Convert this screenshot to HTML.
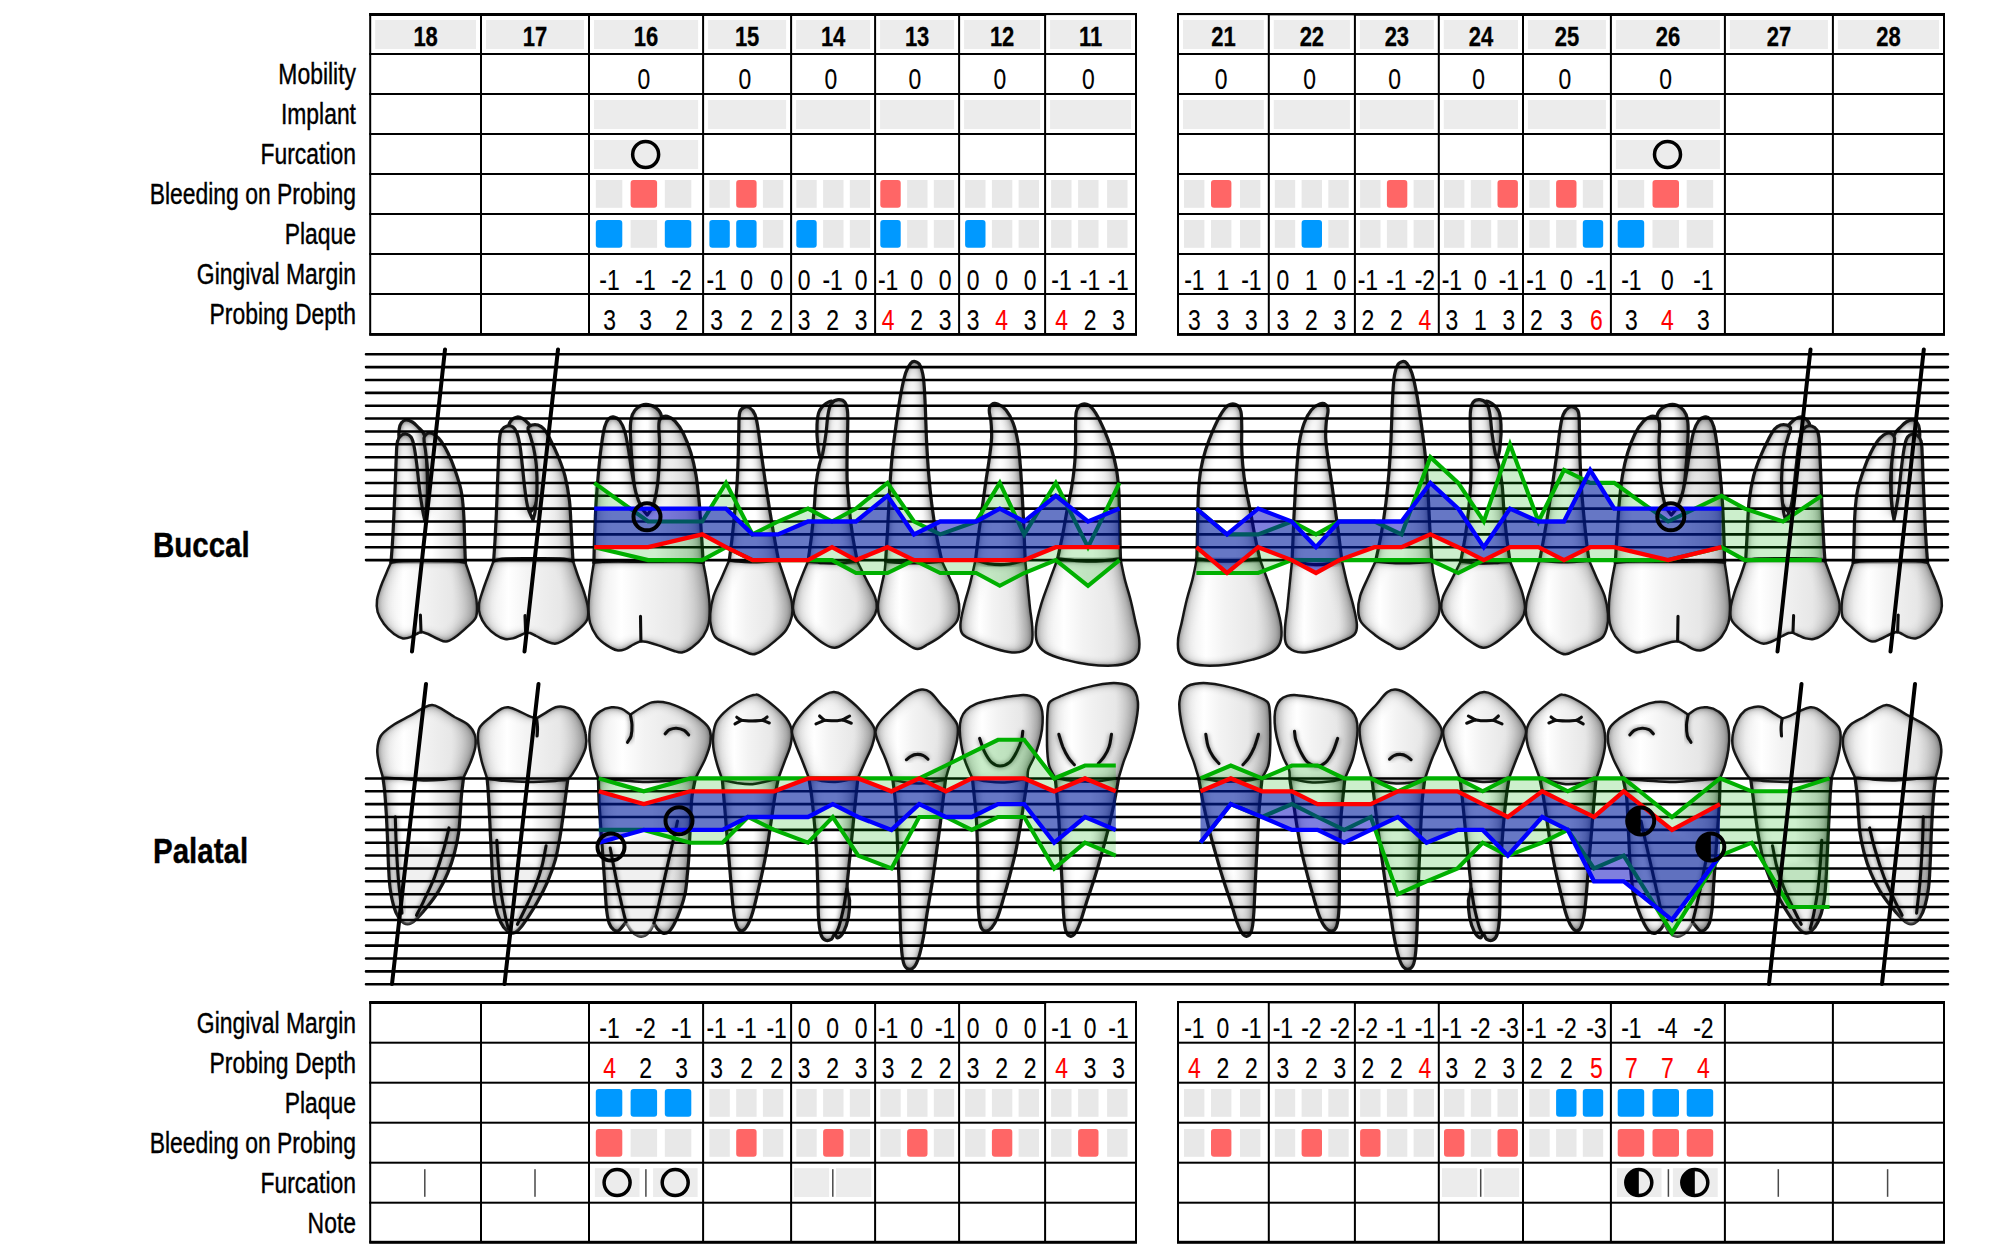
<!DOCTYPE html>
<html lang="en"><head><meta charset="utf-8"><title>Periodontal Chart</title>
<style>html,body{margin:0;padding:0;background:#fff}body{width:2000px;height:1250px;overflow:hidden}svg{display:block}</style>
</head><body>
<svg width="2000" height="1250" viewBox="0 0 2000 1250" font-family="'Liberation Sans', Arial, sans-serif" stroke-width="0.4">
<rect width="2000" height="1250" fill="#fff"/>
<text transform="translate(356.00,84.20) scale(0.801,1)" font-size="28.6" text-anchor="end" stroke="#000" stroke-width="0.4">Mobility</text>
<text transform="translate(356.00,124.20) scale(0.801,1)" font-size="28.6" text-anchor="end" stroke="#000" stroke-width="0.4">Implant</text>
<text transform="translate(356.00,164.20) scale(0.801,1)" font-size="28.6" text-anchor="end" stroke="#000" stroke-width="0.4">Furcation</text>
<text transform="translate(356.00,204.20) scale(0.801,1)" font-size="28.6" text-anchor="end" stroke="#000" stroke-width="0.4">Bleeding on Probing</text>
<text transform="translate(356.00,244.20) scale(0.801,1)" font-size="28.6" text-anchor="end" stroke="#000" stroke-width="0.4">Plaque</text>
<text transform="translate(356.00,284.20) scale(0.801,1)" font-size="28.6" text-anchor="end" stroke="#000" stroke-width="0.4">Gingival Margin</text>
<text transform="translate(356.00,324.20) scale(0.801,1)" font-size="28.6" text-anchor="end" stroke="#000" stroke-width="0.4">Probing Depth</text>
<text transform="translate(356.00,1032.50) scale(0.801,1)" font-size="28.6" text-anchor="end" stroke="#000" stroke-width="0.4">Gingival Margin</text>
<text transform="translate(356.00,1072.50) scale(0.801,1)" font-size="28.6" text-anchor="end" stroke="#000" stroke-width="0.4">Probing Depth</text>
<text transform="translate(356.00,1112.50) scale(0.801,1)" font-size="28.6" text-anchor="end" stroke="#000" stroke-width="0.4">Plaque</text>
<text transform="translate(356.00,1152.50) scale(0.801,1)" font-size="28.6" text-anchor="end" stroke="#000" stroke-width="0.4">Bleeding on Probing</text>
<text transform="translate(356.00,1192.50) scale(0.801,1)" font-size="28.6" text-anchor="end" stroke="#000" stroke-width="0.4">Furcation</text>
<text transform="translate(356.00,1232.50) scale(0.801,1)" font-size="28.6" text-anchor="end" stroke="#000" stroke-width="0.4">Note</text>
<text transform="translate(153.00,557.20) scale(0.825,1)" font-size="35.75" text-anchor="start" font-weight="bold" stroke="#000" stroke-width="0.4">Buccal</text>
<text transform="translate(153.00,863.20) scale(0.825,1)" font-size="35.75" text-anchor="start" font-weight="bold" stroke="#000" stroke-width="0.4">Palatal</text>
<rect x="375.20" y="20.00" width="100.80" height="29.00" fill="#ececec"/>
<text transform="translate(425.60,45.80) scale(0.78,1)" font-size="28.2" text-anchor="middle" font-weight="bold" stroke="#000" stroke-width="0.3">18</text>
<rect x="486.00" y="20.00" width="98.00" height="29.00" fill="#ececec"/>
<text transform="translate(535.00,45.80) scale(0.78,1)" font-size="28.2" text-anchor="middle" font-weight="bold" stroke="#000" stroke-width="0.3">17</text>
<rect x="594.00" y="20.00" width="104.10" height="29.00" fill="#ececec"/>
<text transform="translate(646.05,45.80) scale(0.78,1)" font-size="28.2" text-anchor="middle" font-weight="bold" stroke="#000" stroke-width="0.3">16</text>
<rect x="708.10" y="20.00" width="78.00" height="29.00" fill="#ececec"/>
<text transform="translate(747.10,45.80) scale(0.78,1)" font-size="28.2" text-anchor="middle" font-weight="bold" stroke="#000" stroke-width="0.3">15</text>
<rect x="796.10" y="20.00" width="74.00" height="29.00" fill="#ececec"/>
<text transform="translate(833.10,45.80) scale(0.78,1)" font-size="28.2" text-anchor="middle" font-weight="bold" stroke="#000" stroke-width="0.3">14</text>
<rect x="880.10" y="20.00" width="74.00" height="29.00" fill="#ececec"/>
<text transform="translate(917.10,45.80) scale(0.78,1)" font-size="28.2" text-anchor="middle" font-weight="bold" stroke="#000" stroke-width="0.3">13</text>
<rect x="964.10" y="20.00" width="76.00" height="29.00" fill="#ececec"/>
<text transform="translate(1002.10,45.80) scale(0.78,1)" font-size="28.2" text-anchor="middle" font-weight="bold" stroke="#000" stroke-width="0.3">12</text>
<rect x="1050.10" y="20.00" width="80.90" height="29.00" fill="#ececec"/>
<text transform="translate(1090.55,45.80) scale(0.78,1)" font-size="28.2" text-anchor="middle" font-weight="bold" stroke="#000" stroke-width="0.3">11</text>
<text transform="translate(643.85,89.00) scale(0.801,1)" font-size="28.6" text-anchor="middle" stroke="#000" stroke-width="0.12">0</text>
<rect x="594.00" y="100.00" width="104.10" height="29.00" fill="#ececec"/>
<rect x="594.00" y="140.00" width="104.10" height="29.00" fill="#ececec"/>
<circle cx="645.65" cy="154.50" r="13" fill="none" stroke="#000" stroke-width="3.5"/>
<text transform="translate(744.90,89.00) scale(0.801,1)" font-size="28.6" text-anchor="middle" stroke="#000" stroke-width="0.12">0</text>
<rect x="708.10" y="100.00" width="78.00" height="29.00" fill="#ececec"/>
<text transform="translate(830.90,89.00) scale(0.801,1)" font-size="28.6" text-anchor="middle" stroke="#000" stroke-width="0.12">0</text>
<rect x="796.10" y="100.00" width="74.00" height="29.00" fill="#ececec"/>
<text transform="translate(914.90,89.00) scale(0.801,1)" font-size="28.6" text-anchor="middle" stroke="#000" stroke-width="0.12">0</text>
<rect x="880.10" y="100.00" width="74.00" height="29.00" fill="#ececec"/>
<text transform="translate(999.90,89.00) scale(0.801,1)" font-size="28.6" text-anchor="middle" stroke="#000" stroke-width="0.12">0</text>
<rect x="964.10" y="100.00" width="76.00" height="29.00" fill="#ececec"/>
<text transform="translate(1088.35,89.00) scale(0.801,1)" font-size="28.6" text-anchor="middle" stroke="#000" stroke-width="0.12">0</text>
<rect x="1050.10" y="100.00" width="80.90" height="29.00" fill="#ececec"/>
<rect x="1183.00" y="20.00" width="80.80" height="29.00" fill="#ececec"/>
<text transform="translate(1223.40,45.80) scale(0.78,1)" font-size="28.2" text-anchor="middle" font-weight="bold" stroke="#000" stroke-width="0.3">21</text>
<rect x="1273.80" y="20.00" width="76.10" height="29.00" fill="#ececec"/>
<text transform="translate(1311.85,45.80) scale(0.78,1)" font-size="28.2" text-anchor="middle" font-weight="bold" stroke="#000" stroke-width="0.3">22</text>
<rect x="1359.90" y="20.00" width="73.90" height="29.00" fill="#ececec"/>
<text transform="translate(1396.85,45.80) scale(0.78,1)" font-size="28.2" text-anchor="middle" font-weight="bold" stroke="#000" stroke-width="0.3">23</text>
<rect x="1443.80" y="20.00" width="74.20" height="29.00" fill="#ececec"/>
<text transform="translate(1480.90,45.80) scale(0.78,1)" font-size="28.2" text-anchor="middle" font-weight="bold" stroke="#000" stroke-width="0.3">24</text>
<rect x="1528.00" y="20.00" width="77.90" height="29.00" fill="#ececec"/>
<text transform="translate(1566.95,45.80) scale(0.78,1)" font-size="28.2" text-anchor="middle" font-weight="bold" stroke="#000" stroke-width="0.3">25</text>
<rect x="1615.90" y="20.00" width="104.00" height="29.00" fill="#ececec"/>
<text transform="translate(1667.90,45.80) scale(0.78,1)" font-size="28.2" text-anchor="middle" font-weight="bold" stroke="#000" stroke-width="0.3">26</text>
<rect x="1729.90" y="20.00" width="98.00" height="29.00" fill="#ececec"/>
<text transform="translate(1778.90,45.80) scale(0.78,1)" font-size="28.2" text-anchor="middle" font-weight="bold" stroke="#000" stroke-width="0.3">27</text>
<rect x="1837.90" y="20.00" width="101.10" height="29.00" fill="#ececec"/>
<text transform="translate(1888.45,45.80) scale(0.78,1)" font-size="28.2" text-anchor="middle" font-weight="bold" stroke="#000" stroke-width="0.3">28</text>
<text transform="translate(1221.20,89.00) scale(0.801,1)" font-size="28.6" text-anchor="middle" stroke="#000" stroke-width="0.12">0</text>
<rect x="1183.00" y="100.00" width="80.80" height="29.00" fill="#ececec"/>
<text transform="translate(1309.65,89.00) scale(0.801,1)" font-size="28.6" text-anchor="middle" stroke="#000" stroke-width="0.12">0</text>
<rect x="1273.80" y="100.00" width="76.10" height="29.00" fill="#ececec"/>
<text transform="translate(1394.65,89.00) scale(0.801,1)" font-size="28.6" text-anchor="middle" stroke="#000" stroke-width="0.12">0</text>
<rect x="1359.90" y="100.00" width="73.90" height="29.00" fill="#ececec"/>
<text transform="translate(1478.70,89.00) scale(0.801,1)" font-size="28.6" text-anchor="middle" stroke="#000" stroke-width="0.12">0</text>
<rect x="1443.80" y="100.00" width="74.20" height="29.00" fill="#ececec"/>
<text transform="translate(1564.75,89.00) scale(0.801,1)" font-size="28.6" text-anchor="middle" stroke="#000" stroke-width="0.12">0</text>
<rect x="1528.00" y="100.00" width="77.90" height="29.00" fill="#ececec"/>
<text transform="translate(1665.70,89.00) scale(0.801,1)" font-size="28.6" text-anchor="middle" stroke="#000" stroke-width="0.12">0</text>
<rect x="1615.90" y="100.00" width="104.00" height="29.00" fill="#ececec"/>
<rect x="1615.90" y="140.00" width="104.00" height="29.00" fill="#ececec"/>
<circle cx="1667.50" cy="154.50" r="13" fill="none" stroke="#000" stroke-width="3.5"/>
<rect x="595.80" y="180.00" width="26.50" height="27.80" fill="#e8e8e8"/>
<rect x="630.60" y="180.00" width="26.50" height="27.80" fill="#ff6666" rx="3"/>
<rect x="664.80" y="180.00" width="26.50" height="27.80" fill="#e8e8e8"/>
<rect x="709.40" y="180.00" width="20.40" height="27.80" fill="#e8e8e8"/>
<rect x="736.20" y="180.00" width="20.40" height="27.80" fill="#ff6666" rx="3"/>
<rect x="762.90" y="180.00" width="20.40" height="27.80" fill="#e8e8e8"/>
<rect x="796.30" y="180.00" width="20.40" height="27.80" fill="#e8e8e8"/>
<rect x="823.10" y="180.00" width="20.40" height="27.80" fill="#e8e8e8"/>
<rect x="849.80" y="180.00" width="20.40" height="27.80" fill="#e8e8e8"/>
<rect x="880.30" y="180.00" width="20.40" height="27.80" fill="#ff6666" rx="3"/>
<rect x="907.10" y="180.00" width="20.40" height="27.80" fill="#e8e8e8"/>
<rect x="933.80" y="180.00" width="20.40" height="27.80" fill="#e8e8e8"/>
<rect x="965.10" y="180.00" width="20.40" height="27.80" fill="#e8e8e8"/>
<rect x="991.90" y="180.00" width="20.40" height="27.80" fill="#e8e8e8"/>
<rect x="1018.60" y="180.00" width="20.40" height="27.80" fill="#e8e8e8"/>
<rect x="1051.10" y="180.00" width="20.40" height="27.80" fill="#e8e8e8"/>
<rect x="1078.10" y="180.00" width="20.40" height="27.80" fill="#e8e8e8"/>
<rect x="1107.10" y="180.00" width="20.40" height="27.80" fill="#e8e8e8"/>
<rect x="1184.00" y="180.00" width="20.40" height="27.80" fill="#e8e8e8"/>
<rect x="1211.00" y="180.00" width="20.40" height="27.80" fill="#ff6666" rx="3"/>
<rect x="1240.00" y="180.00" width="20.40" height="27.80" fill="#e8e8e8"/>
<rect x="1274.80" y="180.00" width="20.40" height="27.80" fill="#e8e8e8"/>
<rect x="1301.60" y="180.00" width="20.40" height="27.80" fill="#e8e8e8"/>
<rect x="1328.30" y="180.00" width="20.40" height="27.80" fill="#e8e8e8"/>
<rect x="1360.10" y="180.00" width="20.40" height="27.80" fill="#e8e8e8"/>
<rect x="1386.90" y="180.00" width="20.40" height="27.80" fill="#ff6666" rx="3"/>
<rect x="1413.60" y="180.00" width="20.40" height="27.80" fill="#e8e8e8"/>
<rect x="1444.00" y="180.00" width="20.40" height="27.80" fill="#e8e8e8"/>
<rect x="1470.80" y="180.00" width="20.40" height="27.80" fill="#e8e8e8"/>
<rect x="1497.50" y="180.00" width="20.40" height="27.80" fill="#ff6666" rx="3"/>
<rect x="1529.30" y="180.00" width="20.40" height="27.80" fill="#e8e8e8"/>
<rect x="1556.10" y="180.00" width="20.40" height="27.80" fill="#ff6666" rx="3"/>
<rect x="1582.80" y="180.00" width="20.40" height="27.80" fill="#e8e8e8"/>
<rect x="1617.70" y="180.00" width="26.50" height="27.80" fill="#e8e8e8"/>
<rect x="1652.50" y="180.00" width="26.50" height="27.80" fill="#ff6666" rx="3"/>
<rect x="1686.70" y="180.00" width="26.50" height="27.80" fill="#e8e8e8"/>
<rect x="595.80" y="220.00" width="26.50" height="27.80" fill="#0099ff" rx="3"/>
<rect x="630.60" y="220.00" width="26.50" height="27.80" fill="#e8e8e8"/>
<rect x="664.80" y="220.00" width="26.50" height="27.80" fill="#0099ff" rx="3"/>
<rect x="709.40" y="220.00" width="20.40" height="27.80" fill="#0099ff" rx="3"/>
<rect x="736.20" y="220.00" width="20.40" height="27.80" fill="#0099ff" rx="3"/>
<rect x="762.90" y="220.00" width="20.40" height="27.80" fill="#e8e8e8"/>
<rect x="796.30" y="220.00" width="20.40" height="27.80" fill="#0099ff" rx="3"/>
<rect x="823.10" y="220.00" width="20.40" height="27.80" fill="#e8e8e8"/>
<rect x="849.80" y="220.00" width="20.40" height="27.80" fill="#e8e8e8"/>
<rect x="880.30" y="220.00" width="20.40" height="27.80" fill="#0099ff" rx="3"/>
<rect x="907.10" y="220.00" width="20.40" height="27.80" fill="#e8e8e8"/>
<rect x="933.80" y="220.00" width="20.40" height="27.80" fill="#e8e8e8"/>
<rect x="965.10" y="220.00" width="20.40" height="27.80" fill="#0099ff" rx="3"/>
<rect x="991.90" y="220.00" width="20.40" height="27.80" fill="#e8e8e8"/>
<rect x="1018.60" y="220.00" width="20.40" height="27.80" fill="#e8e8e8"/>
<rect x="1051.10" y="220.00" width="20.40" height="27.80" fill="#e8e8e8"/>
<rect x="1078.10" y="220.00" width="20.40" height="27.80" fill="#e8e8e8"/>
<rect x="1107.10" y="220.00" width="20.40" height="27.80" fill="#e8e8e8"/>
<rect x="1184.00" y="220.00" width="20.40" height="27.80" fill="#e8e8e8"/>
<rect x="1211.00" y="220.00" width="20.40" height="27.80" fill="#e8e8e8"/>
<rect x="1240.00" y="220.00" width="20.40" height="27.80" fill="#e8e8e8"/>
<rect x="1274.80" y="220.00" width="20.40" height="27.80" fill="#e8e8e8"/>
<rect x="1301.60" y="220.00" width="20.40" height="27.80" fill="#0099ff" rx="3"/>
<rect x="1328.30" y="220.00" width="20.40" height="27.80" fill="#e8e8e8"/>
<rect x="1360.10" y="220.00" width="20.40" height="27.80" fill="#e8e8e8"/>
<rect x="1386.90" y="220.00" width="20.40" height="27.80" fill="#e8e8e8"/>
<rect x="1413.60" y="220.00" width="20.40" height="27.80" fill="#e8e8e8"/>
<rect x="1444.00" y="220.00" width="20.40" height="27.80" fill="#e8e8e8"/>
<rect x="1470.80" y="220.00" width="20.40" height="27.80" fill="#e8e8e8"/>
<rect x="1497.50" y="220.00" width="20.40" height="27.80" fill="#e8e8e8"/>
<rect x="1529.30" y="220.00" width="20.40" height="27.80" fill="#e8e8e8"/>
<rect x="1556.10" y="220.00" width="20.40" height="27.80" fill="#e8e8e8"/>
<rect x="1582.80" y="220.00" width="20.40" height="27.80" fill="#0099ff" rx="3"/>
<rect x="1617.70" y="220.00" width="26.50" height="27.80" fill="#0099ff" rx="3"/>
<rect x="1652.50" y="220.00" width="26.50" height="27.80" fill="#e8e8e8"/>
<rect x="1686.70" y="220.00" width="26.50" height="27.80" fill="#e8e8e8"/>
<text transform="translate(609.55,289.70) scale(0.801,1)" font-size="28.6" text-anchor="middle" stroke="#000" stroke-width="0.12">-1</text>
<text transform="translate(645.55,289.70) scale(0.801,1)" font-size="28.6" text-anchor="middle" stroke="#000" stroke-width="0.12">-1</text>
<text transform="translate(681.55,289.70) scale(0.801,1)" font-size="28.6" text-anchor="middle" stroke="#000" stroke-width="0.12">-2</text>
<text transform="translate(716.60,289.70) scale(0.801,1)" font-size="28.6" text-anchor="middle" stroke="#000" stroke-width="0.12">-1</text>
<text transform="translate(746.60,289.70) scale(0.801,1)" font-size="28.6" text-anchor="middle" stroke="#000" stroke-width="0.12">0</text>
<text transform="translate(776.60,289.70) scale(0.801,1)" font-size="28.6" text-anchor="middle" stroke="#000" stroke-width="0.12">0</text>
<text transform="translate(804.10,289.70) scale(0.801,1)" font-size="28.6" text-anchor="middle" stroke="#000" stroke-width="0.12">0</text>
<text transform="translate(832.60,289.70) scale(0.801,1)" font-size="28.6" text-anchor="middle" stroke="#000" stroke-width="0.12">-1</text>
<text transform="translate(861.10,289.70) scale(0.801,1)" font-size="28.6" text-anchor="middle" stroke="#000" stroke-width="0.12">0</text>
<text transform="translate(888.10,289.70) scale(0.801,1)" font-size="28.6" text-anchor="middle" stroke="#000" stroke-width="0.12">-1</text>
<text transform="translate(916.60,289.70) scale(0.801,1)" font-size="28.6" text-anchor="middle" stroke="#000" stroke-width="0.12">0</text>
<text transform="translate(945.10,289.70) scale(0.801,1)" font-size="28.6" text-anchor="middle" stroke="#000" stroke-width="0.12">0</text>
<text transform="translate(973.10,289.70) scale(0.801,1)" font-size="28.6" text-anchor="middle" stroke="#000" stroke-width="0.12">0</text>
<text transform="translate(1001.60,289.70) scale(0.801,1)" font-size="28.6" text-anchor="middle" stroke="#000" stroke-width="0.12">0</text>
<text transform="translate(1030.10,289.70) scale(0.801,1)" font-size="28.6" text-anchor="middle" stroke="#000" stroke-width="0.12">0</text>
<text transform="translate(1061.55,289.70) scale(0.801,1)" font-size="28.6" text-anchor="middle" stroke="#000" stroke-width="0.12">-1</text>
<text transform="translate(1090.05,289.70) scale(0.801,1)" font-size="28.6" text-anchor="middle" stroke="#000" stroke-width="0.12">-1</text>
<text transform="translate(1118.55,289.70) scale(0.801,1)" font-size="28.6" text-anchor="middle" stroke="#000" stroke-width="0.12">-1</text>
<text transform="translate(1194.40,289.70) scale(0.801,1)" font-size="28.6" text-anchor="middle" stroke="#000" stroke-width="0.12">-1</text>
<text transform="translate(1222.90,289.70) scale(0.801,1)" font-size="28.6" text-anchor="middle" stroke="#000" stroke-width="0.12">1</text>
<text transform="translate(1251.40,289.70) scale(0.801,1)" font-size="28.6" text-anchor="middle" stroke="#000" stroke-width="0.12">-1</text>
<text transform="translate(1282.85,289.70) scale(0.801,1)" font-size="28.6" text-anchor="middle" stroke="#000" stroke-width="0.12">0</text>
<text transform="translate(1311.35,289.70) scale(0.801,1)" font-size="28.6" text-anchor="middle" stroke="#000" stroke-width="0.12">1</text>
<text transform="translate(1339.85,289.70) scale(0.801,1)" font-size="28.6" text-anchor="middle" stroke="#000" stroke-width="0.12">0</text>
<text transform="translate(1367.85,289.70) scale(0.801,1)" font-size="28.6" text-anchor="middle" stroke="#000" stroke-width="0.12">-1</text>
<text transform="translate(1396.35,289.70) scale(0.801,1)" font-size="28.6" text-anchor="middle" stroke="#000" stroke-width="0.12">-1</text>
<text transform="translate(1424.85,289.70) scale(0.801,1)" font-size="28.6" text-anchor="middle" stroke="#000" stroke-width="0.12">-2</text>
<text transform="translate(1451.90,289.70) scale(0.801,1)" font-size="28.6" text-anchor="middle" stroke="#000" stroke-width="0.12">-1</text>
<text transform="translate(1480.40,289.70) scale(0.801,1)" font-size="28.6" text-anchor="middle" stroke="#000" stroke-width="0.12">0</text>
<text transform="translate(1508.90,289.70) scale(0.801,1)" font-size="28.6" text-anchor="middle" stroke="#000" stroke-width="0.12">-1</text>
<text transform="translate(1536.45,289.70) scale(0.801,1)" font-size="28.6" text-anchor="middle" stroke="#000" stroke-width="0.12">-1</text>
<text transform="translate(1566.45,289.70) scale(0.801,1)" font-size="28.6" text-anchor="middle" stroke="#000" stroke-width="0.12">0</text>
<text transform="translate(1596.45,289.70) scale(0.801,1)" font-size="28.6" text-anchor="middle" stroke="#000" stroke-width="0.12">-1</text>
<text transform="translate(1631.40,289.70) scale(0.801,1)" font-size="28.6" text-anchor="middle" stroke="#000" stroke-width="0.12">-1</text>
<text transform="translate(1667.40,289.70) scale(0.801,1)" font-size="28.6" text-anchor="middle" stroke="#000" stroke-width="0.12">0</text>
<text transform="translate(1703.40,289.70) scale(0.801,1)" font-size="28.6" text-anchor="middle" stroke="#000" stroke-width="0.12">-1</text>
<text transform="translate(609.55,329.60) scale(0.801,1)" font-size="28.6" text-anchor="middle" stroke="#000" stroke-width="0.12">3</text>
<text transform="translate(645.55,329.60) scale(0.801,1)" font-size="28.6" text-anchor="middle" stroke="#000" stroke-width="0.12">3</text>
<text transform="translate(681.55,329.60) scale(0.801,1)" font-size="28.6" text-anchor="middle" stroke="#000" stroke-width="0.12">2</text>
<text transform="translate(716.60,329.60) scale(0.801,1)" font-size="28.6" text-anchor="middle" stroke="#000" stroke-width="0.12">3</text>
<text transform="translate(746.60,329.60) scale(0.801,1)" font-size="28.6" text-anchor="middle" stroke="#000" stroke-width="0.12">2</text>
<text transform="translate(776.60,329.60) scale(0.801,1)" font-size="28.6" text-anchor="middle" stroke="#000" stroke-width="0.12">2</text>
<text transform="translate(804.10,329.60) scale(0.801,1)" font-size="28.6" text-anchor="middle" stroke="#000" stroke-width="0.12">3</text>
<text transform="translate(832.60,329.60) scale(0.801,1)" font-size="28.6" text-anchor="middle" stroke="#000" stroke-width="0.12">2</text>
<text transform="translate(861.10,329.60) scale(0.801,1)" font-size="28.6" text-anchor="middle" stroke="#000" stroke-width="0.12">3</text>
<text transform="translate(888.10,329.60) scale(0.801,1)" font-size="28.6" text-anchor="middle" fill="#f00" stroke="#f00" stroke-width="0.12">4</text>
<text transform="translate(916.60,329.60) scale(0.801,1)" font-size="28.6" text-anchor="middle" stroke="#000" stroke-width="0.12">2</text>
<text transform="translate(945.10,329.60) scale(0.801,1)" font-size="28.6" text-anchor="middle" stroke="#000" stroke-width="0.12">3</text>
<text transform="translate(973.10,329.60) scale(0.801,1)" font-size="28.6" text-anchor="middle" stroke="#000" stroke-width="0.12">3</text>
<text transform="translate(1001.60,329.60) scale(0.801,1)" font-size="28.6" text-anchor="middle" fill="#f00" stroke="#f00" stroke-width="0.12">4</text>
<text transform="translate(1030.10,329.60) scale(0.801,1)" font-size="28.6" text-anchor="middle" stroke="#000" stroke-width="0.12">3</text>
<text transform="translate(1061.55,329.60) scale(0.801,1)" font-size="28.6" text-anchor="middle" fill="#f00" stroke="#f00" stroke-width="0.12">4</text>
<text transform="translate(1090.05,329.60) scale(0.801,1)" font-size="28.6" text-anchor="middle" stroke="#000" stroke-width="0.12">2</text>
<text transform="translate(1118.55,329.60) scale(0.801,1)" font-size="28.6" text-anchor="middle" stroke="#000" stroke-width="0.12">3</text>
<text transform="translate(1194.40,329.60) scale(0.801,1)" font-size="28.6" text-anchor="middle" stroke="#000" stroke-width="0.12">3</text>
<text transform="translate(1222.90,329.60) scale(0.801,1)" font-size="28.6" text-anchor="middle" stroke="#000" stroke-width="0.12">3</text>
<text transform="translate(1251.40,329.60) scale(0.801,1)" font-size="28.6" text-anchor="middle" stroke="#000" stroke-width="0.12">3</text>
<text transform="translate(1282.85,329.60) scale(0.801,1)" font-size="28.6" text-anchor="middle" stroke="#000" stroke-width="0.12">3</text>
<text transform="translate(1311.35,329.60) scale(0.801,1)" font-size="28.6" text-anchor="middle" stroke="#000" stroke-width="0.12">2</text>
<text transform="translate(1339.85,329.60) scale(0.801,1)" font-size="28.6" text-anchor="middle" stroke="#000" stroke-width="0.12">3</text>
<text transform="translate(1367.85,329.60) scale(0.801,1)" font-size="28.6" text-anchor="middle" stroke="#000" stroke-width="0.12">2</text>
<text transform="translate(1396.35,329.60) scale(0.801,1)" font-size="28.6" text-anchor="middle" stroke="#000" stroke-width="0.12">2</text>
<text transform="translate(1424.85,329.60) scale(0.801,1)" font-size="28.6" text-anchor="middle" fill="#f00" stroke="#f00" stroke-width="0.12">4</text>
<text transform="translate(1451.90,329.60) scale(0.801,1)" font-size="28.6" text-anchor="middle" stroke="#000" stroke-width="0.12">3</text>
<text transform="translate(1480.40,329.60) scale(0.801,1)" font-size="28.6" text-anchor="middle" stroke="#000" stroke-width="0.12">1</text>
<text transform="translate(1508.90,329.60) scale(0.801,1)" font-size="28.6" text-anchor="middle" stroke="#000" stroke-width="0.12">3</text>
<text transform="translate(1536.45,329.60) scale(0.801,1)" font-size="28.6" text-anchor="middle" stroke="#000" stroke-width="0.12">2</text>
<text transform="translate(1566.45,329.60) scale(0.801,1)" font-size="28.6" text-anchor="middle" stroke="#000" stroke-width="0.12">3</text>
<text transform="translate(1596.45,329.60) scale(0.801,1)" font-size="28.6" text-anchor="middle" fill="#f00" stroke="#f00" stroke-width="0.12">6</text>
<text transform="translate(1631.40,329.60) scale(0.801,1)" font-size="28.6" text-anchor="middle" stroke="#000" stroke-width="0.12">3</text>
<text transform="translate(1667.40,329.60) scale(0.801,1)" font-size="28.6" text-anchor="middle" fill="#f00" stroke="#f00" stroke-width="0.12">4</text>
<text transform="translate(1703.40,329.60) scale(0.801,1)" font-size="28.6" text-anchor="middle" stroke="#000" stroke-width="0.12">3</text>
<rect x="369.20" y="13.00" width="112.80" height="3.00" fill="#000"/>
<rect x="480.00" y="13.00" width="110.00" height="3.00" fill="#000"/>
<rect x="588.00" y="13.00" width="116.10" height="3.00" fill="#000"/>
<rect x="702.10" y="13.00" width="90.00" height="3.00" fill="#000"/>
<rect x="790.10" y="13.00" width="86.00" height="3.00" fill="#000"/>
<rect x="874.10" y="13.00" width="86.00" height="3.00" fill="#000"/>
<rect x="958.10" y="13.00" width="88.00" height="3.00" fill="#000"/>
<rect x="1044.10" y="13.00" width="92.90" height="2.10" fill="#000"/>
<rect x="369.20" y="53.00" width="767.80" height="2.00" fill="#000"/>
<rect x="369.20" y="93.00" width="767.80" height="2.00" fill="#000"/>
<rect x="369.20" y="133.00" width="767.80" height="2.00" fill="#000"/>
<rect x="369.20" y="173.00" width="767.80" height="2.00" fill="#000"/>
<rect x="369.20" y="213.00" width="767.80" height="2.00" fill="#000"/>
<rect x="369.20" y="253.00" width="767.80" height="2.00" fill="#000"/>
<rect x="369.20" y="293.00" width="767.80" height="2.00" fill="#000"/>
<rect x="369.20" y="333.00" width="767.80" height="2.90" fill="#000"/>
<rect x="369.20" y="13.00" width="2.00" height="322.00" fill="#000"/>
<rect x="480.00" y="13.00" width="2.00" height="322.00" fill="#000"/>
<rect x="588.00" y="13.00" width="2.00" height="322.00" fill="#000"/>
<rect x="702.10" y="13.00" width="2.00" height="322.00" fill="#000"/>
<rect x="790.10" y="13.00" width="2.00" height="322.00" fill="#000"/>
<rect x="874.10" y="13.00" width="2.00" height="322.00" fill="#000"/>
<rect x="958.10" y="13.00" width="2.00" height="322.00" fill="#000"/>
<rect x="1044.10" y="13.00" width="2.00" height="322.00" fill="#000"/>
<rect x="1135.00" y="13.00" width="2.00" height="322.00" fill="#000"/>
<rect x="1177.00" y="13.00" width="92.80" height="2.10" fill="#000"/>
<rect x="1267.80" y="13.00" width="88.10" height="2.40" fill="#000"/>
<rect x="1353.90" y="13.00" width="85.90" height="2.80" fill="#000"/>
<rect x="1437.80" y="13.00" width="86.20" height="3.00" fill="#000"/>
<rect x="1522.00" y="13.00" width="89.90" height="3.00" fill="#000"/>
<rect x="1609.90" y="13.00" width="116.00" height="3.00" fill="#000"/>
<rect x="1723.90" y="13.00" width="110.00" height="3.00" fill="#000"/>
<rect x="1831.90" y="13.00" width="113.10" height="3.00" fill="#000"/>
<rect x="1177.00" y="53.00" width="768.00" height="2.00" fill="#000"/>
<rect x="1177.00" y="93.00" width="768.00" height="2.00" fill="#000"/>
<rect x="1177.00" y="133.00" width="768.00" height="2.00" fill="#000"/>
<rect x="1177.00" y="173.00" width="768.00" height="2.00" fill="#000"/>
<rect x="1177.00" y="213.00" width="768.00" height="2.00" fill="#000"/>
<rect x="1177.00" y="253.00" width="768.00" height="2.00" fill="#000"/>
<rect x="1177.00" y="293.00" width="768.00" height="2.00" fill="#000"/>
<rect x="1177.00" y="333.00" width="768.00" height="2.90" fill="#000"/>
<rect x="1177.00" y="13.00" width="2.00" height="322.00" fill="#000"/>
<rect x="1267.80" y="13.00" width="2.00" height="322.00" fill="#000"/>
<rect x="1353.90" y="13.00" width="2.00" height="322.00" fill="#000"/>
<rect x="1437.80" y="13.00" width="2.00" height="322.00" fill="#000"/>
<rect x="1522.00" y="13.00" width="2.00" height="322.00" fill="#000"/>
<rect x="1609.90" y="13.00" width="2.00" height="322.00" fill="#000"/>
<rect x="1723.90" y="13.00" width="2.00" height="322.00" fill="#000"/>
<rect x="1831.90" y="13.00" width="2.00" height="322.00" fill="#000"/>
<rect x="1943.00" y="13.00" width="2.00" height="322.00" fill="#000"/>
<text transform="translate(609.55,1037.80) scale(0.801,1)" font-size="28.6" text-anchor="middle" stroke="#000" stroke-width="0.12">-1</text>
<text transform="translate(645.55,1037.80) scale(0.801,1)" font-size="28.6" text-anchor="middle" stroke="#000" stroke-width="0.12">-2</text>
<text transform="translate(681.55,1037.80) scale(0.801,1)" font-size="28.6" text-anchor="middle" stroke="#000" stroke-width="0.12">-1</text>
<text transform="translate(716.60,1037.80) scale(0.801,1)" font-size="28.6" text-anchor="middle" stroke="#000" stroke-width="0.12">-1</text>
<text transform="translate(746.60,1037.80) scale(0.801,1)" font-size="28.6" text-anchor="middle" stroke="#000" stroke-width="0.12">-1</text>
<text transform="translate(776.60,1037.80) scale(0.801,1)" font-size="28.6" text-anchor="middle" stroke="#000" stroke-width="0.12">-1</text>
<text transform="translate(804.10,1037.80) scale(0.801,1)" font-size="28.6" text-anchor="middle" stroke="#000" stroke-width="0.12">0</text>
<text transform="translate(832.60,1037.80) scale(0.801,1)" font-size="28.6" text-anchor="middle" stroke="#000" stroke-width="0.12">0</text>
<text transform="translate(861.10,1037.80) scale(0.801,1)" font-size="28.6" text-anchor="middle" stroke="#000" stroke-width="0.12">0</text>
<text transform="translate(888.10,1037.80) scale(0.801,1)" font-size="28.6" text-anchor="middle" stroke="#000" stroke-width="0.12">-1</text>
<text transform="translate(916.60,1037.80) scale(0.801,1)" font-size="28.6" text-anchor="middle" stroke="#000" stroke-width="0.12">0</text>
<text transform="translate(945.10,1037.80) scale(0.801,1)" font-size="28.6" text-anchor="middle" stroke="#000" stroke-width="0.12">-1</text>
<text transform="translate(973.10,1037.80) scale(0.801,1)" font-size="28.6" text-anchor="middle" stroke="#000" stroke-width="0.12">0</text>
<text transform="translate(1001.60,1037.80) scale(0.801,1)" font-size="28.6" text-anchor="middle" stroke="#000" stroke-width="0.12">0</text>
<text transform="translate(1030.10,1037.80) scale(0.801,1)" font-size="28.6" text-anchor="middle" stroke="#000" stroke-width="0.12">0</text>
<text transform="translate(1061.55,1037.80) scale(0.801,1)" font-size="28.6" text-anchor="middle" stroke="#000" stroke-width="0.12">-1</text>
<text transform="translate(1090.05,1037.80) scale(0.801,1)" font-size="28.6" text-anchor="middle" stroke="#000" stroke-width="0.12">0</text>
<text transform="translate(1118.55,1037.80) scale(0.801,1)" font-size="28.6" text-anchor="middle" stroke="#000" stroke-width="0.12">-1</text>
<text transform="translate(1194.40,1037.80) scale(0.801,1)" font-size="28.6" text-anchor="middle" stroke="#000" stroke-width="0.12">-1</text>
<text transform="translate(1222.90,1037.80) scale(0.801,1)" font-size="28.6" text-anchor="middle" stroke="#000" stroke-width="0.12">0</text>
<text transform="translate(1251.40,1037.80) scale(0.801,1)" font-size="28.6" text-anchor="middle" stroke="#000" stroke-width="0.12">-1</text>
<text transform="translate(1282.85,1037.80) scale(0.801,1)" font-size="28.6" text-anchor="middle" stroke="#000" stroke-width="0.12">-1</text>
<text transform="translate(1311.35,1037.80) scale(0.801,1)" font-size="28.6" text-anchor="middle" stroke="#000" stroke-width="0.12">-2</text>
<text transform="translate(1339.85,1037.80) scale(0.801,1)" font-size="28.6" text-anchor="middle" stroke="#000" stroke-width="0.12">-2</text>
<text transform="translate(1367.85,1037.80) scale(0.801,1)" font-size="28.6" text-anchor="middle" stroke="#000" stroke-width="0.12">-2</text>
<text transform="translate(1396.35,1037.80) scale(0.801,1)" font-size="28.6" text-anchor="middle" stroke="#000" stroke-width="0.12">-1</text>
<text transform="translate(1424.85,1037.80) scale(0.801,1)" font-size="28.6" text-anchor="middle" stroke="#000" stroke-width="0.12">-1</text>
<text transform="translate(1451.90,1037.80) scale(0.801,1)" font-size="28.6" text-anchor="middle" stroke="#000" stroke-width="0.12">-1</text>
<text transform="translate(1480.40,1037.80) scale(0.801,1)" font-size="28.6" text-anchor="middle" stroke="#000" stroke-width="0.12">-2</text>
<text transform="translate(1508.90,1037.80) scale(0.801,1)" font-size="28.6" text-anchor="middle" stroke="#000" stroke-width="0.12">-3</text>
<text transform="translate(1536.45,1037.80) scale(0.801,1)" font-size="28.6" text-anchor="middle" stroke="#000" stroke-width="0.12">-1</text>
<text transform="translate(1566.45,1037.80) scale(0.801,1)" font-size="28.6" text-anchor="middle" stroke="#000" stroke-width="0.12">-2</text>
<text transform="translate(1596.45,1037.80) scale(0.801,1)" font-size="28.6" text-anchor="middle" stroke="#000" stroke-width="0.12">-3</text>
<text transform="translate(1631.40,1037.80) scale(0.801,1)" font-size="28.6" text-anchor="middle" stroke="#000" stroke-width="0.12">-1</text>
<text transform="translate(1667.40,1037.80) scale(0.801,1)" font-size="28.6" text-anchor="middle" stroke="#000" stroke-width="0.12">-4</text>
<text transform="translate(1703.40,1037.80) scale(0.801,1)" font-size="28.6" text-anchor="middle" stroke="#000" stroke-width="0.12">-2</text>
<text transform="translate(609.55,1077.80) scale(0.801,1)" font-size="28.6" text-anchor="middle" fill="#f00" stroke="#f00" stroke-width="0.12">4</text>
<text transform="translate(645.55,1077.80) scale(0.801,1)" font-size="28.6" text-anchor="middle" stroke="#000" stroke-width="0.12">2</text>
<text transform="translate(681.55,1077.80) scale(0.801,1)" font-size="28.6" text-anchor="middle" stroke="#000" stroke-width="0.12">3</text>
<text transform="translate(716.60,1077.80) scale(0.801,1)" font-size="28.6" text-anchor="middle" stroke="#000" stroke-width="0.12">3</text>
<text transform="translate(746.60,1077.80) scale(0.801,1)" font-size="28.6" text-anchor="middle" stroke="#000" stroke-width="0.12">2</text>
<text transform="translate(776.60,1077.80) scale(0.801,1)" font-size="28.6" text-anchor="middle" stroke="#000" stroke-width="0.12">2</text>
<text transform="translate(804.10,1077.80) scale(0.801,1)" font-size="28.6" text-anchor="middle" stroke="#000" stroke-width="0.12">3</text>
<text transform="translate(832.60,1077.80) scale(0.801,1)" font-size="28.6" text-anchor="middle" stroke="#000" stroke-width="0.12">2</text>
<text transform="translate(861.10,1077.80) scale(0.801,1)" font-size="28.6" text-anchor="middle" stroke="#000" stroke-width="0.12">3</text>
<text transform="translate(888.10,1077.80) scale(0.801,1)" font-size="28.6" text-anchor="middle" stroke="#000" stroke-width="0.12">3</text>
<text transform="translate(916.60,1077.80) scale(0.801,1)" font-size="28.6" text-anchor="middle" stroke="#000" stroke-width="0.12">2</text>
<text transform="translate(945.10,1077.80) scale(0.801,1)" font-size="28.6" text-anchor="middle" stroke="#000" stroke-width="0.12">2</text>
<text transform="translate(973.10,1077.80) scale(0.801,1)" font-size="28.6" text-anchor="middle" stroke="#000" stroke-width="0.12">3</text>
<text transform="translate(1001.60,1077.80) scale(0.801,1)" font-size="28.6" text-anchor="middle" stroke="#000" stroke-width="0.12">2</text>
<text transform="translate(1030.10,1077.80) scale(0.801,1)" font-size="28.6" text-anchor="middle" stroke="#000" stroke-width="0.12">2</text>
<text transform="translate(1061.55,1077.80) scale(0.801,1)" font-size="28.6" text-anchor="middle" fill="#f00" stroke="#f00" stroke-width="0.12">4</text>
<text transform="translate(1090.05,1077.80) scale(0.801,1)" font-size="28.6" text-anchor="middle" stroke="#000" stroke-width="0.12">3</text>
<text transform="translate(1118.55,1077.80) scale(0.801,1)" font-size="28.6" text-anchor="middle" stroke="#000" stroke-width="0.12">3</text>
<text transform="translate(1194.40,1077.80) scale(0.801,1)" font-size="28.6" text-anchor="middle" fill="#f00" stroke="#f00" stroke-width="0.12">4</text>
<text transform="translate(1222.90,1077.80) scale(0.801,1)" font-size="28.6" text-anchor="middle" stroke="#000" stroke-width="0.12">2</text>
<text transform="translate(1251.40,1077.80) scale(0.801,1)" font-size="28.6" text-anchor="middle" stroke="#000" stroke-width="0.12">2</text>
<text transform="translate(1282.85,1077.80) scale(0.801,1)" font-size="28.6" text-anchor="middle" stroke="#000" stroke-width="0.12">3</text>
<text transform="translate(1311.35,1077.80) scale(0.801,1)" font-size="28.6" text-anchor="middle" stroke="#000" stroke-width="0.12">2</text>
<text transform="translate(1339.85,1077.80) scale(0.801,1)" font-size="28.6" text-anchor="middle" stroke="#000" stroke-width="0.12">3</text>
<text transform="translate(1367.85,1077.80) scale(0.801,1)" font-size="28.6" text-anchor="middle" stroke="#000" stroke-width="0.12">2</text>
<text transform="translate(1396.35,1077.80) scale(0.801,1)" font-size="28.6" text-anchor="middle" stroke="#000" stroke-width="0.12">2</text>
<text transform="translate(1424.85,1077.80) scale(0.801,1)" font-size="28.6" text-anchor="middle" fill="#f00" stroke="#f00" stroke-width="0.12">4</text>
<text transform="translate(1451.90,1077.80) scale(0.801,1)" font-size="28.6" text-anchor="middle" stroke="#000" stroke-width="0.12">3</text>
<text transform="translate(1480.40,1077.80) scale(0.801,1)" font-size="28.6" text-anchor="middle" stroke="#000" stroke-width="0.12">2</text>
<text transform="translate(1508.90,1077.80) scale(0.801,1)" font-size="28.6" text-anchor="middle" stroke="#000" stroke-width="0.12">3</text>
<text transform="translate(1536.45,1077.80) scale(0.801,1)" font-size="28.6" text-anchor="middle" stroke="#000" stroke-width="0.12">2</text>
<text transform="translate(1566.45,1077.80) scale(0.801,1)" font-size="28.6" text-anchor="middle" stroke="#000" stroke-width="0.12">2</text>
<text transform="translate(1596.45,1077.80) scale(0.801,1)" font-size="28.6" text-anchor="middle" fill="#f00" stroke="#f00" stroke-width="0.12">5</text>
<text transform="translate(1631.40,1077.80) scale(0.801,1)" font-size="28.6" text-anchor="middle" fill="#f00" stroke="#f00" stroke-width="0.12">7</text>
<text transform="translate(1667.40,1077.80) scale(0.801,1)" font-size="28.6" text-anchor="middle" fill="#f00" stroke="#f00" stroke-width="0.12">7</text>
<text transform="translate(1703.40,1077.80) scale(0.801,1)" font-size="28.6" text-anchor="middle" fill="#f00" stroke="#f00" stroke-width="0.12">4</text>
<rect x="595.80" y="1089.00" width="26.50" height="27.80" fill="#0099ff" rx="3"/>
<rect x="630.60" y="1089.00" width="26.50" height="27.80" fill="#0099ff" rx="3"/>
<rect x="664.80" y="1089.00" width="26.50" height="27.80" fill="#0099ff" rx="3"/>
<rect x="709.40" y="1089.00" width="20.40" height="27.80" fill="#e8e8e8"/>
<rect x="736.20" y="1089.00" width="20.40" height="27.80" fill="#e8e8e8"/>
<rect x="762.90" y="1089.00" width="20.40" height="27.80" fill="#e8e8e8"/>
<rect x="796.30" y="1089.00" width="20.40" height="27.80" fill="#e8e8e8"/>
<rect x="823.10" y="1089.00" width="20.40" height="27.80" fill="#e8e8e8"/>
<rect x="849.80" y="1089.00" width="20.40" height="27.80" fill="#e8e8e8"/>
<rect x="880.30" y="1089.00" width="20.40" height="27.80" fill="#e8e8e8"/>
<rect x="907.10" y="1089.00" width="20.40" height="27.80" fill="#e8e8e8"/>
<rect x="933.80" y="1089.00" width="20.40" height="27.80" fill="#e8e8e8"/>
<rect x="965.10" y="1089.00" width="20.40" height="27.80" fill="#e8e8e8"/>
<rect x="991.90" y="1089.00" width="20.40" height="27.80" fill="#e8e8e8"/>
<rect x="1018.60" y="1089.00" width="20.40" height="27.80" fill="#e8e8e8"/>
<rect x="1051.10" y="1089.00" width="20.40" height="27.80" fill="#e8e8e8"/>
<rect x="1078.10" y="1089.00" width="20.40" height="27.80" fill="#e8e8e8"/>
<rect x="1107.10" y="1089.00" width="20.40" height="27.80" fill="#e8e8e8"/>
<rect x="1184.00" y="1089.00" width="20.40" height="27.80" fill="#e8e8e8"/>
<rect x="1211.00" y="1089.00" width="20.40" height="27.80" fill="#e8e8e8"/>
<rect x="1240.00" y="1089.00" width="20.40" height="27.80" fill="#e8e8e8"/>
<rect x="1274.80" y="1089.00" width="20.40" height="27.80" fill="#e8e8e8"/>
<rect x="1301.60" y="1089.00" width="20.40" height="27.80" fill="#e8e8e8"/>
<rect x="1328.30" y="1089.00" width="20.40" height="27.80" fill="#e8e8e8"/>
<rect x="1360.10" y="1089.00" width="20.40" height="27.80" fill="#e8e8e8"/>
<rect x="1386.90" y="1089.00" width="20.40" height="27.80" fill="#e8e8e8"/>
<rect x="1413.60" y="1089.00" width="20.40" height="27.80" fill="#e8e8e8"/>
<rect x="1444.00" y="1089.00" width="20.40" height="27.80" fill="#e8e8e8"/>
<rect x="1470.80" y="1089.00" width="20.40" height="27.80" fill="#e8e8e8"/>
<rect x="1497.50" y="1089.00" width="20.40" height="27.80" fill="#e8e8e8"/>
<rect x="1529.30" y="1089.00" width="20.40" height="27.80" fill="#e8e8e8"/>
<rect x="1556.10" y="1089.00" width="20.40" height="27.80" fill="#0099ff" rx="3"/>
<rect x="1582.80" y="1089.00" width="20.40" height="27.80" fill="#0099ff" rx="3"/>
<rect x="1617.70" y="1089.00" width="26.50" height="27.80" fill="#0099ff" rx="3"/>
<rect x="1652.50" y="1089.00" width="26.50" height="27.80" fill="#0099ff" rx="3"/>
<rect x="1686.70" y="1089.00" width="26.50" height="27.80" fill="#0099ff" rx="3"/>
<rect x="595.80" y="1129.00" width="26.50" height="27.80" fill="#ff6666" rx="3"/>
<rect x="630.60" y="1129.00" width="26.50" height="27.80" fill="#e8e8e8"/>
<rect x="664.80" y="1129.00" width="26.50" height="27.80" fill="#e8e8e8"/>
<rect x="709.40" y="1129.00" width="20.40" height="27.80" fill="#e8e8e8"/>
<rect x="736.20" y="1129.00" width="20.40" height="27.80" fill="#ff6666" rx="3"/>
<rect x="762.90" y="1129.00" width="20.40" height="27.80" fill="#e8e8e8"/>
<rect x="796.30" y="1129.00" width="20.40" height="27.80" fill="#e8e8e8"/>
<rect x="823.10" y="1129.00" width="20.40" height="27.80" fill="#ff6666" rx="3"/>
<rect x="849.80" y="1129.00" width="20.40" height="27.80" fill="#e8e8e8"/>
<rect x="880.30" y="1129.00" width="20.40" height="27.80" fill="#e8e8e8"/>
<rect x="907.10" y="1129.00" width="20.40" height="27.80" fill="#ff6666" rx="3"/>
<rect x="933.80" y="1129.00" width="20.40" height="27.80" fill="#e8e8e8"/>
<rect x="965.10" y="1129.00" width="20.40" height="27.80" fill="#e8e8e8"/>
<rect x="991.90" y="1129.00" width="20.40" height="27.80" fill="#ff6666" rx="3"/>
<rect x="1018.60" y="1129.00" width="20.40" height="27.80" fill="#e8e8e8"/>
<rect x="1051.10" y="1129.00" width="20.40" height="27.80" fill="#e8e8e8"/>
<rect x="1078.10" y="1129.00" width="20.40" height="27.80" fill="#ff6666" rx="3"/>
<rect x="1107.10" y="1129.00" width="20.40" height="27.80" fill="#e8e8e8"/>
<rect x="1184.00" y="1129.00" width="20.40" height="27.80" fill="#e8e8e8"/>
<rect x="1211.00" y="1129.00" width="20.40" height="27.80" fill="#ff6666" rx="3"/>
<rect x="1240.00" y="1129.00" width="20.40" height="27.80" fill="#e8e8e8"/>
<rect x="1274.80" y="1129.00" width="20.40" height="27.80" fill="#e8e8e8"/>
<rect x="1301.60" y="1129.00" width="20.40" height="27.80" fill="#ff6666" rx="3"/>
<rect x="1328.30" y="1129.00" width="20.40" height="27.80" fill="#e8e8e8"/>
<rect x="1360.10" y="1129.00" width="20.40" height="27.80" fill="#ff6666" rx="3"/>
<rect x="1386.90" y="1129.00" width="20.40" height="27.80" fill="#e8e8e8"/>
<rect x="1413.60" y="1129.00" width="20.40" height="27.80" fill="#e8e8e8"/>
<rect x="1444.00" y="1129.00" width="20.40" height="27.80" fill="#ff6666" rx="3"/>
<rect x="1470.80" y="1129.00" width="20.40" height="27.80" fill="#e8e8e8"/>
<rect x="1497.50" y="1129.00" width="20.40" height="27.80" fill="#ff6666" rx="3"/>
<rect x="1529.30" y="1129.00" width="20.40" height="27.80" fill="#e8e8e8"/>
<rect x="1556.10" y="1129.00" width="20.40" height="27.80" fill="#e8e8e8"/>
<rect x="1582.80" y="1129.00" width="20.40" height="27.80" fill="#e8e8e8"/>
<rect x="1617.70" y="1129.00" width="26.50" height="27.80" fill="#ff6666" rx="3"/>
<rect x="1652.50" y="1129.00" width="26.50" height="27.80" fill="#ff6666" rx="3"/>
<rect x="1686.70" y="1129.00" width="26.50" height="27.80" fill="#ff6666" rx="3"/>
<rect x="424.05" y="1169.20" width="1.50" height="27.60" fill="#4a4a4a"/>
<rect x="534.25" y="1169.20" width="1.50" height="27.60" fill="#4a4a4a"/>
<rect x="1777.55" y="1169.20" width="1.50" height="27.60" fill="#4a4a4a"/>
<rect x="1886.85" y="1169.20" width="1.50" height="27.60" fill="#4a4a4a"/>
<rect x="594.90" y="1168.20" width="44.60" height="28.80" fill="#ececec"/>
<rect x="653.10" y="1168.20" width="44.50" height="28.80" fill="#ececec"/>
<rect x="645.15" y="1169.20" width="1.50" height="27.60" fill="#4a4a4a"/>
<circle cx="617.10" cy="1182.60" r="13" fill="none" stroke="#000" stroke-width="3.5"/>
<circle cx="675.20" cy="1182.60" r="13" fill="none" stroke="#000" stroke-width="3.5"/>
<rect x="794.10" y="1168.20" width="35.00" height="28.80" fill="#ececec"/>
<rect x="836.00" y="1168.20" width="35.20" height="28.80" fill="#ececec"/>
<rect x="832.05" y="1169.20" width="1.50" height="27.60" fill="#4a4a4a"/>
<rect x="1442.00" y="1168.20" width="35.20" height="28.80" fill="#ececec"/>
<rect x="1484.10" y="1168.20" width="35.00" height="28.80" fill="#ececec"/>
<rect x="1479.95" y="1169.20" width="1.50" height="27.60" fill="#4a4a4a"/>
<rect x="1616.90" y="1168.20" width="44.60" height="28.80" fill="#ececec"/>
<rect x="1672.90" y="1168.20" width="44.80" height="28.80" fill="#ececec"/>
<rect x="1667.65" y="1169.20" width="1.50" height="27.60" fill="#4a4a4a"/>
<path d="M1638.80,1169.60 A13,13 0 0 0 1638.80,1195.60 Z" fill="#000"/>
<circle cx="1638.80" cy="1182.60" r="13" fill="none" stroke="#000" stroke-width="3.5"/>
<path d="M1694.80,1169.60 A13,13 0 0 0 1694.80,1195.60 Z" fill="#000"/>
<circle cx="1694.80" cy="1182.60" r="13" fill="none" stroke="#000" stroke-width="3.5"/>
<rect x="369.20" y="1001.00" width="112.80" height="3.00" fill="#000"/>
<rect x="480.00" y="1001.00" width="110.00" height="3.00" fill="#000"/>
<rect x="588.00" y="1001.00" width="116.10" height="3.00" fill="#000"/>
<rect x="702.10" y="1001.00" width="90.00" height="3.00" fill="#000"/>
<rect x="790.10" y="1001.00" width="86.00" height="3.00" fill="#000"/>
<rect x="874.10" y="1001.00" width="86.00" height="3.00" fill="#000"/>
<rect x="958.10" y="1001.00" width="88.00" height="3.00" fill="#000"/>
<rect x="1044.10" y="1001.00" width="92.90" height="2.10" fill="#000"/>
<rect x="369.20" y="1041.70" width="767.80" height="2.00" fill="#000"/>
<rect x="369.20" y="1081.70" width="767.80" height="2.00" fill="#000"/>
<rect x="369.20" y="1121.70" width="767.80" height="2.00" fill="#000"/>
<rect x="369.20" y="1161.70" width="767.80" height="2.00" fill="#000"/>
<rect x="369.20" y="1201.70" width="767.80" height="2.00" fill="#000"/>
<rect x="369.20" y="1240.80" width="767.80" height="3.00" fill="#000"/>
<rect x="369.20" y="1001.70" width="2.00" height="241.10" fill="#000"/>
<rect x="480.00" y="1001.70" width="2.00" height="241.10" fill="#000"/>
<rect x="588.00" y="1001.70" width="2.00" height="241.10" fill="#000"/>
<rect x="702.10" y="1001.70" width="2.00" height="241.10" fill="#000"/>
<rect x="790.10" y="1001.70" width="2.00" height="241.10" fill="#000"/>
<rect x="874.10" y="1001.70" width="2.00" height="241.10" fill="#000"/>
<rect x="958.10" y="1001.70" width="2.00" height="241.10" fill="#000"/>
<rect x="1044.10" y="1001.70" width="2.00" height="241.10" fill="#000"/>
<rect x="1135.00" y="1001.70" width="2.00" height="241.10" fill="#000"/>
<rect x="1177.00" y="1001.00" width="92.80" height="2.10" fill="#000"/>
<rect x="1267.80" y="1001.00" width="88.10" height="2.40" fill="#000"/>
<rect x="1353.90" y="1001.00" width="85.90" height="2.80" fill="#000"/>
<rect x="1437.80" y="1001.00" width="86.20" height="3.00" fill="#000"/>
<rect x="1522.00" y="1001.00" width="89.90" height="3.00" fill="#000"/>
<rect x="1609.90" y="1001.00" width="116.00" height="3.00" fill="#000"/>
<rect x="1723.90" y="1001.00" width="110.00" height="3.00" fill="#000"/>
<rect x="1831.90" y="1001.00" width="113.10" height="3.00" fill="#000"/>
<rect x="1177.00" y="1041.70" width="768.00" height="2.00" fill="#000"/>
<rect x="1177.00" y="1081.70" width="768.00" height="2.00" fill="#000"/>
<rect x="1177.00" y="1121.70" width="768.00" height="2.00" fill="#000"/>
<rect x="1177.00" y="1161.70" width="768.00" height="2.00" fill="#000"/>
<rect x="1177.00" y="1201.70" width="768.00" height="2.00" fill="#000"/>
<rect x="1177.00" y="1240.80" width="768.00" height="3.00" fill="#000"/>
<rect x="1177.00" y="1001.70" width="2.00" height="241.10" fill="#000"/>
<rect x="1267.80" y="1001.70" width="2.00" height="241.10" fill="#000"/>
<rect x="1353.90" y="1001.70" width="2.00" height="241.10" fill="#000"/>
<rect x="1437.80" y="1001.70" width="2.00" height="241.10" fill="#000"/>
<rect x="1522.00" y="1001.70" width="2.00" height="241.10" fill="#000"/>
<rect x="1609.90" y="1001.70" width="2.00" height="241.10" fill="#000"/>
<rect x="1723.90" y="1001.70" width="2.00" height="241.10" fill="#000"/>
<rect x="1831.90" y="1001.70" width="2.00" height="241.10" fill="#000"/>
<rect x="1943.00" y="1001.70" width="2.00" height="241.10" fill="#000"/>
<style>.gl{fill:none;stroke:#00b000;stroke-width:4.1;stroke-linejoin:miter}.bl{fill:none;stroke:#00f;stroke-width:4.3;stroke-linejoin:miter}.rl{fill:none;stroke:#f00;stroke-width:4.3;stroke-linejoin:miter}.bf{fill:#0000be;fill-opacity:.5}</style>
<defs>
<filter id="ts" x="-20%" y="-10%" width="140%" height="120%" color-interpolation-filters="sRGB">
<feGaussianBlur in="SourceAlpha" stdDeviation="2.6 2.4" result="b1"/>
<feComponentTransfer in="b1" result="i1"><feFuncA type="linear" slope="-0.4" intercept="0.4"/></feComponentTransfer>
<feGaussianBlur in="SourceAlpha" stdDeviation="6.5 4" result="b2"/>
<feOffset in="b2" dx="-1.5" dy="0" result="b2o"/>
<feComponentTransfer in="b2o" result="i2"><feFuncA type="linear" slope="-0.52" intercept="0.52"/></feComponentTransfer>
<feComposite in="i1" in2="i2" operator="arithmetic" k1="0" k2="1" k3="1" k4="0" result="sum"/>
<feComposite in="sum" in2="SourceAlpha" operator="in" result="s"/>
<feMerge><feMergeNode in="SourceGraphic"/><feMergeNode in="s"/></feMerge>
</filter>
<filter id="tc" x="-20%" y="-20%" width="140%" height="140%" color-interpolation-filters="sRGB">
<feGaussianBlur in="SourceAlpha" stdDeviation="2.6 2.2" result="b1"/>
<feComponentTransfer in="b1" result="i1"><feFuncA type="linear" slope="-0.4" intercept="0.4"/></feComponentTransfer>
<feGaussianBlur in="SourceAlpha" stdDeviation="9 4.5" result="b2"/>
<feOffset in="b2" dx="-2" dy="0" result="b2o"/>
<feComponentTransfer in="b2o" result="i2"><feFuncA type="linear" slope="-0.45" intercept="0.45"/></feComponentTransfer>
<feComposite in="i1" in2="i2" operator="arithmetic" k1="0" k2="1" k3="1" k4="0" result="sum"/>
<feComposite in="sum" in2="SourceAlpha" operator="in" result="s"/>
<feMerge><feMergeNode in="SourceGraphic"/><feMergeNode in="s"/></feMerge>
</filter>
<linearGradient id="tg" x1="0" y1="0" x2="1" y2="0"><stop offset="0" stop-color="#e2e2e2"/><stop offset="0.2" stop-color="#fff"/><stop offset="0.55" stop-color="#fff"/><stop offset="1" stop-color="#c2c2c2"/></linearGradient>
<linearGradient id="tgc" x1="0" y1="0" x2="1" y2="0"><stop offset="0" stop-color="#d6d6d6"/><stop offset="0.12" stop-color="#f0f0f0"/><stop offset="0.27" stop-color="#fff"/><stop offset="0.45" stop-color="#f3f3f3"/><stop offset="0.75" stop-color="#e7e7e7"/><stop offset="1" stop-color="#bebebe"/></linearGradient>
<filter id="gb" x="-20%" y="-20%" width="140%" height="140%"><feGaussianBlur stdDeviation="2"/></filter>
<filter id="lb" x="-50%" y="-50%" width="200%" height="200%"><feGaussianBlur stdDeviation="2.2"/></filter>
</defs>
<style>.olr{fill:none;stroke:#181818;stroke-width:3.2;stroke-linejoin:round;stroke-linecap:round}.olc{fill:none;stroke:#181818;stroke-width:2.5;stroke-linejoin:round;stroke-linecap:round}.il{fill:none;stroke:#111;stroke-width:3.1;stroke-linecap:round}.sh{fill:none;stroke:#000;stroke-opacity:.35;stroke-width:5;filter:url(#lb)}</style>
<filter id="soft" x="0" y="0" width="100%" height="100%" filterUnits="userSpaceOnUse"><feGaussianBlur stdDeviation="0.55"/></filter>
<g id="teethB" filter="url(#soft)"><g id="b18"><path d="M399.0,440.0C398.7,436.3 398.7,432.6 399.2,429.0C399.5,426.7 400.2,424.4 401.6,422.6C402.6,421.2 404.3,420.1 406.0,420.0C408.2,419.9 410.5,420.9 412.4,422.0C414.7,423.4 416.5,425.5 418.4,427.4C420.0,429.0 421.8,430.5 423.0,432.4C424.4,434.7 425.6,437.3 426.0,440.0C427.0,446.6 427.0,453.3 427.0,460.0C427.0,477.3 428.9,494.9 426.0,512.0C425.1,517.1 420.5,526.7 416.0,524.0C408.6,519.5 407.7,508.5 406.0,500.0C402.0,480.3 400.9,460.0 399.0,440.0Z" fill="url(#tg)" filter="url(#ts)"/>
<path d="M399.0,440.0C398.7,436.3 398.7,432.6 399.2,429.0C399.5,426.7 400.2,424.4 401.6,422.6C402.6,421.2 404.3,420.1 406.0,420.0C408.2,419.9 410.5,420.9 412.4,422.0C414.7,423.4 416.5,425.5 418.4,427.4C420.0,429.0 421.8,430.5 423.0,432.4C424.4,434.7 425.6,437.3 426.0,440.0C427.0,446.6 427.0,453.3 427.0,460.0C427.0,477.3 428.9,494.9 426.0,512.0C425.1,517.1 420.5,526.7 416.0,524.0C408.6,519.5 407.7,508.5 406.0,500.0C402.0,480.3 400.9,460.0 399.0,440.0Z" class="olr"/>
<path d="M391.0,562.4C391.5,554.9 392.2,547.5 392.6,540.0C393.2,530.7 393.6,521.3 394.0,512.0C394.5,501.3 395.0,490.7 395.4,480.0C395.8,471.3 395.9,462.7 396.4,454.0C396.6,449.7 396.5,445.2 397.6,441.0C398.1,438.9 399.4,437.0 401.0,435.6C402.3,434.5 404.3,433.8 406.0,434.0C407.9,434.3 409.9,435.4 411.0,437.0C412.8,439.6 413.4,442.9 414.0,446.0C415.4,452.6 416.1,459.3 417.0,466.0C418.0,474.0 418.6,482.0 419.6,490.0C420.5,496.7 421.5,503.4 422.6,510.0C423.2,513.4 423.9,516.7 424.6,520.0C425.3,516.0 426.2,512.0 426.6,508.0C427.4,500.0 427.9,492.0 428.0,484.0C428.1,478.0 427.7,472.0 427.2,466.0C426.8,460.6 426.0,455.3 425.4,450.0C424.9,446.0 423.8,442.0 424.0,438.0C424.1,436.6 424.9,435.3 426.0,434.4C427.1,433.5 428.6,432.9 430.0,433.0C431.8,433.1 433.5,433.9 435.0,435.0C437.3,436.7 439.3,438.7 441.0,441.0C443.7,444.8 446.0,448.8 448.0,453.0C450.7,458.5 453.0,464.2 455.0,470.0C457.3,476.6 459.6,483.2 461.0,490.0C462.5,497.2 463.1,504.6 463.6,512.0C464.3,521.3 464.3,530.7 464.6,540.0C464.9,547.5 465.1,554.9 465.4,562.4C466.9,566.9 468.5,571.4 470.0,576.0C471.7,581.3 473.7,586.6 475.0,592.0C476.1,596.6 476.9,601.3 477.0,606.0C477.1,610.0 477.4,614.4 475.6,618.0C473.5,622.1 469.4,624.9 466.0,628.0C462.2,631.5 458.3,635.1 454.0,638.0C451.6,639.6 448.9,641.4 446.0,641.6C443.2,641.8 440.6,640.1 438.0,639.0C434.6,637.6 431.4,635.5 428.0,634.0C426.1,633.2 424.0,632.7 422.0,632.0C420.8,632.3 419.5,632.5 418.4,633.0C415.8,634.2 413.6,636.1 411.0,637.0C408.4,637.9 405.7,638.9 403.0,638.4C399.7,637.8 396.7,636.0 394.0,634.0C390.2,631.2 386.8,627.8 384.0,624.0C381.3,620.4 378.9,616.4 377.6,612.0C376.5,608.2 376.5,604.0 377.0,600.0C377.6,595.2 379.4,590.6 381.0,586.0C382.4,581.9 384.3,578.0 386.0,574.0C387.6,570.1 389.3,566.3 391.0,562.4Z" fill="url(#tg)" filter="url(#ts)"/>
<path d="M465.4,562.4C466.9,566.9 468.5,571.4 470.0,576.0C471.7,581.3 473.7,586.6 475.0,592.0C476.1,596.6 476.9,601.3 477.0,606.0C477.1,610.0 477.4,614.4 475.6,618.0C473.5,622.1 469.4,624.9 466.0,628.0C462.2,631.5 458.3,635.1 454.0,638.0C451.6,639.6 448.9,641.4 446.0,641.6C443.2,641.8 440.6,640.1 438.0,639.0C434.6,637.6 431.4,635.5 428.0,634.0C426.1,633.2 424.0,632.7 422.0,632.0C420.8,632.3 419.5,632.5 418.4,633.0C415.8,634.2 413.6,636.1 411.0,637.0C408.4,637.9 405.7,638.9 403.0,638.4C399.7,637.8 396.7,636.0 394.0,634.0C390.2,631.2 386.8,627.8 384.0,624.0C381.3,620.4 378.9,616.4 377.6,612.0C376.5,608.2 376.5,604.0 377.0,600.0C377.6,595.2 379.4,590.6 381.0,586.0C382.4,581.9 384.3,578.0 386.0,574.0C387.6,570.1 389.3,566.3 391.0,562.4C393.3,562.0 395.6,561.3 398.0,561.2C407.3,560.8 416.7,560.8 426.0,560.8C436.7,560.8 447.3,560.8 458.0,561.2C460.5,561.3 462.9,562.0 465.4,562.4Z" fill="url(#tgc)" filter="url(#tc)"/>
<path d="M391.0,562.4C391.5,554.9 392.2,547.5 392.6,540.0C393.2,530.7 393.6,521.3 394.0,512.0C394.5,501.3 395.0,490.7 395.4,480.0C395.8,471.3 395.9,462.7 396.4,454.0C396.6,449.7 396.5,445.2 397.6,441.0C398.1,438.9 399.4,437.0 401.0,435.6C402.3,434.5 404.3,433.8 406.0,434.0C407.9,434.3 409.9,435.4 411.0,437.0C412.8,439.6 413.4,442.9 414.0,446.0C415.4,452.6 416.1,459.3 417.0,466.0C418.0,474.0 418.6,482.0 419.6,490.0C420.5,496.7 421.5,503.4 422.6,510.0C423.2,513.4 423.9,516.7 424.6,520.0C425.3,516.0 426.2,512.0 426.6,508.0C427.4,500.0 427.9,492.0 428.0,484.0C428.1,478.0 427.7,472.0 427.2,466.0C426.8,460.6 426.0,455.3 425.4,450.0C424.9,446.0 423.8,442.0 424.0,438.0C424.1,436.6 424.9,435.3 426.0,434.4C427.1,433.5 428.6,432.9 430.0,433.0C431.8,433.1 433.5,433.9 435.0,435.0C437.3,436.7 439.3,438.7 441.0,441.0C443.7,444.8 446.0,448.8 448.0,453.0C450.7,458.5 453.0,464.2 455.0,470.0C457.3,476.6 459.6,483.2 461.0,490.0C462.5,497.2 463.1,504.6 463.6,512.0C464.3,521.3 464.3,530.7 464.6,540.0C464.9,547.5 465.1,554.9 465.4,562.4" class="olr"/>
<path d="M465.4,562.4C466.9,566.9 468.5,571.4 470.0,576.0C471.7,581.3 473.7,586.6 475.0,592.0C476.1,596.6 476.9,601.3 477.0,606.0C477.1,610.0 477.4,614.4 475.6,618.0C473.5,622.1 469.4,624.9 466.0,628.0C462.2,631.5 458.3,635.1 454.0,638.0C451.6,639.6 448.9,641.4 446.0,641.6C443.2,641.8 440.6,640.1 438.0,639.0C434.6,637.6 431.4,635.5 428.0,634.0C426.1,633.2 424.0,632.7 422.0,632.0C420.8,632.3 419.5,632.5 418.4,633.0C415.8,634.2 413.6,636.1 411.0,637.0C408.4,637.9 405.7,638.9 403.0,638.4C399.7,637.8 396.7,636.0 394.0,634.0C390.2,631.2 386.8,627.8 384.0,624.0C381.3,620.4 378.9,616.4 377.6,612.0C376.5,608.2 376.5,604.0 377.0,600.0C377.6,595.2 379.4,590.6 381.0,586.0C382.4,581.9 384.3,578.0 386.0,574.0C387.6,570.1 389.3,566.3 391.0,562.4" class="olc"/>
<path d="M391.0,562.4C393.3,562.0 395.6,561.3 398.0,561.2C407.3,560.8 416.7,560.8 426.0,560.8C436.7,560.8 447.3,560.8 458.0,561.2C460.5,561.3 462.9,562.0 465.4,562.4" class="sh"/>
<path d="M391.0,562.4C393.3,562.0 395.6,561.3 398.0,561.2C407.3,560.8 416.7,560.8 426.0,560.8C436.7,560.8 447.3,560.8 458.0,561.2C460.5,561.3 462.9,562.0 465.4,562.4" class="il"/>
<path d="M420.4,615.0C420.6,620.7 420.8,626.3 421.0,632.0" class="il"/></g>
<g id="b17"><path d="M509.0,425.0C508.9,422.9 510.5,421.1 512.0,419.6C513.3,418.3 515.1,417.2 517.0,417.0C518.8,416.8 520.8,417.5 522.4,418.4C524.5,419.6 526.3,421.3 528.0,423.0C529.2,424.2 530.3,425.5 531.0,427.0C533.0,431.2 535.3,435.4 536.0,440.0C537.6,449.9 538.0,460.0 538.0,470.0C538.0,481.4 539.1,493.1 536.0,504.0C534.8,508.1 528.0,515.8 526.0,512.0C519.3,499.4 520.5,484.0 518.0,470.0C516.2,460.0 515.0,449.9 513.0,440.0C512.0,434.9 509.3,430.2 509.0,425.0Z" fill="url(#tg)" filter="url(#ts)"/>
<path d="M509.0,425.0C508.9,422.9 510.5,421.1 512.0,419.6C513.3,418.3 515.1,417.2 517.0,417.0C518.8,416.8 520.8,417.5 522.4,418.4C524.5,419.6 526.3,421.3 528.0,423.0C529.2,424.2 530.3,425.5 531.0,427.0C533.0,431.2 535.3,435.4 536.0,440.0C537.6,449.9 538.0,460.0 538.0,470.0C538.0,481.4 539.1,493.1 536.0,504.0C534.8,508.1 528.0,515.8 526.0,512.0C519.3,499.4 520.5,484.0 518.0,470.0C516.2,460.0 515.0,449.9 513.0,440.0C512.0,434.9 509.3,430.2 509.0,425.0Z" class="olr"/>
<path d="M493.6,561.0C494.1,554.0 494.6,547.0 495.0,540.0C495.5,530.7 496.0,521.3 496.4,512.0C496.9,501.3 497.2,490.7 497.6,480.0C497.9,472.0 498.2,464.0 498.6,456.0C498.9,450.0 498.9,444.0 499.6,438.0C499.9,435.3 500.2,432.3 501.6,430.0C502.8,428.1 504.8,426.6 507.0,426.0C509.0,425.5 511.3,425.8 513.0,427.0C515.0,428.4 516.2,430.7 517.0,433.0C518.5,437.2 519.3,441.6 520.0,446.0C521.1,452.6 521.6,459.3 522.4,466.0C523.3,474.0 523.9,482.0 525.0,490.0C525.8,496.0 526.4,502.1 528.0,508.0C529.1,512.2 531.3,516.0 533.0,520.0C533.7,517.3 534.6,514.7 535.0,512.0C536.0,504.7 536.8,497.4 537.0,490.0C537.2,482.0 537.0,474.0 536.4,466.0C535.9,459.9 534.8,453.9 533.6,448.0C532.7,443.6 531.2,439.3 530.0,435.0C529.3,432.7 527.5,430.4 528.0,428.0C528.3,426.4 530.4,425.5 532.0,425.0C533.9,424.4 536.1,424.4 538.0,425.0C540.3,425.8 542.4,427.2 544.0,429.0C546.5,432.0 548.2,435.5 550.0,439.0C552.9,444.6 555.6,450.2 558.0,456.0C560.7,462.5 563.2,469.2 565.0,476.0C567.0,483.9 568.4,491.9 569.4,500.0C570.4,508.0 570.5,516.0 571.0,524.0C571.4,530.7 571.6,537.3 572.0,544.0C572.3,549.7 572.7,555.3 573.0,561.0C574.7,566.0 576.2,571.0 578.0,576.0C579.9,581.4 582.3,586.6 584.0,592.0C585.6,597.2 587.4,602.5 588.0,608.0C588.4,612.0 588.7,616.3 587.0,620.0C585.1,624.1 581.3,627.0 578.0,630.0C574.3,633.4 570.3,636.4 566.0,639.0C562.9,640.9 559.6,643.0 556.0,643.6C553.3,644.0 550.5,643.0 548.0,642.0C543.8,640.4 540.0,638.0 536.0,636.0C534.0,635.0 532.1,633.7 530.0,633.0C528.7,632.6 527.3,632.7 526.0,632.6C524.3,633.4 522.7,634.2 521.0,635.0C518.4,636.2 515.8,637.7 513.0,638.4C510.4,639.0 507.6,639.5 505.0,639.0C501.8,638.4 498.7,636.9 496.0,635.0C492.3,632.5 488.8,629.5 486.0,626.0C483.4,622.7 481.3,619.0 480.0,615.0C478.9,611.5 478.6,607.7 479.0,604.0C479.6,599.2 481.5,594.6 483.0,590.0C484.5,585.3 486.3,580.7 488.0,576.0C489.8,571.0 491.7,566.0 493.6,561.0Z" fill="url(#tg)" filter="url(#ts)"/>
<path d="M573.0,561.0C574.7,566.0 576.2,571.0 578.0,576.0C579.9,581.4 582.3,586.6 584.0,592.0C585.6,597.2 587.4,602.5 588.0,608.0C588.4,612.0 588.7,616.3 587.0,620.0C585.1,624.1 581.3,627.0 578.0,630.0C574.3,633.4 570.3,636.4 566.0,639.0C562.9,640.9 559.6,643.0 556.0,643.6C553.3,644.0 550.5,643.0 548.0,642.0C543.8,640.4 540.0,638.0 536.0,636.0C534.0,635.0 532.1,633.7 530.0,633.0C528.7,632.6 527.3,632.7 526.0,632.6C524.3,633.4 522.7,634.2 521.0,635.0C518.4,636.2 515.8,637.7 513.0,638.4C510.4,639.0 507.6,639.5 505.0,639.0C501.8,638.4 498.7,636.9 496.0,635.0C492.3,632.5 488.8,629.5 486.0,626.0C483.4,622.7 481.3,619.0 480.0,615.0C478.9,611.5 478.6,607.7 479.0,604.0C479.6,599.2 481.5,594.6 483.0,590.0C484.5,585.3 486.3,580.7 488.0,576.0C489.8,571.0 491.7,566.0 493.6,561.0C496.4,560.3 499.1,559.2 502.0,559.0C512.6,558.4 523.3,558.6 534.0,558.6C544.0,558.6 554.0,558.4 564.0,559.0C567.1,559.2 570.0,560.3 573.0,561.0Z" fill="url(#tgc)" filter="url(#tc)"/>
<path d="M493.6,561.0C494.1,554.0 494.6,547.0 495.0,540.0C495.5,530.7 496.0,521.3 496.4,512.0C496.9,501.3 497.2,490.7 497.6,480.0C497.9,472.0 498.2,464.0 498.6,456.0C498.9,450.0 498.9,444.0 499.6,438.0C499.9,435.3 500.2,432.3 501.6,430.0C502.8,428.1 504.8,426.6 507.0,426.0C509.0,425.5 511.3,425.8 513.0,427.0C515.0,428.4 516.2,430.7 517.0,433.0C518.5,437.2 519.3,441.6 520.0,446.0C521.1,452.6 521.6,459.3 522.4,466.0C523.3,474.0 523.9,482.0 525.0,490.0C525.8,496.0 526.4,502.1 528.0,508.0C529.1,512.2 531.3,516.0 533.0,520.0C533.7,517.3 534.6,514.7 535.0,512.0C536.0,504.7 536.8,497.4 537.0,490.0C537.2,482.0 537.0,474.0 536.4,466.0C535.9,459.9 534.8,453.9 533.6,448.0C532.7,443.6 531.2,439.3 530.0,435.0C529.3,432.7 527.5,430.4 528.0,428.0C528.3,426.4 530.4,425.5 532.0,425.0C533.9,424.4 536.1,424.4 538.0,425.0C540.3,425.8 542.4,427.2 544.0,429.0C546.5,432.0 548.2,435.5 550.0,439.0C552.9,444.6 555.6,450.2 558.0,456.0C560.7,462.5 563.2,469.2 565.0,476.0C567.0,483.9 568.4,491.9 569.4,500.0C570.4,508.0 570.5,516.0 571.0,524.0C571.4,530.7 571.6,537.3 572.0,544.0C572.3,549.7 572.7,555.3 573.0,561.0" class="olr"/>
<path d="M573.0,561.0C574.7,566.0 576.2,571.0 578.0,576.0C579.9,581.4 582.3,586.6 584.0,592.0C585.6,597.2 587.4,602.5 588.0,608.0C588.4,612.0 588.7,616.3 587.0,620.0C585.1,624.1 581.3,627.0 578.0,630.0C574.3,633.4 570.3,636.4 566.0,639.0C562.9,640.9 559.6,643.0 556.0,643.6C553.3,644.0 550.5,643.0 548.0,642.0C543.8,640.4 540.0,638.0 536.0,636.0C534.0,635.0 532.1,633.7 530.0,633.0C528.7,632.6 527.3,632.7 526.0,632.6C524.3,633.4 522.7,634.2 521.0,635.0C518.4,636.2 515.8,637.7 513.0,638.4C510.4,639.0 507.6,639.5 505.0,639.0C501.8,638.4 498.7,636.9 496.0,635.0C492.3,632.5 488.8,629.5 486.0,626.0C483.4,622.7 481.3,619.0 480.0,615.0C478.9,611.5 478.6,607.7 479.0,604.0C479.6,599.2 481.5,594.6 483.0,590.0C484.5,585.3 486.3,580.7 488.0,576.0C489.8,571.0 491.7,566.0 493.6,561.0" class="olc"/>
<path d="M493.6,561.0C496.4,560.3 499.1,559.2 502.0,559.0C512.6,558.4 523.3,558.6 534.0,558.6C544.0,558.6 554.0,558.4 564.0,559.0C567.1,559.2 570.0,560.3 573.0,561.0" class="sh"/>
<path d="M493.6,561.0C496.4,560.3 499.1,559.2 502.0,559.0C512.6,558.4 523.3,558.6 534.0,558.6C544.0,558.6 554.0,558.4 564.0,559.0C567.1,559.2 570.0,560.3 573.0,561.0" class="il"/>
<path d="M525.0,615.6C525.2,621.1 525.4,626.5 525.6,632.0" class="il"/></g>
<g id="b16"><path d="M630.4,434.8C630.2,429.6 630.1,424.3 631.1,419.1C631.7,415.9 632.9,412.7 634.9,410.2C636.6,407.9 639.0,406.3 641.6,405.2C643.7,404.4 646.1,404.2 648.3,404.6C651.1,405.1 653.9,406.2 656.2,407.9C658.3,409.6 660.5,411.9 661.1,414.6C662.5,421.2 661.8,428.1 661.8,434.8C661.7,446.0 661.4,457.2 660.6,468.4C659.9,478.2 659.5,488.0 657.3,497.5C655.7,504.6 653.7,511.8 649.4,517.7C648.1,519.5 644.0,519.6 642.7,517.7C638.8,511.8 637.4,504.5 636.0,497.5C634.0,488.0 633.5,478.1 632.6,468.4C631.6,457.2 630.8,446.0 630.4,434.8Z" fill="url(#tg)" filter="url(#ts)"/>
<path d="M630.4,434.8C630.2,429.6 630.1,424.3 631.1,419.1C631.7,415.9 632.9,412.7 634.9,410.2C636.6,407.9 639.0,406.3 641.6,405.2C643.7,404.4 646.1,404.2 648.3,404.6C651.1,405.1 653.9,406.2 656.2,407.9C658.3,409.6 660.5,411.9 661.1,414.6C662.5,421.2 661.8,428.1 661.8,434.8C661.7,446.0 661.4,457.2 660.6,468.4C659.9,478.2 659.5,488.0 657.3,497.5C655.7,504.6 653.7,511.8 649.4,517.7C648.1,519.5 644.0,519.6 642.7,517.7C638.8,511.8 637.4,504.5 636.0,497.5C634.0,488.0 633.5,478.1 632.6,468.4C631.6,457.2 630.8,446.0 630.4,434.8Z" class="olr"/>
<path d="M593.9,562.5C594.1,553.5 594.2,544.6 594.6,535.6C595.0,524.4 595.4,513.2 596.1,502.0C596.7,492.3 597.5,482.6 598.4,472.9C599.2,463.9 600.1,454.9 601.3,446.0C602.2,439.6 603.0,433.2 604.6,427.0C605.4,424.0 606.6,421.0 608.7,418.7C609.8,417.4 611.9,416.5 613.6,416.9C616.0,417.4 618.4,418.9 619.9,420.9C622.2,424.0 623.7,427.7 624.8,431.4C626.6,437.7 627.5,444.1 628.6,450.5C629.9,457.9 630.7,465.4 632.0,472.9C633.1,479.6 634.2,486.4 636.0,493.0C637.4,498.1 639.2,503.0 641.6,507.6C643.0,510.4 645.3,512.5 647.2,515.0C649.1,512.2 651.7,509.7 652.8,506.5C655.1,500.0 656.3,493.1 657.3,486.3C658.4,478.9 658.7,471.4 659.1,463.9C659.5,456.5 659.6,449.0 659.5,441.5C659.5,435.5 658.5,429.6 658.9,423.6C659.0,421.6 659.6,419.3 661.1,418.0C662.7,416.6 665.3,415.9 667.4,416.4C670.4,417.1 673.1,419.1 675.2,421.4C678.6,425.0 681.3,429.3 683.5,433.7C686.5,439.8 688.9,446.2 690.9,452.7C693.1,460.1 694.8,467.6 696.0,475.1C697.5,484.0 698.3,493.0 699.2,502.0C700.1,512.4 700.7,522.9 701.4,533.4C702.1,543.1 702.6,552.8 703.2,562.5C704.3,568.5 705.6,574.4 706.6,580.4C707.7,587.9 709.1,595.3 709.5,602.8C709.8,609.5 710.0,616.4 708.8,623.0C707.9,627.7 705.9,632.4 703.2,636.4C700.2,640.8 696.2,644.4 692.0,647.6C689.0,649.9 685.6,651.9 681.9,652.5C679.3,653.0 676.6,651.8 674.1,651.0C668.8,649.4 663.7,647.1 658.4,645.4C654.7,644.1 651.0,642.9 647.2,642.0C645.0,641.5 642.7,641.6 640.5,641.3C638.2,642.3 635.9,643.1 633.8,644.3C630.7,645.8 628.0,648.2 624.8,649.4C622.3,650.3 619.5,650.9 617.0,650.3C613.3,649.5 610.0,647.5 606.9,645.4C603.2,642.8 599.5,640.0 596.8,636.4C593.8,632.4 591.4,627.8 590.1,623.0C588.5,617.2 588.4,611.0 588.5,605.1C588.6,597.6 589.8,590.1 590.8,582.7C591.6,575.9 592.8,569.2 593.9,562.5Z" fill="url(#tg)" filter="url(#ts)"/>
<path d="M703.2,562.5C704.3,568.5 705.6,574.4 706.6,580.4C707.7,587.9 709.1,595.3 709.5,602.8C709.8,609.5 710.0,616.4 708.8,623.0C707.9,627.7 705.9,632.4 703.2,636.4C700.2,640.8 696.2,644.4 692.0,647.6C689.0,649.9 685.6,651.9 681.9,652.5C679.3,653.0 676.6,651.8 674.1,651.0C668.8,649.4 663.7,647.1 658.4,645.4C654.7,644.1 651.0,642.9 647.2,642.0C645.0,641.5 642.7,641.6 640.5,641.3C638.2,642.3 635.9,643.1 633.8,644.3C630.7,645.8 628.0,648.2 624.8,649.4C622.3,650.3 619.5,650.9 617.0,650.3C613.3,649.5 610.0,647.5 606.9,645.4C603.2,642.8 599.5,640.0 596.8,636.4C593.8,632.4 591.4,627.8 590.1,623.0C588.5,617.2 588.4,611.0 588.5,605.1C588.6,597.6 589.8,590.1 590.8,582.7C591.6,575.9 592.8,569.2 593.9,562.5C596.7,562.1 599.5,561.4 602.4,561.4C617.3,561.1 632.3,561.4 647.2,561.4C662.1,561.4 677.1,561.1 692.0,561.4C695.8,561.4 699.5,562.1 703.2,562.5Z" fill="url(#tgc)" filter="url(#tc)"/>
<path d="M593.9,562.5C594.1,553.5 594.2,544.6 594.6,535.6C595.0,524.4 595.4,513.2 596.1,502.0C596.7,492.3 597.5,482.6 598.4,472.9C599.2,463.9 600.1,454.9 601.3,446.0C602.2,439.6 603.0,433.2 604.6,427.0C605.4,424.0 606.6,421.0 608.7,418.7C609.8,417.4 611.9,416.5 613.6,416.9C616.0,417.4 618.4,418.9 619.9,420.9C622.2,424.0 623.7,427.7 624.8,431.4C626.6,437.7 627.5,444.1 628.6,450.5C629.9,457.9 630.7,465.4 632.0,472.9C633.1,479.6 634.2,486.4 636.0,493.0C637.4,498.1 639.2,503.0 641.6,507.6C643.0,510.4 645.3,512.5 647.2,515.0C649.1,512.2 651.7,509.7 652.8,506.5C655.1,500.0 656.3,493.1 657.3,486.3C658.4,478.9 658.7,471.4 659.1,463.9C659.5,456.5 659.6,449.0 659.5,441.5C659.5,435.5 658.5,429.6 658.9,423.6C659.0,421.6 659.6,419.3 661.1,418.0C662.7,416.6 665.3,415.9 667.4,416.4C670.4,417.1 673.1,419.1 675.2,421.4C678.6,425.0 681.3,429.3 683.5,433.7C686.5,439.8 688.9,446.2 690.9,452.7C693.1,460.1 694.8,467.6 696.0,475.1C697.5,484.0 698.3,493.0 699.2,502.0C700.1,512.4 700.7,522.9 701.4,533.4C702.1,543.1 702.6,552.8 703.2,562.5" class="olr"/>
<path d="M703.2,562.5C704.3,568.5 705.6,574.4 706.6,580.4C707.7,587.9 709.1,595.3 709.5,602.8C709.8,609.5 710.0,616.4 708.8,623.0C707.9,627.7 705.9,632.4 703.2,636.4C700.2,640.8 696.2,644.4 692.0,647.6C689.0,649.9 685.6,651.9 681.9,652.5C679.3,653.0 676.6,651.8 674.1,651.0C668.8,649.4 663.7,647.1 658.4,645.4C654.7,644.1 651.0,642.9 647.2,642.0C645.0,641.5 642.7,641.6 640.5,641.3C638.2,642.3 635.9,643.1 633.8,644.3C630.7,645.8 628.0,648.2 624.8,649.4C622.3,650.3 619.5,650.9 617.0,650.3C613.3,649.5 610.0,647.5 606.9,645.4C603.2,642.8 599.5,640.0 596.8,636.4C593.8,632.4 591.4,627.8 590.1,623.0C588.5,617.2 588.4,611.0 588.5,605.1C588.6,597.6 589.8,590.1 590.8,582.7C591.6,575.9 592.8,569.2 593.9,562.5" class="olc"/>
<path d="M593.9,562.5C596.7,562.1 599.5,561.4 602.4,561.4C617.3,561.1 632.3,561.4 647.2,561.4C662.1,561.4 677.1,561.1 692.0,561.4C695.8,561.4 699.5,562.1 703.2,562.5" class="sh"/>
<path d="M593.9,562.5C596.7,562.1 599.5,561.4 602.4,561.4C617.3,561.1 632.3,561.4 647.2,561.4C662.1,561.4 677.1,561.1 692.0,561.4C695.8,561.4 699.5,562.1 703.2,562.5" class="il"/>
<path d="M640.5,616.3C640.6,624.5 640.8,632.7 640.9,640.9" class="il"/></g>
<g id="b15"><path d="M729.2,560.3C730.2,552.8 731.3,545.3 732.1,537.8C733.1,528.9 734.0,519.9 734.8,511.0C735.6,502.0 736.5,493.1 737.0,484.1C737.6,475.1 737.9,466.2 738.2,457.2C738.5,448.2 738.5,439.3 738.8,430.3C739.0,424.3 738.5,418.2 739.7,412.4C740.2,410.3 741.9,408.4 743.8,407.5C745.4,406.6 747.8,406.5 749.4,407.5C751.9,409.1 753.9,411.8 755.0,414.6C756.9,419.6 757.5,425.0 758.3,430.3C759.5,437.8 760.2,445.3 761.2,452.7C762.5,461.7 763.7,470.7 765.0,479.6C766.5,489.3 768.0,499.0 769.5,508.7C771.0,517.7 772.4,526.7 774.0,535.6C775.4,543.8 777.0,552.0 778.5,560.3C779.2,562.5 780.0,564.7 780.7,567.0C783.0,573.7 785.3,580.4 787.4,587.1C789.1,592.3 791.1,597.4 791.9,602.8C792.6,607.2 792.8,611.9 791.9,616.3C790.9,621.0 789.1,625.7 786.3,629.7C783.4,634.1 779.1,637.4 775.1,640.9C770.9,644.6 766.5,648.1 761.7,651.0C758.9,652.6 755.9,654.5 752.7,654.3C748.7,654.1 745.2,651.4 741.5,649.9C737.0,648.0 732.5,646.4 728.1,644.3C723.9,642.2 719.1,640.8 715.8,637.5C713.2,634.9 712.1,631.0 711.3,627.5C710.2,623.1 709.8,618.5 710.2,614.0C710.6,608.0 711.7,601.9 713.5,596.1C715.5,589.9 718.7,584.1 721.4,578.2C724.0,572.2 726.6,566.2 729.2,560.3Z" fill="url(#tg)" filter="url(#ts)"/>
<path d="M778.5,560.3C779.2,562.5 780.0,564.7 780.7,567.0C783.0,573.7 785.3,580.4 787.4,587.1C789.1,592.3 791.1,597.4 791.9,602.8C792.6,607.2 792.8,611.9 791.9,616.3C790.9,621.0 789.1,625.7 786.3,629.7C783.4,634.1 779.1,637.4 775.1,640.9C770.9,644.6 766.5,648.1 761.7,651.0C758.9,652.6 755.9,654.5 752.7,654.3C748.7,654.1 745.2,651.4 741.5,649.9C737.0,648.0 732.5,646.4 728.1,644.3C723.9,642.2 719.1,640.8 715.8,637.5C713.2,634.9 712.1,631.0 711.3,627.5C710.2,623.1 709.8,618.5 710.2,614.0C710.6,608.0 711.7,601.9 713.5,596.1C715.5,589.9 718.7,584.1 721.4,578.2C724.0,572.2 726.6,566.2 729.2,560.3C733.3,560.6 737.4,561.1 741.5,561.4C746.7,561.7 752.0,562.2 757.2,562.0C764.3,561.8 771.4,560.8 778.5,560.3Z" fill="url(#tgc)" filter="url(#tc)"/>
<path d="M729.2,560.3C730.2,552.8 731.3,545.3 732.1,537.8C733.1,528.9 734.0,519.9 734.8,511.0C735.6,502.0 736.5,493.1 737.0,484.1C737.6,475.1 737.9,466.2 738.2,457.2C738.5,448.2 738.5,439.3 738.8,430.3C739.0,424.3 738.5,418.2 739.7,412.4C740.2,410.3 741.9,408.4 743.8,407.5C745.4,406.6 747.8,406.5 749.4,407.5C751.9,409.1 753.9,411.8 755.0,414.6C756.9,419.6 757.5,425.0 758.3,430.3C759.5,437.8 760.2,445.3 761.2,452.7C762.5,461.7 763.7,470.7 765.0,479.6C766.5,489.3 768.0,499.0 769.5,508.7C771.0,517.7 772.4,526.7 774.0,535.6C775.4,543.8 777.0,552.0 778.5,560.3" class="olr"/>
<path d="M778.5,560.3C779.2,562.5 780.0,564.7 780.7,567.0C783.0,573.7 785.3,580.4 787.4,587.1C789.1,592.3 791.1,597.4 791.9,602.8C792.6,607.2 792.8,611.9 791.9,616.3C790.9,621.0 789.1,625.7 786.3,629.7C783.4,634.1 779.1,637.4 775.1,640.9C770.9,644.6 766.5,648.1 761.7,651.0C758.9,652.6 755.9,654.5 752.7,654.3C748.7,654.1 745.2,651.4 741.5,649.9C737.0,648.0 732.5,646.4 728.1,644.3C723.9,642.2 719.1,640.8 715.8,637.5C713.2,634.9 712.1,631.0 711.3,627.5C710.2,623.1 709.8,618.5 710.2,614.0C710.6,608.0 711.7,601.9 713.5,596.1C715.5,589.9 718.7,584.1 721.4,578.2C724.0,572.2 726.6,566.2 729.2,560.3" class="olc"/>
<path d="M729.2,560.3C733.3,560.6 737.4,561.1 741.5,561.4C746.7,561.7 752.0,562.2 757.2,562.0C764.3,561.8 771.4,560.8 778.5,560.3" class="sh"/>
<path d="M729.2,560.3C733.3,560.6 737.4,561.1 741.5,561.4C746.7,561.7 752.0,562.2 757.2,562.0C764.3,561.8 771.4,560.8 778.5,560.3" class="il"/></g>
<g id="b14"><path d="M817.6,442.7C816.8,436.8 816.7,430.8 817.0,424.8C817.2,420.3 817.4,415.5 819.2,411.4C820.5,408.2 823.1,405.5 825.9,403.5C827.8,402.2 831.8,399.8 832.6,402.0C835.3,409.1 834.4,417.2 833.8,424.8C832.9,434.7 831.6,444.6 828.2,453.9C827.2,456.5 823.3,460.4 821.4,458.4C817.8,454.5 818.3,448.1 817.6,442.7Z" fill="url(#tg)" filter="url(#ts)"/>
<path d="M817.6,442.7C816.8,436.8 816.7,430.8 817.0,424.8C817.2,420.3 817.4,415.5 819.2,411.4C820.5,408.2 823.1,405.5 825.9,403.5C827.8,402.2 831.8,399.8 832.6,402.0C835.3,409.1 834.4,417.2 833.8,424.8C832.9,434.7 831.6,444.6 828.2,453.9C827.2,456.5 823.3,460.4 821.4,458.4C817.8,454.5 818.3,448.1 817.6,442.7Z" class="olr"/>
<path d="M808.0,561.5C809.1,553.2 810.4,545.0 811.4,536.8C812.4,527.9 813.3,518.9 814.1,509.9C814.8,501.7 814.9,493.5 815.8,485.3C816.6,478.5 817.8,471.8 819.2,465.1C820.0,461.3 821.7,457.7 822.6,453.9C824.0,447.3 825.0,440.5 825.9,433.8C826.9,427.1 826.9,420.3 828.2,413.6C828.8,410.1 829.4,406.4 831.5,403.5C833.0,401.4 835.7,399.9 838.2,399.7C840.6,399.5 843.6,400.4 845.0,402.4C847.1,405.6 847.5,409.8 847.7,413.6C848.2,424.8 847.3,436.0 847.2,447.2C847.1,458.4 846.8,469.6 847.2,480.8C847.6,490.5 848.5,500.2 849.4,509.9C850.3,518.9 851.4,527.9 852.8,536.8C854.1,545.1 855.8,553.2 857.3,561.5C860.6,568.2 864.0,574.9 867.4,581.6C870.0,586.8 873.3,591.8 875.2,597.3C876.5,600.9 877.3,604.8 876.8,608.5C876.2,612.5 874.3,616.4 871.8,619.7C868.1,624.8 863.2,629.0 858.4,633.1C854.2,636.8 849.7,640.3 845.0,643.2C841.8,645.2 838.6,647.5 834.9,647.7C831.3,647.9 827.8,646.2 824.8,644.3C819.1,640.9 814.1,636.4 809.1,632.0C804.8,628.2 800.1,624.5 796.8,619.7C794.6,616.4 793.2,612.4 793.0,608.5C792.8,603.2 794.3,597.9 795.7,592.8C797.4,586.7 800.1,580.8 802.4,574.9C804.2,570.4 806.1,565.9 808.0,561.5Z" fill="url(#tg)" filter="url(#ts)"/>
<path d="M857.3,561.5C860.6,568.2 864.0,574.9 867.4,581.6C870.0,586.8 873.3,591.8 875.2,597.3C876.5,600.9 877.3,604.8 876.8,608.5C876.2,612.5 874.3,616.4 871.8,619.7C868.1,624.8 863.2,629.0 858.4,633.1C854.2,636.8 849.7,640.3 845.0,643.2C841.8,645.2 838.6,647.5 834.9,647.7C831.3,647.9 827.8,646.2 824.8,644.3C819.1,640.9 814.1,636.4 809.1,632.0C804.8,628.2 800.1,624.5 796.8,619.7C794.6,616.4 793.2,612.4 793.0,608.5C792.8,603.2 794.3,597.9 795.7,592.8C797.4,586.7 800.1,580.8 802.4,574.9C804.2,570.4 806.1,565.9 808.0,561.5C812.1,561.8 816.2,562.3 820.3,562.6C825.5,562.9 830.8,563.4 836.0,563.2C843.1,563.0 850.2,562.0 857.3,561.5Z" fill="url(#tgc)" filter="url(#tc)"/>
<path d="M808.0,561.5C809.1,553.2 810.4,545.0 811.4,536.8C812.4,527.9 813.3,518.9 814.1,509.9C814.8,501.7 814.9,493.5 815.8,485.3C816.6,478.5 817.8,471.8 819.2,465.1C820.0,461.3 821.7,457.7 822.6,453.9C824.0,447.3 825.0,440.5 825.9,433.8C826.9,427.1 826.9,420.3 828.2,413.6C828.8,410.1 829.4,406.4 831.5,403.5C833.0,401.4 835.7,399.9 838.2,399.7C840.6,399.5 843.6,400.4 845.0,402.4C847.1,405.6 847.5,409.8 847.7,413.6C848.2,424.8 847.3,436.0 847.2,447.2C847.1,458.4 846.8,469.6 847.2,480.8C847.6,490.5 848.5,500.2 849.4,509.9C850.3,518.9 851.4,527.9 852.8,536.8C854.1,545.1 855.8,553.2 857.3,561.5" class="olr"/>
<path d="M857.3,561.5C860.6,568.2 864.0,574.9 867.4,581.6C870.0,586.8 873.3,591.8 875.2,597.3C876.5,600.9 877.3,604.8 876.8,608.5C876.2,612.5 874.3,616.4 871.8,619.7C868.1,624.8 863.2,629.0 858.4,633.1C854.2,636.8 849.7,640.3 845.0,643.2C841.8,645.2 838.6,647.5 834.9,647.7C831.3,647.9 827.8,646.2 824.8,644.3C819.1,640.9 814.1,636.4 809.1,632.0C804.8,628.2 800.1,624.5 796.8,619.7C794.6,616.4 793.2,612.4 793.0,608.5C792.8,603.2 794.3,597.9 795.7,592.8C797.4,586.7 800.1,580.8 802.4,574.9C804.2,570.4 806.1,565.9 808.0,561.5" class="olc"/>
<path d="M808.0,561.5C812.1,561.8 816.2,562.3 820.3,562.6C825.5,562.9 830.8,563.4 836.0,563.2C843.1,563.0 850.2,562.0 857.3,561.5" class="sh"/>
<path d="M808.0,561.5C812.1,561.8 816.2,562.3 820.3,562.6C825.5,562.9 830.8,563.4 836.0,563.2C843.1,563.0 850.2,562.0 857.3,561.5" class="il"/></g>
<g id="b13"><path d="M885.6,561.2C886.3,550.5 887.0,539.8 887.6,529.2C888.3,517.2 888.7,505.3 889.4,493.3C890.2,481.4 890.8,469.4 892.0,457.5C893.0,447.2 894.4,437.0 895.8,426.8C897.2,416.5 898.6,406.3 900.4,396.1C901.8,388.3 903.2,380.5 905.6,373.0C906.7,369.5 908.4,366.1 910.7,363.3C911.7,362.1 913.5,361.2 915.0,361.5C917.1,362.0 919.2,363.5 920.1,365.4C922.1,369.3 922.9,373.8 923.5,378.2C924.6,387.5 924.8,396.9 925.3,406.3C925.8,417.4 926.0,428.5 926.5,439.6C927.1,450.7 927.7,461.8 928.6,472.9C929.4,483.1 930.4,493.4 931.7,503.6C933.0,513.8 934.5,524.1 936.3,534.3C937.9,543.3 940.0,552.2 941.9,561.2C944.5,566.7 947.1,572.2 949.6,577.8C952.2,583.7 955.4,589.5 957.3,595.7C958.7,600.7 959.6,605.9 959.3,611.1C959.1,615.1 958.3,619.3 956.0,622.6C952.3,627.7 946.9,631.5 941.9,635.4C937.5,638.8 932.7,641.6 927.8,644.3C924.6,646.2 921.3,649.0 917.6,649.0C913.8,649.0 910.5,646.4 907.4,644.3C901.5,640.5 895.8,636.4 890.7,631.5C886.8,627.8 882.9,623.6 880.5,618.7C878.5,614.9 877.8,610.3 877.9,606.0C878.0,599.9 879.8,594.0 881.0,588.0C882.0,582.9 883.4,577.8 884.3,572.7C885.0,568.9 885.2,565.0 885.6,561.2Z" fill="url(#tg)" filter="url(#ts)"/>
<path d="M941.9,561.2C944.5,566.7 947.1,572.2 949.6,577.8C952.2,583.7 955.4,589.5 957.3,595.7C958.7,600.7 959.6,605.9 959.3,611.1C959.1,615.1 958.3,619.3 956.0,622.6C952.3,627.7 946.9,631.5 941.9,635.4C937.5,638.8 932.7,641.6 927.8,644.3C924.6,646.2 921.3,649.0 917.6,649.0C913.8,649.0 910.5,646.4 907.4,644.3C901.5,640.5 895.8,636.4 890.7,631.5C886.8,627.8 882.9,623.6 880.5,618.7C878.5,614.9 877.8,610.3 877.9,606.0C878.0,599.9 879.8,594.0 881.0,588.0C882.0,582.9 883.4,577.8 884.3,572.7C885.0,568.9 885.2,565.0 885.6,561.2C889.9,561.6 894.1,562.2 898.4,562.4C905.2,562.8 912.0,563.2 918.9,563.0C926.6,562.7 934.2,561.8 941.9,561.2Z" fill="url(#tgc)" filter="url(#tc)"/>
<path d="M885.6,561.2C886.3,550.5 887.0,539.8 887.6,529.2C888.3,517.2 888.7,505.3 889.4,493.3C890.2,481.4 890.8,469.4 892.0,457.5C893.0,447.2 894.4,437.0 895.8,426.8C897.2,416.5 898.6,406.3 900.4,396.1C901.8,388.3 903.2,380.5 905.6,373.0C906.7,369.5 908.4,366.1 910.7,363.3C911.7,362.1 913.5,361.2 915.0,361.5C917.1,362.0 919.2,363.5 920.1,365.4C922.1,369.3 922.9,373.8 923.5,378.2C924.6,387.5 924.8,396.9 925.3,406.3C925.8,417.4 926.0,428.5 926.5,439.6C927.1,450.7 927.7,461.8 928.6,472.9C929.4,483.1 930.4,493.4 931.7,503.6C933.0,513.8 934.5,524.1 936.3,534.3C937.9,543.3 940.0,552.2 941.9,561.2" class="olr"/>
<path d="M941.9,561.2C944.5,566.7 947.1,572.2 949.6,577.8C952.2,583.7 955.4,589.5 957.3,595.7C958.7,600.7 959.6,605.9 959.3,611.1C959.1,615.1 958.3,619.3 956.0,622.6C952.3,627.7 946.9,631.5 941.9,635.4C937.5,638.8 932.7,641.6 927.8,644.3C924.6,646.2 921.3,649.0 917.6,649.0C913.8,649.0 910.5,646.4 907.4,644.3C901.5,640.5 895.8,636.4 890.7,631.5C886.8,627.8 882.9,623.6 880.5,618.7C878.5,614.9 877.8,610.3 877.9,606.0C878.0,599.9 879.8,594.0 881.0,588.0C882.0,582.9 883.4,577.8 884.3,572.7C885.0,568.9 885.2,565.0 885.6,561.2" class="olc"/>
<path d="M885.6,561.2C889.9,561.6 894.1,562.2 898.4,562.4C905.2,562.8 912.0,563.2 918.9,563.0C926.6,562.7 934.2,561.8 941.9,561.2" class="sh"/>
<path d="M885.6,561.2C889.9,561.6 894.1,562.2 898.4,562.4C905.2,562.8 912.0,563.2 918.9,563.0C926.6,562.7 934.2,561.8 941.9,561.2" class="il"/></g>
<g id="b12"><path d="M975.5,560.0C976.5,552.0 977.4,544.0 978.4,536.0C979.5,527.2 980.8,518.4 982.0,509.6C983.2,500.8 984.3,492.0 985.6,483.2C986.7,475.2 988.1,467.2 989.2,459.2C990.1,452.0 991.3,444.8 991.6,437.6C991.8,432.0 991.4,426.4 990.9,420.8C990.6,417.2 989.0,413.6 989.2,410.0C989.3,408.0 990.0,405.6 991.6,404.5C993.2,403.3 995.7,403.3 997.6,404.0C1000.8,405.2 1003.8,407.3 1006.0,410.0C1009.2,413.9 1011.5,418.5 1013.2,423.2C1015.5,429.4 1016.9,435.9 1018.0,442.4C1019.3,450.3 1019.7,458.4 1020.4,466.4C1021.1,475.2 1021.6,484.0 1022.1,492.8C1022.6,501.6 1023.1,510.4 1023.5,519.2C1023.9,527.2 1024.1,535.2 1024.5,543.2C1024.7,548.8 1025.0,554.4 1025.2,560.0C1026.0,568.0 1026.8,576.0 1027.6,584.0C1028.4,592.0 1029.2,600.0 1030.0,608.0C1030.8,615.2 1032.2,622.3 1032.4,629.6C1032.6,634.4 1033.1,639.6 1031.2,644.0C1029.7,647.3 1026.2,649.7 1022.8,651.2C1019.5,652.6 1015.6,652.7 1012.0,652.4C1006.3,651.9 1000.7,650.4 995.2,648.8C988.6,646.8 982.2,644.4 976.0,641.6C971.4,639.5 966.2,638.1 962.8,634.4C960.6,632.0 960.3,628.1 960.4,624.8C960.7,618.3 962.5,611.9 964.0,605.6C965.7,598.3 968.2,591.2 970.0,584.0C972.0,576.0 973.7,568.0 975.5,560.0Z" fill="url(#tg)" filter="url(#ts)"/>
<path d="M1025.2,560.0C1026.0,568.0 1026.8,576.0 1027.6,584.0C1028.4,592.0 1029.2,600.0 1030.0,608.0C1030.8,615.2 1032.2,622.3 1032.4,629.6C1032.6,634.4 1033.1,639.6 1031.2,644.0C1029.7,647.3 1026.2,649.7 1022.8,651.2C1019.5,652.6 1015.6,652.7 1012.0,652.4C1006.3,651.9 1000.7,650.4 995.2,648.8C988.6,646.8 982.2,644.4 976.0,641.6C971.4,639.5 966.2,638.1 962.8,634.4C960.6,632.0 960.3,628.1 960.4,624.8C960.7,618.3 962.5,611.9 964.0,605.6C965.7,598.3 968.2,591.2 970.0,584.0C972.0,576.0 973.7,568.0 975.5,560.0C979.7,561.2 983.7,563.0 988.0,563.6C994.3,564.5 1000.8,564.9 1007.2,564.3C1013.3,563.7 1019.2,561.4 1025.2,560.0Z" fill="url(#tgc)" filter="url(#tc)"/>
<path d="M975.5,560.0C976.5,552.0 977.4,544.0 978.4,536.0C979.5,527.2 980.8,518.4 982.0,509.6C983.2,500.8 984.3,492.0 985.6,483.2C986.7,475.2 988.1,467.2 989.2,459.2C990.1,452.0 991.3,444.8 991.6,437.6C991.8,432.0 991.4,426.4 990.9,420.8C990.6,417.2 989.0,413.6 989.2,410.0C989.3,408.0 990.0,405.6 991.6,404.5C993.2,403.3 995.7,403.3 997.6,404.0C1000.8,405.2 1003.8,407.3 1006.0,410.0C1009.2,413.9 1011.5,418.5 1013.2,423.2C1015.5,429.4 1016.9,435.9 1018.0,442.4C1019.3,450.3 1019.7,458.4 1020.4,466.4C1021.1,475.2 1021.6,484.0 1022.1,492.8C1022.6,501.6 1023.1,510.4 1023.5,519.2C1023.9,527.2 1024.1,535.2 1024.5,543.2C1024.7,548.8 1025.0,554.4 1025.2,560.0" class="olr"/>
<path d="M1025.2,560.0C1026.0,568.0 1026.8,576.0 1027.6,584.0C1028.4,592.0 1029.2,600.0 1030.0,608.0C1030.8,615.2 1032.2,622.3 1032.4,629.6C1032.6,634.4 1033.1,639.6 1031.2,644.0C1029.7,647.3 1026.2,649.7 1022.8,651.2C1019.5,652.6 1015.6,652.7 1012.0,652.4C1006.3,651.9 1000.7,650.4 995.2,648.8C988.6,646.8 982.2,644.4 976.0,641.6C971.4,639.5 966.2,638.1 962.8,634.4C960.6,632.0 960.3,628.1 960.4,624.8C960.7,618.3 962.5,611.9 964.0,605.6C965.7,598.3 968.2,591.2 970.0,584.0C972.0,576.0 973.7,568.0 975.5,560.0" class="olc"/>
<path d="M975.5,560.0C979.7,561.2 983.7,563.0 988.0,563.6C994.3,564.5 1000.8,564.9 1007.2,564.3C1013.3,563.7 1019.2,561.4 1025.2,560.0" class="sh"/>
<path d="M975.5,560.0C979.7,561.2 983.7,563.0 988.0,563.6C994.3,564.5 1000.8,564.9 1007.2,564.3C1013.3,563.7 1019.2,561.4 1025.2,560.0" class="il"/></g>
<g id="b11"><path d="M1057.6,558.8C1059.2,551.2 1060.9,543.6 1062.4,536.0C1064.1,527.2 1065.5,518.4 1067.2,509.6C1068.6,502.4 1070.3,495.2 1071.5,488.0C1072.7,480.8 1073.7,473.6 1074.4,466.4C1075.1,459.2 1075.4,452.0 1075.6,444.8C1075.8,437.6 1075.3,430.4 1075.6,423.2C1075.7,418.8 1075.4,414.2 1076.8,410.0C1077.5,407.7 1079.3,405.4 1081.6,404.5C1083.8,403.6 1086.8,403.9 1088.8,405.2C1091.9,407.2 1094.0,410.5 1096.0,413.6C1099.3,418.9 1101.9,424.7 1104.4,430.4C1107.1,436.7 1109.5,443.1 1111.6,449.6C1113.6,455.9 1115.2,462.3 1116.4,468.8C1117.6,475.9 1118.3,483.2 1118.8,490.4C1119.3,498.4 1119.3,506.4 1119.5,514.4C1119.7,522.4 1119.8,530.4 1120.0,538.4C1120.1,545.2 1120.3,552.0 1120.5,558.8C1121.9,565.6 1123.1,572.4 1124.8,579.2C1126.6,586.4 1129.0,593.5 1130.8,600.8C1132.6,607.9 1134.0,615.2 1135.6,622.4C1136.8,628.0 1138.7,633.5 1139.2,639.2C1139.6,644.0 1139.9,649.1 1138.0,653.6C1136.4,657.2 1133.2,660.3 1129.6,662.0C1124.4,664.4 1118.5,665.2 1112.8,665.6C1104.8,666.0 1096.7,665.4 1088.8,664.4C1080.7,663.4 1072.7,661.8 1064.8,659.6C1058.2,657.7 1051.4,655.9 1045.6,652.4C1042.0,650.2 1038.7,646.8 1037.2,642.8C1035.3,637.9 1035.5,632.4 1036.0,627.2C1036.7,619.8 1038.7,612.7 1040.8,605.6C1043.1,597.4 1046.3,589.6 1049.2,581.6C1051.9,574.0 1054.8,566.4 1057.6,558.8Z" fill="url(#tg)" filter="url(#ts)"/>
<path d="M1120.5,558.8C1121.9,565.6 1123.1,572.4 1124.8,579.2C1126.6,586.4 1129.0,593.5 1130.8,600.8C1132.6,607.9 1134.0,615.2 1135.6,622.4C1136.8,628.0 1138.7,633.5 1139.2,639.2C1139.6,644.0 1139.9,649.1 1138.0,653.6C1136.4,657.2 1133.2,660.3 1129.6,662.0C1124.4,664.4 1118.5,665.2 1112.8,665.6C1104.8,666.0 1096.7,665.4 1088.8,664.4C1080.7,663.4 1072.7,661.8 1064.8,659.6C1058.2,657.7 1051.4,655.9 1045.6,652.4C1042.0,650.2 1038.7,646.8 1037.2,642.8C1035.3,637.9 1035.5,632.4 1036.0,627.2C1036.7,619.8 1038.7,612.7 1040.8,605.6C1043.1,597.4 1046.3,589.6 1049.2,581.6C1051.9,574.0 1054.8,566.4 1057.6,558.8C1063.2,559.3 1068.8,560.1 1074.4,560.5C1081.6,560.9 1088.8,561.4 1096.0,561.2C1104.2,560.9 1112.3,559.6 1120.5,558.8Z" fill="url(#tgc)" filter="url(#tc)"/>
<path d="M1057.6,558.8C1059.2,551.2 1060.9,543.6 1062.4,536.0C1064.1,527.2 1065.5,518.4 1067.2,509.6C1068.6,502.4 1070.3,495.2 1071.5,488.0C1072.7,480.8 1073.7,473.6 1074.4,466.4C1075.1,459.2 1075.4,452.0 1075.6,444.8C1075.8,437.6 1075.3,430.4 1075.6,423.2C1075.7,418.8 1075.4,414.2 1076.8,410.0C1077.5,407.7 1079.3,405.4 1081.6,404.5C1083.8,403.6 1086.8,403.9 1088.8,405.2C1091.9,407.2 1094.0,410.5 1096.0,413.6C1099.3,418.9 1101.9,424.7 1104.4,430.4C1107.1,436.7 1109.5,443.1 1111.6,449.6C1113.6,455.9 1115.2,462.3 1116.4,468.8C1117.6,475.9 1118.3,483.2 1118.8,490.4C1119.3,498.4 1119.3,506.4 1119.5,514.4C1119.7,522.4 1119.8,530.4 1120.0,538.4C1120.1,545.2 1120.3,552.0 1120.5,558.8" class="olr"/>
<path d="M1120.5,558.8C1121.9,565.6 1123.1,572.4 1124.8,579.2C1126.6,586.4 1129.0,593.5 1130.8,600.8C1132.6,607.9 1134.0,615.2 1135.6,622.4C1136.8,628.0 1138.7,633.5 1139.2,639.2C1139.6,644.0 1139.9,649.1 1138.0,653.6C1136.4,657.2 1133.2,660.3 1129.6,662.0C1124.4,664.4 1118.5,665.2 1112.8,665.6C1104.8,666.0 1096.7,665.4 1088.8,664.4C1080.7,663.4 1072.7,661.8 1064.8,659.6C1058.2,657.7 1051.4,655.9 1045.6,652.4C1042.0,650.2 1038.7,646.8 1037.2,642.8C1035.3,637.9 1035.5,632.4 1036.0,627.2C1036.7,619.8 1038.7,612.7 1040.8,605.6C1043.1,597.4 1046.3,589.6 1049.2,581.6C1051.9,574.0 1054.8,566.4 1057.6,558.8" class="olc"/>
<path d="M1057.6,558.8C1063.2,559.3 1068.8,560.1 1074.4,560.5C1081.6,560.9 1088.8,561.4 1096.0,561.2C1104.2,560.9 1112.3,559.6 1120.5,558.8" class="sh"/>
<path d="M1057.6,558.8C1063.2,559.3 1068.8,560.1 1074.4,560.5C1081.6,560.9 1088.8,561.4 1096.0,561.2C1104.2,560.9 1112.3,559.6 1120.5,558.8" class="il"/></g>
<g id="b18m"><path d="M1919.6,440.0C1919.9,436.3 1919.9,432.6 1919.4,429.0C1919.1,426.7 1918.4,424.4 1917.0,422.6C1916.0,421.2 1914.3,420.1 1912.6,420.0C1910.4,419.9 1908.1,420.9 1906.2,422.0C1903.9,423.4 1902.1,425.5 1900.2,427.4C1898.6,429.0 1896.8,430.5 1895.6,432.4C1894.2,434.7 1893.0,437.3 1892.6,440.0C1891.6,446.6 1891.6,453.3 1891.6,460.0C1891.6,477.3 1889.7,494.9 1892.6,512.0C1893.5,517.1 1898.1,526.7 1902.6,524.0C1910.0,519.5 1910.9,508.5 1912.6,500.0C1916.6,480.3 1917.7,460.0 1919.6,440.0Z" fill="url(#tg)" filter="url(#ts)"/>
<path d="M1919.6,440.0C1919.9,436.3 1919.9,432.6 1919.4,429.0C1919.1,426.7 1918.4,424.4 1917.0,422.6C1916.0,421.2 1914.3,420.1 1912.6,420.0C1910.4,419.9 1908.1,420.9 1906.2,422.0C1903.9,423.4 1902.1,425.5 1900.2,427.4C1898.6,429.0 1896.8,430.5 1895.6,432.4C1894.2,434.7 1893.0,437.3 1892.6,440.0C1891.6,446.6 1891.6,453.3 1891.6,460.0C1891.6,477.3 1889.7,494.9 1892.6,512.0C1893.5,517.1 1898.1,526.7 1902.6,524.0C1910.0,519.5 1910.9,508.5 1912.6,500.0C1916.6,480.3 1917.7,460.0 1919.6,440.0Z" class="olr"/>
<path d="M1927.6,562.4C1927.1,554.9 1926.4,547.5 1926.0,540.0C1925.4,530.7 1925.0,521.3 1924.6,512.0C1924.1,501.3 1923.6,490.7 1923.2,480.0C1922.8,471.3 1922.7,462.7 1922.2,454.0C1922.0,449.7 1922.1,445.2 1921.0,441.0C1920.5,438.9 1919.2,437.0 1917.6,435.6C1916.3,434.5 1914.3,433.8 1912.6,434.0C1910.7,434.3 1908.7,435.4 1907.6,437.0C1905.8,439.6 1905.2,442.9 1904.6,446.0C1903.2,452.6 1902.5,459.3 1901.6,466.0C1900.6,474.0 1900.0,482.0 1899.0,490.0C1898.1,496.7 1897.1,503.4 1896.0,510.0C1895.4,513.4 1894.7,516.7 1894.0,520.0C1893.3,516.0 1892.4,512.0 1892.0,508.0C1891.2,500.0 1890.7,492.0 1890.6,484.0C1890.5,478.0 1890.9,472.0 1891.4,466.0C1891.8,460.6 1892.6,455.3 1893.2,450.0C1893.7,446.0 1894.8,442.0 1894.6,438.0C1894.5,436.6 1893.7,435.3 1892.6,434.4C1891.5,433.5 1890.0,432.9 1888.6,433.0C1886.8,433.1 1885.1,433.9 1883.6,435.0C1881.3,436.7 1879.3,438.7 1877.6,441.0C1874.9,444.8 1872.6,448.8 1870.6,453.0C1867.9,458.5 1865.6,464.2 1863.6,470.0C1861.3,476.6 1859.0,483.2 1857.6,490.0C1856.1,497.2 1855.5,504.6 1855.0,512.0C1854.3,521.3 1854.3,530.7 1854.0,540.0C1853.7,547.5 1853.5,554.9 1853.2,562.4C1851.7,566.9 1850.1,571.4 1848.6,576.0C1846.9,581.3 1844.9,586.6 1843.6,592.0C1842.5,596.6 1841.7,601.3 1841.6,606.0C1841.5,610.0 1841.2,614.4 1843.0,618.0C1845.1,622.1 1849.2,624.9 1852.6,628.0C1856.4,631.5 1860.3,635.1 1864.6,638.0C1867.0,639.6 1869.7,641.4 1872.6,641.6C1875.4,641.8 1878.0,640.1 1880.6,639.0C1884.0,637.6 1887.2,635.5 1890.6,634.0C1892.5,633.2 1894.6,632.7 1896.6,632.0C1897.8,632.3 1899.1,632.5 1900.2,633.0C1902.8,634.2 1905.0,636.1 1907.6,637.0C1910.2,637.9 1912.9,638.9 1915.6,638.4C1918.9,637.8 1921.9,636.0 1924.6,634.0C1928.4,631.2 1931.8,627.8 1934.6,624.0C1937.3,620.4 1939.7,616.4 1941.0,612.0C1942.1,608.2 1942.1,604.0 1941.6,600.0C1941.0,595.2 1939.2,590.6 1937.6,586.0C1936.2,581.9 1934.3,578.0 1932.6,574.0C1931.0,570.1 1929.3,566.3 1927.6,562.4Z" fill="url(#tg)" filter="url(#ts)"/>
<path d="M1853.2,562.4C1851.7,566.9 1850.1,571.4 1848.6,576.0C1846.9,581.3 1844.9,586.6 1843.6,592.0C1842.5,596.6 1841.7,601.3 1841.6,606.0C1841.5,610.0 1841.2,614.4 1843.0,618.0C1845.1,622.1 1849.2,624.9 1852.6,628.0C1856.4,631.5 1860.3,635.1 1864.6,638.0C1867.0,639.6 1869.7,641.4 1872.6,641.6C1875.4,641.8 1878.0,640.1 1880.6,639.0C1884.0,637.6 1887.2,635.5 1890.6,634.0C1892.5,633.2 1894.6,632.7 1896.6,632.0C1897.8,632.3 1899.1,632.5 1900.2,633.0C1902.8,634.2 1905.0,636.1 1907.6,637.0C1910.2,637.9 1912.9,638.9 1915.6,638.4C1918.9,637.8 1921.9,636.0 1924.6,634.0C1928.4,631.2 1931.8,627.8 1934.6,624.0C1937.3,620.4 1939.7,616.4 1941.0,612.0C1942.1,608.2 1942.1,604.0 1941.6,600.0C1941.0,595.2 1939.2,590.6 1937.6,586.0C1936.2,581.9 1934.3,578.0 1932.6,574.0C1931.0,570.1 1929.3,566.3 1927.6,562.4C1925.3,562.0 1923.0,561.3 1920.6,561.2C1911.3,560.8 1901.9,560.8 1892.6,560.8C1881.9,560.8 1871.3,560.8 1860.6,561.2C1858.1,561.3 1855.7,562.0 1853.2,562.4Z" fill="url(#tgc)" filter="url(#tc)"/>
<path d="M1927.6,562.4C1927.1,554.9 1926.4,547.5 1926.0,540.0C1925.4,530.7 1925.0,521.3 1924.6,512.0C1924.1,501.3 1923.6,490.7 1923.2,480.0C1922.8,471.3 1922.7,462.7 1922.2,454.0C1922.0,449.7 1922.1,445.2 1921.0,441.0C1920.5,438.9 1919.2,437.0 1917.6,435.6C1916.3,434.5 1914.3,433.8 1912.6,434.0C1910.7,434.3 1908.7,435.4 1907.6,437.0C1905.8,439.6 1905.2,442.9 1904.6,446.0C1903.2,452.6 1902.5,459.3 1901.6,466.0C1900.6,474.0 1900.0,482.0 1899.0,490.0C1898.1,496.7 1897.1,503.4 1896.0,510.0C1895.4,513.4 1894.7,516.7 1894.0,520.0C1893.3,516.0 1892.4,512.0 1892.0,508.0C1891.2,500.0 1890.7,492.0 1890.6,484.0C1890.5,478.0 1890.9,472.0 1891.4,466.0C1891.8,460.6 1892.6,455.3 1893.2,450.0C1893.7,446.0 1894.8,442.0 1894.6,438.0C1894.5,436.6 1893.7,435.3 1892.6,434.4C1891.5,433.5 1890.0,432.9 1888.6,433.0C1886.8,433.1 1885.1,433.9 1883.6,435.0C1881.3,436.7 1879.3,438.7 1877.6,441.0C1874.9,444.8 1872.6,448.8 1870.6,453.0C1867.9,458.5 1865.6,464.2 1863.6,470.0C1861.3,476.6 1859.0,483.2 1857.6,490.0C1856.1,497.2 1855.5,504.6 1855.0,512.0C1854.3,521.3 1854.3,530.7 1854.0,540.0C1853.7,547.5 1853.5,554.9 1853.2,562.4" class="olr"/>
<path d="M1853.2,562.4C1851.7,566.9 1850.1,571.4 1848.6,576.0C1846.9,581.3 1844.9,586.6 1843.6,592.0C1842.5,596.6 1841.7,601.3 1841.6,606.0C1841.5,610.0 1841.2,614.4 1843.0,618.0C1845.1,622.1 1849.2,624.9 1852.6,628.0C1856.4,631.5 1860.3,635.1 1864.6,638.0C1867.0,639.6 1869.7,641.4 1872.6,641.6C1875.4,641.8 1878.0,640.1 1880.6,639.0C1884.0,637.6 1887.2,635.5 1890.6,634.0C1892.5,633.2 1894.6,632.7 1896.6,632.0C1897.8,632.3 1899.1,632.5 1900.2,633.0C1902.8,634.2 1905.0,636.1 1907.6,637.0C1910.2,637.9 1912.9,638.9 1915.6,638.4C1918.9,637.8 1921.9,636.0 1924.6,634.0C1928.4,631.2 1931.8,627.8 1934.6,624.0C1937.3,620.4 1939.7,616.4 1941.0,612.0C1942.1,608.2 1942.1,604.0 1941.6,600.0C1941.0,595.2 1939.2,590.6 1937.6,586.0C1936.2,581.9 1934.3,578.0 1932.6,574.0C1931.0,570.1 1929.3,566.3 1927.6,562.4" class="olc"/>
<path d="M1927.6,562.4C1925.3,562.0 1923.0,561.3 1920.6,561.2C1911.3,560.8 1901.9,560.8 1892.6,560.8C1881.9,560.8 1871.3,560.8 1860.6,561.2C1858.1,561.3 1855.7,562.0 1853.2,562.4" class="sh"/>
<path d="M1927.6,562.4C1925.3,562.0 1923.0,561.3 1920.6,561.2C1911.3,560.8 1901.9,560.8 1892.6,560.8C1881.9,560.8 1871.3,560.8 1860.6,561.2C1858.1,561.3 1855.7,562.0 1853.2,562.4" class="il"/>
<path d="M1898.2,615.0C1898.0,620.7 1897.8,626.3 1897.6,632.0" class="il"/></g>
<g id="b17m"><path d="M1809.6,425.0C1809.7,422.9 1808.1,421.1 1806.6,419.6C1805.3,418.3 1803.5,417.2 1801.6,417.0C1799.8,416.8 1797.8,417.5 1796.2,418.4C1794.1,419.6 1792.3,421.3 1790.6,423.0C1789.4,424.2 1788.3,425.5 1787.6,427.0C1785.6,431.2 1783.3,435.4 1782.6,440.0C1781.0,449.9 1780.6,460.0 1780.6,470.0C1780.6,481.4 1779.5,493.1 1782.6,504.0C1783.8,508.1 1790.6,515.8 1792.6,512.0C1799.3,499.4 1798.1,484.0 1800.6,470.0C1802.4,460.0 1803.6,449.9 1805.6,440.0C1806.6,434.9 1809.3,430.2 1809.6,425.0Z" fill="url(#tg)" filter="url(#ts)"/>
<path d="M1809.6,425.0C1809.7,422.9 1808.1,421.1 1806.6,419.6C1805.3,418.3 1803.5,417.2 1801.6,417.0C1799.8,416.8 1797.8,417.5 1796.2,418.4C1794.1,419.6 1792.3,421.3 1790.6,423.0C1789.4,424.2 1788.3,425.5 1787.6,427.0C1785.6,431.2 1783.3,435.4 1782.6,440.0C1781.0,449.9 1780.6,460.0 1780.6,470.0C1780.6,481.4 1779.5,493.1 1782.6,504.0C1783.8,508.1 1790.6,515.8 1792.6,512.0C1799.3,499.4 1798.1,484.0 1800.6,470.0C1802.4,460.0 1803.6,449.9 1805.6,440.0C1806.6,434.9 1809.3,430.2 1809.6,425.0Z" class="olr"/>
<path d="M1825.0,561.0C1824.5,554.0 1824.0,547.0 1823.6,540.0C1823.1,530.7 1822.6,521.3 1822.2,512.0C1821.7,501.3 1821.4,490.7 1821.0,480.0C1820.7,472.0 1820.4,464.0 1820.0,456.0C1819.7,450.0 1819.7,444.0 1819.0,438.0C1818.7,435.3 1818.4,432.3 1817.0,430.0C1815.8,428.1 1813.8,426.6 1811.6,426.0C1809.6,425.5 1807.3,425.8 1805.6,427.0C1803.6,428.4 1802.4,430.7 1801.6,433.0C1800.1,437.2 1799.3,441.6 1798.6,446.0C1797.5,452.6 1797.0,459.3 1796.2,466.0C1795.3,474.0 1794.7,482.0 1793.6,490.0C1792.8,496.0 1792.2,502.1 1790.6,508.0C1789.5,512.2 1787.3,516.0 1785.6,520.0C1784.9,517.3 1784.0,514.7 1783.6,512.0C1782.6,504.7 1781.8,497.4 1781.6,490.0C1781.4,482.0 1781.6,474.0 1782.2,466.0C1782.7,459.9 1783.8,453.9 1785.0,448.0C1785.9,443.6 1787.4,439.3 1788.6,435.0C1789.3,432.7 1791.1,430.4 1790.6,428.0C1790.3,426.4 1788.2,425.5 1786.6,425.0C1784.7,424.4 1782.5,424.4 1780.6,425.0C1778.3,425.8 1776.2,427.2 1774.6,429.0C1772.1,432.0 1770.4,435.5 1768.6,439.0C1765.7,444.6 1763.0,450.2 1760.6,456.0C1757.9,462.5 1755.4,469.2 1753.6,476.0C1751.6,483.9 1750.2,491.9 1749.2,500.0C1748.2,508.0 1748.1,516.0 1747.6,524.0C1747.2,530.7 1747.0,537.3 1746.6,544.0C1746.3,549.7 1745.9,555.3 1745.6,561.0C1743.9,566.0 1742.4,571.0 1740.6,576.0C1738.7,581.4 1736.3,586.6 1734.6,592.0C1733.0,597.2 1731.2,602.5 1730.6,608.0C1730.2,612.0 1729.9,616.3 1731.6,620.0C1733.5,624.1 1737.3,627.0 1740.6,630.0C1744.3,633.4 1748.3,636.4 1752.6,639.0C1755.7,640.9 1759.0,643.0 1762.6,643.6C1765.3,644.0 1768.1,643.0 1770.6,642.0C1774.8,640.4 1778.6,638.0 1782.6,636.0C1784.6,635.0 1786.5,633.7 1788.6,633.0C1789.9,632.6 1791.3,632.7 1792.6,632.6C1794.3,633.4 1795.9,634.2 1797.6,635.0C1800.2,636.2 1802.8,637.7 1805.6,638.4C1808.2,639.0 1811.0,639.5 1813.6,639.0C1816.8,638.4 1819.9,636.9 1822.6,635.0C1826.3,632.5 1829.8,629.5 1832.6,626.0C1835.2,622.7 1837.3,619.0 1838.6,615.0C1839.7,611.5 1840.0,607.7 1839.6,604.0C1839.0,599.2 1837.1,594.6 1835.6,590.0C1834.1,585.3 1832.3,580.7 1830.6,576.0C1828.8,571.0 1826.9,566.0 1825.0,561.0Z" fill="url(#tg)" filter="url(#ts)"/>
<path d="M1745.6,561.0C1743.9,566.0 1742.4,571.0 1740.6,576.0C1738.7,581.4 1736.3,586.6 1734.6,592.0C1733.0,597.2 1731.2,602.5 1730.6,608.0C1730.2,612.0 1729.9,616.3 1731.6,620.0C1733.5,624.1 1737.3,627.0 1740.6,630.0C1744.3,633.4 1748.3,636.4 1752.6,639.0C1755.7,640.9 1759.0,643.0 1762.6,643.6C1765.3,644.0 1768.1,643.0 1770.6,642.0C1774.8,640.4 1778.6,638.0 1782.6,636.0C1784.6,635.0 1786.5,633.7 1788.6,633.0C1789.9,632.6 1791.3,632.7 1792.6,632.6C1794.3,633.4 1795.9,634.2 1797.6,635.0C1800.2,636.2 1802.8,637.7 1805.6,638.4C1808.2,639.0 1811.0,639.5 1813.6,639.0C1816.8,638.4 1819.9,636.9 1822.6,635.0C1826.3,632.5 1829.8,629.5 1832.6,626.0C1835.2,622.7 1837.3,619.0 1838.6,615.0C1839.7,611.5 1840.0,607.7 1839.6,604.0C1839.0,599.2 1837.1,594.6 1835.6,590.0C1834.1,585.3 1832.3,580.7 1830.6,576.0C1828.8,571.0 1826.9,566.0 1825.0,561.0C1822.2,560.3 1819.5,559.2 1816.6,559.0C1806.0,558.4 1795.3,558.6 1784.6,558.6C1774.6,558.6 1764.6,558.4 1754.6,559.0C1751.5,559.2 1748.6,560.3 1745.6,561.0Z" fill="url(#tgc)" filter="url(#tc)"/>
<path d="M1825.0,561.0C1824.5,554.0 1824.0,547.0 1823.6,540.0C1823.1,530.7 1822.6,521.3 1822.2,512.0C1821.7,501.3 1821.4,490.7 1821.0,480.0C1820.7,472.0 1820.4,464.0 1820.0,456.0C1819.7,450.0 1819.7,444.0 1819.0,438.0C1818.7,435.3 1818.4,432.3 1817.0,430.0C1815.8,428.1 1813.8,426.6 1811.6,426.0C1809.6,425.5 1807.3,425.8 1805.6,427.0C1803.6,428.4 1802.4,430.7 1801.6,433.0C1800.1,437.2 1799.3,441.6 1798.6,446.0C1797.5,452.6 1797.0,459.3 1796.2,466.0C1795.3,474.0 1794.7,482.0 1793.6,490.0C1792.8,496.0 1792.2,502.1 1790.6,508.0C1789.5,512.2 1787.3,516.0 1785.6,520.0C1784.9,517.3 1784.0,514.7 1783.6,512.0C1782.6,504.7 1781.8,497.4 1781.6,490.0C1781.4,482.0 1781.6,474.0 1782.2,466.0C1782.7,459.9 1783.8,453.9 1785.0,448.0C1785.9,443.6 1787.4,439.3 1788.6,435.0C1789.3,432.7 1791.1,430.4 1790.6,428.0C1790.3,426.4 1788.2,425.5 1786.6,425.0C1784.7,424.4 1782.5,424.4 1780.6,425.0C1778.3,425.8 1776.2,427.2 1774.6,429.0C1772.1,432.0 1770.4,435.5 1768.6,439.0C1765.7,444.6 1763.0,450.2 1760.6,456.0C1757.9,462.5 1755.4,469.2 1753.6,476.0C1751.6,483.9 1750.2,491.9 1749.2,500.0C1748.2,508.0 1748.1,516.0 1747.6,524.0C1747.2,530.7 1747.0,537.3 1746.6,544.0C1746.3,549.7 1745.9,555.3 1745.6,561.0" class="olr"/>
<path d="M1745.6,561.0C1743.9,566.0 1742.4,571.0 1740.6,576.0C1738.7,581.4 1736.3,586.6 1734.6,592.0C1733.0,597.2 1731.2,602.5 1730.6,608.0C1730.2,612.0 1729.9,616.3 1731.6,620.0C1733.5,624.1 1737.3,627.0 1740.6,630.0C1744.3,633.4 1748.3,636.4 1752.6,639.0C1755.7,640.9 1759.0,643.0 1762.6,643.6C1765.3,644.0 1768.1,643.0 1770.6,642.0C1774.8,640.4 1778.6,638.0 1782.6,636.0C1784.6,635.0 1786.5,633.7 1788.6,633.0C1789.9,632.6 1791.3,632.7 1792.6,632.6C1794.3,633.4 1795.9,634.2 1797.6,635.0C1800.2,636.2 1802.8,637.7 1805.6,638.4C1808.2,639.0 1811.0,639.5 1813.6,639.0C1816.8,638.4 1819.9,636.9 1822.6,635.0C1826.3,632.5 1829.8,629.5 1832.6,626.0C1835.2,622.7 1837.3,619.0 1838.6,615.0C1839.7,611.5 1840.0,607.7 1839.6,604.0C1839.0,599.2 1837.1,594.6 1835.6,590.0C1834.1,585.3 1832.3,580.7 1830.6,576.0C1828.8,571.0 1826.9,566.0 1825.0,561.0" class="olc"/>
<path d="M1825.0,561.0C1822.2,560.3 1819.5,559.2 1816.6,559.0C1806.0,558.4 1795.3,558.6 1784.6,558.6C1774.6,558.6 1764.6,558.4 1754.6,559.0C1751.5,559.2 1748.6,560.3 1745.6,561.0" class="sh"/>
<path d="M1825.0,561.0C1822.2,560.3 1819.5,559.2 1816.6,559.0C1806.0,558.4 1795.3,558.6 1784.6,558.6C1774.6,558.6 1764.6,558.4 1754.6,559.0C1751.5,559.2 1748.6,560.3 1745.6,561.0" class="il"/>
<path d="M1793.6,615.6C1793.4,621.1 1793.2,626.5 1793.0,632.0" class="il"/></g>
<g id="b16m"><path d="M1688.1,434.8C1688.3,429.6 1688.4,424.3 1687.4,419.1C1686.8,415.9 1685.6,412.7 1683.6,410.2C1681.9,407.9 1679.5,406.3 1676.9,405.2C1674.8,404.4 1672.4,404.2 1670.2,404.6C1667.4,405.1 1664.6,406.2 1662.3,407.9C1660.2,409.6 1658.0,411.9 1657.4,414.6C1656.0,421.2 1656.7,428.1 1656.7,434.8C1656.8,446.0 1657.1,457.2 1657.9,468.4C1658.6,478.2 1659.0,488.0 1661.2,497.5C1662.8,504.6 1664.8,511.8 1669.1,517.7C1670.4,519.5 1674.5,519.6 1675.8,517.7C1679.7,511.8 1681.1,504.5 1682.5,497.5C1684.5,488.0 1685.0,478.1 1685.9,468.4C1686.9,457.2 1687.7,446.0 1688.1,434.8Z" fill="url(#tg)" filter="url(#ts)"/>
<path d="M1688.1,434.8C1688.3,429.6 1688.4,424.3 1687.4,419.1C1686.8,415.9 1685.6,412.7 1683.6,410.2C1681.9,407.9 1679.5,406.3 1676.9,405.2C1674.8,404.4 1672.4,404.2 1670.2,404.6C1667.4,405.1 1664.6,406.2 1662.3,407.9C1660.2,409.6 1658.0,411.9 1657.4,414.6C1656.0,421.2 1656.7,428.1 1656.7,434.8C1656.8,446.0 1657.1,457.2 1657.9,468.4C1658.6,478.2 1659.0,488.0 1661.2,497.5C1662.8,504.6 1664.8,511.8 1669.1,517.7C1670.4,519.5 1674.5,519.6 1675.8,517.7C1679.7,511.8 1681.1,504.5 1682.5,497.5C1684.5,488.0 1685.0,478.1 1685.9,468.4C1686.9,457.2 1687.7,446.0 1688.1,434.8Z" class="olr"/>
<path d="M1724.6,562.5C1724.4,553.5 1724.3,544.6 1723.9,535.6C1723.5,524.4 1723.1,513.2 1722.4,502.0C1721.8,492.3 1721.0,482.6 1720.1,472.9C1719.3,463.9 1718.4,454.9 1717.2,446.0C1716.3,439.6 1715.5,433.2 1713.9,427.0C1713.1,424.0 1711.9,421.0 1709.8,418.7C1708.7,417.4 1706.6,416.5 1704.9,416.9C1702.5,417.4 1700.1,418.9 1698.6,420.9C1696.3,424.0 1694.8,427.7 1693.7,431.4C1691.9,437.7 1691.0,444.1 1689.9,450.5C1688.6,457.9 1687.8,465.4 1686.5,472.9C1685.4,479.6 1684.3,486.4 1682.5,493.0C1681.1,498.1 1679.3,503.0 1676.9,507.6C1675.5,510.4 1673.2,512.5 1671.3,515.0C1669.4,512.2 1666.8,509.7 1665.7,506.5C1663.4,500.0 1662.2,493.1 1661.2,486.3C1660.1,478.9 1659.8,471.4 1659.4,463.9C1659.0,456.5 1658.9,449.0 1659.0,441.5C1659.0,435.5 1660.0,429.6 1659.6,423.6C1659.5,421.6 1658.9,419.3 1657.4,418.0C1655.8,416.6 1653.2,415.9 1651.1,416.4C1648.1,417.1 1645.4,419.1 1643.3,421.4C1639.9,425.0 1637.2,429.3 1635.0,433.7C1632.0,439.8 1629.6,446.2 1627.6,452.7C1625.4,460.1 1623.7,467.6 1622.5,475.1C1621.0,484.0 1620.2,493.0 1619.3,502.0C1618.4,512.4 1617.8,522.9 1617.1,533.4C1616.4,543.1 1615.9,552.8 1615.3,562.5C1614.2,568.5 1612.9,574.4 1611.9,580.4C1610.8,587.9 1609.4,595.3 1609.0,602.8C1608.7,609.5 1608.5,616.4 1609.7,623.0C1610.6,627.7 1612.6,632.4 1615.3,636.4C1618.3,640.8 1622.3,644.4 1626.5,647.6C1629.5,649.9 1632.9,651.9 1636.6,652.5C1639.2,653.0 1641.9,651.8 1644.4,651.0C1649.7,649.4 1654.8,647.1 1660.1,645.4C1663.8,644.1 1667.5,642.9 1671.3,642.0C1673.5,641.5 1675.8,641.6 1678.0,641.3C1680.3,642.3 1682.6,643.1 1684.7,644.3C1687.8,645.8 1690.5,648.2 1693.7,649.4C1696.2,650.3 1699.0,650.9 1701.5,650.3C1705.2,649.5 1708.5,647.5 1711.6,645.4C1715.3,642.8 1719.0,640.0 1721.7,636.4C1724.7,632.4 1727.1,627.8 1728.4,623.0C1730.0,617.2 1730.1,611.0 1730.0,605.1C1729.9,597.6 1728.7,590.1 1727.7,582.7C1726.9,575.9 1725.7,569.2 1724.6,562.5Z" fill="url(#tg)" filter="url(#ts)"/>
<path d="M1615.3,562.5C1614.2,568.5 1612.9,574.4 1611.9,580.4C1610.8,587.9 1609.4,595.3 1609.0,602.8C1608.7,609.5 1608.5,616.4 1609.7,623.0C1610.6,627.7 1612.6,632.4 1615.3,636.4C1618.3,640.8 1622.3,644.4 1626.5,647.6C1629.5,649.9 1632.9,651.9 1636.6,652.5C1639.2,653.0 1641.9,651.8 1644.4,651.0C1649.7,649.4 1654.8,647.1 1660.1,645.4C1663.8,644.1 1667.5,642.9 1671.3,642.0C1673.5,641.5 1675.8,641.6 1678.0,641.3C1680.3,642.3 1682.6,643.1 1684.7,644.3C1687.8,645.8 1690.5,648.2 1693.7,649.4C1696.2,650.3 1699.0,650.9 1701.5,650.3C1705.2,649.5 1708.5,647.5 1711.6,645.4C1715.3,642.8 1719.0,640.0 1721.7,636.4C1724.7,632.4 1727.1,627.8 1728.4,623.0C1730.0,617.2 1730.1,611.0 1730.0,605.1C1729.9,597.6 1728.7,590.1 1727.7,582.7C1726.9,575.9 1725.7,569.2 1724.6,562.5C1721.8,562.1 1719.0,561.4 1716.1,561.4C1701.2,561.1 1686.2,561.4 1671.3,561.4C1656.4,561.4 1641.4,561.1 1626.5,561.4C1622.7,561.4 1619.0,562.1 1615.3,562.5Z" fill="url(#tgc)" filter="url(#tc)"/>
<path d="M1724.6,562.5C1724.4,553.5 1724.3,544.6 1723.9,535.6C1723.5,524.4 1723.1,513.2 1722.4,502.0C1721.8,492.3 1721.0,482.6 1720.1,472.9C1719.3,463.9 1718.4,454.9 1717.2,446.0C1716.3,439.6 1715.5,433.2 1713.9,427.0C1713.1,424.0 1711.9,421.0 1709.8,418.7C1708.7,417.4 1706.6,416.5 1704.9,416.9C1702.5,417.4 1700.1,418.9 1698.6,420.9C1696.3,424.0 1694.8,427.7 1693.7,431.4C1691.9,437.7 1691.0,444.1 1689.9,450.5C1688.6,457.9 1687.8,465.4 1686.5,472.9C1685.4,479.6 1684.3,486.4 1682.5,493.0C1681.1,498.1 1679.3,503.0 1676.9,507.6C1675.5,510.4 1673.2,512.5 1671.3,515.0C1669.4,512.2 1666.8,509.7 1665.7,506.5C1663.4,500.0 1662.2,493.1 1661.2,486.3C1660.1,478.9 1659.8,471.4 1659.4,463.9C1659.0,456.5 1658.9,449.0 1659.0,441.5C1659.0,435.5 1660.0,429.6 1659.6,423.6C1659.5,421.6 1658.9,419.3 1657.4,418.0C1655.8,416.6 1653.2,415.9 1651.1,416.4C1648.1,417.1 1645.4,419.1 1643.3,421.4C1639.9,425.0 1637.2,429.3 1635.0,433.7C1632.0,439.8 1629.6,446.2 1627.6,452.7C1625.4,460.1 1623.7,467.6 1622.5,475.1C1621.0,484.0 1620.2,493.0 1619.3,502.0C1618.4,512.4 1617.8,522.9 1617.1,533.4C1616.4,543.1 1615.9,552.8 1615.3,562.5" class="olr"/>
<path d="M1615.3,562.5C1614.2,568.5 1612.9,574.4 1611.9,580.4C1610.8,587.9 1609.4,595.3 1609.0,602.8C1608.7,609.5 1608.5,616.4 1609.7,623.0C1610.6,627.7 1612.6,632.4 1615.3,636.4C1618.3,640.8 1622.3,644.4 1626.5,647.6C1629.5,649.9 1632.9,651.9 1636.6,652.5C1639.2,653.0 1641.9,651.8 1644.4,651.0C1649.7,649.4 1654.8,647.1 1660.1,645.4C1663.8,644.1 1667.5,642.9 1671.3,642.0C1673.5,641.5 1675.8,641.6 1678.0,641.3C1680.3,642.3 1682.6,643.1 1684.7,644.3C1687.8,645.8 1690.5,648.2 1693.7,649.4C1696.2,650.3 1699.0,650.9 1701.5,650.3C1705.2,649.5 1708.5,647.5 1711.6,645.4C1715.3,642.8 1719.0,640.0 1721.7,636.4C1724.7,632.4 1727.1,627.8 1728.4,623.0C1730.0,617.2 1730.1,611.0 1730.0,605.1C1729.9,597.6 1728.7,590.1 1727.7,582.7C1726.9,575.9 1725.7,569.2 1724.6,562.5" class="olc"/>
<path d="M1724.6,562.5C1721.8,562.1 1719.0,561.4 1716.1,561.4C1701.2,561.1 1686.2,561.4 1671.3,561.4C1656.4,561.4 1641.4,561.1 1626.5,561.4C1622.7,561.4 1619.0,562.1 1615.3,562.5" class="sh"/>
<path d="M1724.6,562.5C1721.8,562.1 1719.0,561.4 1716.1,561.4C1701.2,561.1 1686.2,561.4 1671.3,561.4C1656.4,561.4 1641.4,561.1 1626.5,561.4C1622.7,561.4 1619.0,562.1 1615.3,562.5" class="il"/>
<path d="M1678.0,616.3C1677.9,624.5 1677.7,632.7 1677.6,640.9" class="il"/></g>
<g id="b15m"><path d="M1589.0,560.3C1588.0,552.8 1586.9,545.3 1586.1,537.8C1585.1,528.9 1584.2,519.9 1583.4,511.0C1582.6,502.0 1581.7,493.1 1581.2,484.1C1580.6,475.1 1580.3,466.2 1580.0,457.2C1579.7,448.2 1579.7,439.3 1579.4,430.3C1579.2,424.3 1579.7,418.2 1578.5,412.4C1578.0,410.3 1576.3,408.4 1574.4,407.5C1572.8,406.6 1570.4,406.5 1568.8,407.5C1566.3,409.1 1564.3,411.8 1563.2,414.6C1561.3,419.6 1560.7,425.0 1559.9,430.3C1558.7,437.8 1558.0,445.3 1557.0,452.7C1555.7,461.7 1554.5,470.7 1553.2,479.6C1551.7,489.3 1550.2,499.0 1548.7,508.7C1547.2,517.7 1545.8,526.7 1544.2,535.6C1542.8,543.8 1541.2,552.0 1539.7,560.3C1539.0,562.5 1538.2,564.7 1537.5,567.0C1535.2,573.7 1532.9,580.4 1530.8,587.1C1529.1,592.3 1527.1,597.4 1526.3,602.8C1525.6,607.2 1525.4,611.9 1526.3,616.3C1527.3,621.0 1529.1,625.7 1531.9,629.7C1534.8,634.1 1539.1,637.4 1543.1,640.9C1547.3,644.6 1551.7,648.1 1556.5,651.0C1559.3,652.6 1562.3,654.5 1565.5,654.3C1569.5,654.1 1573.0,651.4 1576.7,649.9C1581.2,648.0 1585.7,646.4 1590.1,644.3C1594.3,642.2 1599.1,640.8 1602.4,637.5C1605.0,634.9 1606.1,631.0 1606.9,627.5C1608.0,623.1 1608.4,618.5 1608.0,614.0C1607.6,608.0 1606.5,601.9 1604.7,596.1C1602.7,589.9 1599.5,584.1 1596.8,578.2C1594.2,572.2 1591.6,566.2 1589.0,560.3Z" fill="url(#tg)" filter="url(#ts)"/>
<path d="M1539.7,560.3C1539.0,562.5 1538.2,564.7 1537.5,567.0C1535.2,573.7 1532.9,580.4 1530.8,587.1C1529.1,592.3 1527.1,597.4 1526.3,602.8C1525.6,607.2 1525.4,611.9 1526.3,616.3C1527.3,621.0 1529.1,625.7 1531.9,629.7C1534.8,634.1 1539.1,637.4 1543.1,640.9C1547.3,644.6 1551.7,648.1 1556.5,651.0C1559.3,652.6 1562.3,654.5 1565.5,654.3C1569.5,654.1 1573.0,651.4 1576.7,649.9C1581.2,648.0 1585.7,646.4 1590.1,644.3C1594.3,642.2 1599.1,640.8 1602.4,637.5C1605.0,634.9 1606.1,631.0 1606.9,627.5C1608.0,623.1 1608.4,618.5 1608.0,614.0C1607.6,608.0 1606.5,601.9 1604.7,596.1C1602.7,589.9 1599.5,584.1 1596.8,578.2C1594.2,572.2 1591.6,566.2 1589.0,560.3C1584.9,560.6 1580.8,561.1 1576.7,561.4C1571.5,561.7 1566.2,562.2 1561.0,562.0C1553.9,561.8 1546.8,560.8 1539.7,560.3Z" fill="url(#tgc)" filter="url(#tc)"/>
<path d="M1589.0,560.3C1588.0,552.8 1586.9,545.3 1586.1,537.8C1585.1,528.9 1584.2,519.9 1583.4,511.0C1582.6,502.0 1581.7,493.1 1581.2,484.1C1580.6,475.1 1580.3,466.2 1580.0,457.2C1579.7,448.2 1579.7,439.3 1579.4,430.3C1579.2,424.3 1579.7,418.2 1578.5,412.4C1578.0,410.3 1576.3,408.4 1574.4,407.5C1572.8,406.6 1570.4,406.5 1568.8,407.5C1566.3,409.1 1564.3,411.8 1563.2,414.6C1561.3,419.6 1560.7,425.0 1559.9,430.3C1558.7,437.8 1558.0,445.3 1557.0,452.7C1555.7,461.7 1554.5,470.7 1553.2,479.6C1551.7,489.3 1550.2,499.0 1548.7,508.7C1547.2,517.7 1545.8,526.7 1544.2,535.6C1542.8,543.8 1541.2,552.0 1539.7,560.3" class="olr"/>
<path d="M1539.7,560.3C1539.0,562.5 1538.2,564.7 1537.5,567.0C1535.2,573.7 1532.9,580.4 1530.8,587.1C1529.1,592.3 1527.1,597.4 1526.3,602.8C1525.6,607.2 1525.4,611.9 1526.3,616.3C1527.3,621.0 1529.1,625.7 1531.9,629.7C1534.8,634.1 1539.1,637.4 1543.1,640.9C1547.3,644.6 1551.7,648.1 1556.5,651.0C1559.3,652.6 1562.3,654.5 1565.5,654.3C1569.5,654.1 1573.0,651.4 1576.7,649.9C1581.2,648.0 1585.7,646.4 1590.1,644.3C1594.3,642.2 1599.1,640.8 1602.4,637.5C1605.0,634.9 1606.1,631.0 1606.9,627.5C1608.0,623.1 1608.4,618.5 1608.0,614.0C1607.6,608.0 1606.5,601.9 1604.7,596.1C1602.7,589.9 1599.5,584.1 1596.8,578.2C1594.2,572.2 1591.6,566.2 1589.0,560.3" class="olc"/>
<path d="M1589.0,560.3C1584.9,560.6 1580.8,561.1 1576.7,561.4C1571.5,561.7 1566.2,562.2 1561.0,562.0C1553.9,561.8 1546.8,560.8 1539.7,560.3" class="sh"/>
<path d="M1589.0,560.3C1584.9,560.6 1580.8,561.1 1576.7,561.4C1571.5,561.7 1566.2,562.2 1561.0,562.0C1553.9,561.8 1546.8,560.8 1539.7,560.3" class="il"/></g>
<g id="b14m"><path d="M1500.4,442.7C1501.2,436.8 1501.3,430.8 1501.0,424.8C1500.8,420.3 1500.6,415.5 1498.8,411.4C1497.5,408.2 1494.9,405.5 1492.1,403.5C1490.2,402.2 1486.2,399.8 1485.4,402.0C1482.7,409.1 1483.6,417.2 1484.2,424.8C1485.1,434.7 1486.4,444.6 1489.8,453.9C1490.8,456.5 1494.7,460.4 1496.6,458.4C1500.2,454.5 1499.7,448.1 1500.4,442.7Z" fill="url(#tg)" filter="url(#ts)"/>
<path d="M1500.4,442.7C1501.2,436.8 1501.3,430.8 1501.0,424.8C1500.8,420.3 1500.6,415.5 1498.8,411.4C1497.5,408.2 1494.9,405.5 1492.1,403.5C1490.2,402.2 1486.2,399.8 1485.4,402.0C1482.7,409.1 1483.6,417.2 1484.2,424.8C1485.1,434.7 1486.4,444.6 1489.8,453.9C1490.8,456.5 1494.7,460.4 1496.6,458.4C1500.2,454.5 1499.7,448.1 1500.4,442.7Z" class="olr"/>
<path d="M1510.0,561.5C1508.9,553.2 1507.6,545.0 1506.6,536.8C1505.6,527.9 1504.7,518.9 1503.9,509.9C1503.2,501.7 1503.1,493.5 1502.2,485.3C1501.4,478.5 1500.2,471.8 1498.8,465.1C1498.0,461.3 1496.3,457.7 1495.4,453.9C1494.0,447.3 1493.0,440.5 1492.1,433.8C1491.1,427.1 1491.1,420.3 1489.8,413.6C1489.2,410.1 1488.6,406.4 1486.5,403.5C1485.0,401.4 1482.3,399.9 1479.8,399.7C1477.4,399.5 1474.4,400.4 1473.0,402.4C1470.9,405.6 1470.5,409.8 1470.3,413.6C1469.8,424.8 1470.7,436.0 1470.8,447.2C1470.9,458.4 1471.2,469.6 1470.8,480.8C1470.4,490.5 1469.5,500.2 1468.6,509.9C1467.7,518.9 1466.6,527.9 1465.2,536.8C1463.9,545.1 1462.2,553.2 1460.7,561.5C1457.4,568.2 1454.0,574.9 1450.6,581.6C1448.0,586.8 1444.7,591.8 1442.8,597.3C1441.5,600.9 1440.7,604.8 1441.2,608.5C1441.8,612.5 1443.7,616.4 1446.2,619.7C1449.9,624.8 1454.8,629.0 1459.6,633.1C1463.8,636.8 1468.3,640.3 1473.0,643.2C1476.2,645.2 1479.4,647.5 1483.1,647.7C1486.7,647.9 1490.2,646.2 1493.2,644.3C1498.9,640.9 1503.9,636.4 1508.9,632.0C1513.2,628.2 1517.9,624.5 1521.2,619.7C1523.4,616.4 1524.8,612.4 1525.0,608.5C1525.2,603.2 1523.7,597.9 1522.3,592.8C1520.6,586.7 1517.9,580.8 1515.6,574.9C1513.8,570.4 1511.9,565.9 1510.0,561.5Z" fill="url(#tg)" filter="url(#ts)"/>
<path d="M1460.7,561.5C1457.4,568.2 1454.0,574.9 1450.6,581.6C1448.0,586.8 1444.7,591.8 1442.8,597.3C1441.5,600.9 1440.7,604.8 1441.2,608.5C1441.8,612.5 1443.7,616.4 1446.2,619.7C1449.9,624.8 1454.8,629.0 1459.6,633.1C1463.8,636.8 1468.3,640.3 1473.0,643.2C1476.2,645.2 1479.4,647.5 1483.1,647.7C1486.7,647.9 1490.2,646.2 1493.2,644.3C1498.9,640.9 1503.9,636.4 1508.9,632.0C1513.2,628.2 1517.9,624.5 1521.2,619.7C1523.4,616.4 1524.8,612.4 1525.0,608.5C1525.2,603.2 1523.7,597.9 1522.3,592.8C1520.6,586.7 1517.9,580.8 1515.6,574.9C1513.8,570.4 1511.9,565.9 1510.0,561.5C1505.9,561.8 1501.8,562.3 1497.7,562.6C1492.5,562.9 1487.2,563.4 1482.0,563.2C1474.9,563.0 1467.8,562.0 1460.7,561.5Z" fill="url(#tgc)" filter="url(#tc)"/>
<path d="M1510.0,561.5C1508.9,553.2 1507.6,545.0 1506.6,536.8C1505.6,527.9 1504.7,518.9 1503.9,509.9C1503.2,501.7 1503.1,493.5 1502.2,485.3C1501.4,478.5 1500.2,471.8 1498.8,465.1C1498.0,461.3 1496.3,457.7 1495.4,453.9C1494.0,447.3 1493.0,440.5 1492.1,433.8C1491.1,427.1 1491.1,420.3 1489.8,413.6C1489.2,410.1 1488.6,406.4 1486.5,403.5C1485.0,401.4 1482.3,399.9 1479.8,399.7C1477.4,399.5 1474.4,400.4 1473.0,402.4C1470.9,405.6 1470.5,409.8 1470.3,413.6C1469.8,424.8 1470.7,436.0 1470.8,447.2C1470.9,458.4 1471.2,469.6 1470.8,480.8C1470.4,490.5 1469.5,500.2 1468.6,509.9C1467.7,518.9 1466.6,527.9 1465.2,536.8C1463.9,545.1 1462.2,553.2 1460.7,561.5" class="olr"/>
<path d="M1460.7,561.5C1457.4,568.2 1454.0,574.9 1450.6,581.6C1448.0,586.8 1444.7,591.8 1442.8,597.3C1441.5,600.9 1440.7,604.8 1441.2,608.5C1441.8,612.5 1443.7,616.4 1446.2,619.7C1449.9,624.8 1454.8,629.0 1459.6,633.1C1463.8,636.8 1468.3,640.3 1473.0,643.2C1476.2,645.2 1479.4,647.5 1483.1,647.7C1486.7,647.9 1490.2,646.2 1493.2,644.3C1498.9,640.9 1503.9,636.4 1508.9,632.0C1513.2,628.2 1517.9,624.5 1521.2,619.7C1523.4,616.4 1524.8,612.4 1525.0,608.5C1525.2,603.2 1523.7,597.9 1522.3,592.8C1520.6,586.7 1517.9,580.8 1515.6,574.9C1513.8,570.4 1511.9,565.9 1510.0,561.5" class="olc"/>
<path d="M1510.0,561.5C1505.9,561.8 1501.8,562.3 1497.7,562.6C1492.5,562.9 1487.2,563.4 1482.0,563.2C1474.9,563.0 1467.8,562.0 1460.7,561.5" class="sh"/>
<path d="M1510.0,561.5C1505.9,561.8 1501.8,562.3 1497.7,562.6C1492.5,562.9 1487.2,563.4 1482.0,563.2C1474.9,563.0 1467.8,562.0 1460.7,561.5" class="il"/></g>
<g id="b13m"><path d="M1431.9,561.2C1431.2,550.5 1430.5,539.8 1429.9,529.2C1429.2,517.2 1428.8,505.3 1428.1,493.3C1427.3,481.4 1426.7,469.4 1425.5,457.5C1424.5,447.2 1423.1,437.0 1421.7,426.8C1420.3,416.5 1418.9,406.3 1417.1,396.1C1415.7,388.3 1414.3,380.5 1411.9,373.0C1410.8,369.5 1409.1,366.1 1406.8,363.3C1405.8,362.1 1404.0,361.2 1402.5,361.5C1400.4,362.0 1398.3,363.5 1397.4,365.4C1395.4,369.3 1394.6,373.8 1394.0,378.2C1392.9,387.5 1392.7,396.9 1392.2,406.3C1391.7,417.4 1391.5,428.5 1391.0,439.6C1390.4,450.7 1389.8,461.8 1388.9,472.9C1388.1,483.1 1387.1,493.4 1385.8,503.6C1384.5,513.8 1383.0,524.1 1381.2,534.3C1379.6,543.3 1377.5,552.2 1375.6,561.2C1373.0,566.7 1370.4,572.2 1367.9,577.8C1365.3,583.7 1362.1,589.5 1360.2,595.7C1358.8,600.7 1357.9,605.9 1358.2,611.1C1358.4,615.1 1359.2,619.3 1361.5,622.6C1365.2,627.7 1370.6,631.5 1375.6,635.4C1380.0,638.8 1384.8,641.6 1389.7,644.3C1392.9,646.2 1396.2,649.0 1399.9,649.0C1403.7,649.0 1407.0,646.4 1410.1,644.3C1416.0,640.5 1421.7,636.4 1426.8,631.5C1430.7,627.8 1434.6,623.6 1437.0,618.7C1439.0,614.9 1439.7,610.3 1439.6,606.0C1439.5,599.9 1437.7,594.0 1436.5,588.0C1435.5,582.9 1434.1,577.8 1433.2,572.7C1432.5,568.9 1432.3,565.0 1431.9,561.2Z" fill="url(#tg)" filter="url(#ts)"/>
<path d="M1375.6,561.2C1373.0,566.7 1370.4,572.2 1367.9,577.8C1365.3,583.7 1362.1,589.5 1360.2,595.7C1358.8,600.7 1357.9,605.9 1358.2,611.1C1358.4,615.1 1359.2,619.3 1361.5,622.6C1365.2,627.7 1370.6,631.5 1375.6,635.4C1380.0,638.8 1384.8,641.6 1389.7,644.3C1392.9,646.2 1396.2,649.0 1399.9,649.0C1403.7,649.0 1407.0,646.4 1410.1,644.3C1416.0,640.5 1421.7,636.4 1426.8,631.5C1430.7,627.8 1434.6,623.6 1437.0,618.7C1439.0,614.9 1439.7,610.3 1439.6,606.0C1439.5,599.9 1437.7,594.0 1436.5,588.0C1435.5,582.9 1434.1,577.8 1433.2,572.7C1432.5,568.9 1432.3,565.0 1431.9,561.2C1427.6,561.6 1423.4,562.2 1419.1,562.4C1412.3,562.8 1405.5,563.2 1398.6,563.0C1390.9,562.7 1383.3,561.8 1375.6,561.2Z" fill="url(#tgc)" filter="url(#tc)"/>
<path d="M1431.9,561.2C1431.2,550.5 1430.5,539.8 1429.9,529.2C1429.2,517.2 1428.8,505.3 1428.1,493.3C1427.3,481.4 1426.7,469.4 1425.5,457.5C1424.5,447.2 1423.1,437.0 1421.7,426.8C1420.3,416.5 1418.9,406.3 1417.1,396.1C1415.7,388.3 1414.3,380.5 1411.9,373.0C1410.8,369.5 1409.1,366.1 1406.8,363.3C1405.8,362.1 1404.0,361.2 1402.5,361.5C1400.4,362.0 1398.3,363.5 1397.4,365.4C1395.4,369.3 1394.6,373.8 1394.0,378.2C1392.9,387.5 1392.7,396.9 1392.2,406.3C1391.7,417.4 1391.5,428.5 1391.0,439.6C1390.4,450.7 1389.8,461.8 1388.9,472.9C1388.1,483.1 1387.1,493.4 1385.8,503.6C1384.5,513.8 1383.0,524.1 1381.2,534.3C1379.6,543.3 1377.5,552.2 1375.6,561.2" class="olr"/>
<path d="M1375.6,561.2C1373.0,566.7 1370.4,572.2 1367.9,577.8C1365.3,583.7 1362.1,589.5 1360.2,595.7C1358.8,600.7 1357.9,605.9 1358.2,611.1C1358.4,615.1 1359.2,619.3 1361.5,622.6C1365.2,627.7 1370.6,631.5 1375.6,635.4C1380.0,638.8 1384.8,641.6 1389.7,644.3C1392.9,646.2 1396.2,649.0 1399.9,649.0C1403.7,649.0 1407.0,646.4 1410.1,644.3C1416.0,640.5 1421.7,636.4 1426.8,631.5C1430.7,627.8 1434.6,623.6 1437.0,618.7C1439.0,614.9 1439.7,610.3 1439.6,606.0C1439.5,599.9 1437.7,594.0 1436.5,588.0C1435.5,582.9 1434.1,577.8 1433.2,572.7C1432.5,568.9 1432.3,565.0 1431.9,561.2" class="olc"/>
<path d="M1431.9,561.2C1427.6,561.6 1423.4,562.2 1419.1,562.4C1412.3,562.8 1405.5,563.2 1398.6,563.0C1390.9,562.7 1383.3,561.8 1375.6,561.2" class="sh"/>
<path d="M1431.9,561.2C1427.6,561.6 1423.4,562.2 1419.1,562.4C1412.3,562.8 1405.5,563.2 1398.6,563.0C1390.9,562.7 1383.3,561.8 1375.6,561.2" class="il"/></g>
<g id="b12m"><path d="M1341.8,560.0C1340.8,552.0 1339.9,544.0 1338.9,536.0C1337.8,527.2 1336.5,518.4 1335.3,509.6C1334.1,500.8 1333.0,492.0 1331.7,483.2C1330.6,475.2 1329.2,467.2 1328.1,459.2C1327.2,452.0 1326.0,444.8 1325.7,437.6C1325.5,432.0 1325.9,426.4 1326.4,420.8C1326.7,417.2 1328.3,413.6 1328.1,410.0C1328.0,408.0 1327.3,405.6 1325.7,404.5C1324.1,403.3 1321.6,403.3 1319.7,404.0C1316.5,405.2 1313.5,407.3 1311.3,410.0C1308.1,413.9 1305.8,418.5 1304.1,423.2C1301.8,429.4 1300.4,435.9 1299.3,442.4C1298.0,450.3 1297.6,458.4 1296.9,466.4C1296.2,475.2 1295.7,484.0 1295.2,492.8C1294.7,501.6 1294.2,510.4 1293.8,519.2C1293.4,527.2 1293.2,535.2 1292.8,543.2C1292.6,548.8 1292.3,554.4 1292.1,560.0C1291.3,568.0 1290.5,576.0 1289.7,584.0C1288.9,592.0 1288.1,600.0 1287.3,608.0C1286.5,615.2 1285.1,622.3 1284.9,629.6C1284.7,634.4 1284.2,639.6 1286.1,644.0C1287.6,647.3 1291.1,649.7 1294.5,651.2C1297.8,652.6 1301.7,652.7 1305.3,652.4C1311.0,651.9 1316.6,650.4 1322.1,648.8C1328.7,646.8 1335.1,644.4 1341.3,641.6C1345.9,639.5 1351.1,638.1 1354.5,634.4C1356.7,632.0 1357.0,628.1 1356.9,624.8C1356.6,618.3 1354.8,611.9 1353.3,605.6C1351.6,598.3 1349.1,591.2 1347.3,584.0C1345.3,576.0 1343.6,568.0 1341.8,560.0Z" fill="url(#tg)" filter="url(#ts)"/>
<path d="M1292.1,560.0C1291.3,568.0 1290.5,576.0 1289.7,584.0C1288.9,592.0 1288.1,600.0 1287.3,608.0C1286.5,615.2 1285.1,622.3 1284.9,629.6C1284.7,634.4 1284.2,639.6 1286.1,644.0C1287.6,647.3 1291.1,649.7 1294.5,651.2C1297.8,652.6 1301.7,652.7 1305.3,652.4C1311.0,651.9 1316.6,650.4 1322.1,648.8C1328.7,646.8 1335.1,644.4 1341.3,641.6C1345.9,639.5 1351.1,638.1 1354.5,634.4C1356.7,632.0 1357.0,628.1 1356.9,624.8C1356.6,618.3 1354.8,611.9 1353.3,605.6C1351.6,598.3 1349.1,591.2 1347.3,584.0C1345.3,576.0 1343.6,568.0 1341.8,560.0C1337.6,561.2 1333.6,563.0 1329.3,563.6C1323.0,564.5 1316.5,564.9 1310.1,564.3C1304.0,563.7 1298.1,561.4 1292.1,560.0Z" fill="url(#tgc)" filter="url(#tc)"/>
<path d="M1341.8,560.0C1340.8,552.0 1339.9,544.0 1338.9,536.0C1337.8,527.2 1336.5,518.4 1335.3,509.6C1334.1,500.8 1333.0,492.0 1331.7,483.2C1330.6,475.2 1329.2,467.2 1328.1,459.2C1327.2,452.0 1326.0,444.8 1325.7,437.6C1325.5,432.0 1325.9,426.4 1326.4,420.8C1326.7,417.2 1328.3,413.6 1328.1,410.0C1328.0,408.0 1327.3,405.6 1325.7,404.5C1324.1,403.3 1321.6,403.3 1319.7,404.0C1316.5,405.2 1313.5,407.3 1311.3,410.0C1308.1,413.9 1305.8,418.5 1304.1,423.2C1301.8,429.4 1300.4,435.9 1299.3,442.4C1298.0,450.3 1297.6,458.4 1296.9,466.4C1296.2,475.2 1295.7,484.0 1295.2,492.8C1294.7,501.6 1294.2,510.4 1293.8,519.2C1293.4,527.2 1293.2,535.2 1292.8,543.2C1292.6,548.8 1292.3,554.4 1292.1,560.0" class="olr"/>
<path d="M1292.1,560.0C1291.3,568.0 1290.5,576.0 1289.7,584.0C1288.9,592.0 1288.1,600.0 1287.3,608.0C1286.5,615.2 1285.1,622.3 1284.9,629.6C1284.7,634.4 1284.2,639.6 1286.1,644.0C1287.6,647.3 1291.1,649.7 1294.5,651.2C1297.8,652.6 1301.7,652.7 1305.3,652.4C1311.0,651.9 1316.6,650.4 1322.1,648.8C1328.7,646.8 1335.1,644.4 1341.3,641.6C1345.9,639.5 1351.1,638.1 1354.5,634.4C1356.7,632.0 1357.0,628.1 1356.9,624.8C1356.6,618.3 1354.8,611.9 1353.3,605.6C1351.6,598.3 1349.1,591.2 1347.3,584.0C1345.3,576.0 1343.6,568.0 1341.8,560.0" class="olc"/>
<path d="M1341.8,560.0C1337.6,561.2 1333.6,563.0 1329.3,563.6C1323.0,564.5 1316.5,564.9 1310.1,564.3C1304.0,563.7 1298.1,561.4 1292.1,560.0" class="sh"/>
<path d="M1341.8,560.0C1337.6,561.2 1333.6,563.0 1329.3,563.6C1323.0,564.5 1316.5,564.9 1310.1,564.3C1304.0,563.7 1298.1,561.4 1292.1,560.0" class="il"/></g>
<g id="b11m"><path d="M1259.7,558.8C1258.1,551.2 1256.4,543.6 1254.9,536.0C1253.2,527.2 1251.8,518.4 1250.1,509.6C1248.7,502.4 1247.0,495.2 1245.8,488.0C1244.6,480.8 1243.6,473.6 1242.9,466.4C1242.2,459.2 1241.9,452.0 1241.7,444.8C1241.5,437.6 1242.0,430.4 1241.7,423.2C1241.6,418.8 1241.9,414.2 1240.5,410.0C1239.8,407.7 1238.0,405.4 1235.7,404.5C1233.5,403.6 1230.5,403.9 1228.5,405.2C1225.4,407.2 1223.3,410.5 1221.3,413.6C1218.0,418.9 1215.4,424.7 1212.9,430.4C1210.2,436.7 1207.8,443.1 1205.7,449.6C1203.7,455.9 1202.1,462.3 1200.9,468.8C1199.7,475.9 1199.0,483.2 1198.5,490.4C1198.0,498.4 1198.0,506.4 1197.8,514.4C1197.6,522.4 1197.5,530.4 1197.3,538.4C1197.2,545.2 1197.0,552.0 1196.8,558.8C1195.4,565.6 1194.2,572.4 1192.5,579.2C1190.7,586.4 1188.3,593.5 1186.5,600.8C1184.7,607.9 1183.3,615.2 1181.7,622.4C1180.5,628.0 1178.6,633.5 1178.1,639.2C1177.7,644.0 1177.4,649.1 1179.3,653.6C1180.9,657.2 1184.1,660.3 1187.7,662.0C1192.9,664.4 1198.8,665.2 1204.5,665.6C1212.5,666.0 1220.6,665.4 1228.5,664.4C1236.6,663.4 1244.6,661.8 1252.5,659.6C1259.1,657.7 1265.9,655.9 1271.7,652.4C1275.3,650.2 1278.6,646.8 1280.1,642.8C1282.0,637.9 1281.8,632.4 1281.3,627.2C1280.6,619.8 1278.6,612.7 1276.5,605.6C1274.2,597.4 1271.0,589.6 1268.1,581.6C1265.4,574.0 1262.5,566.4 1259.7,558.8Z" fill="url(#tg)" filter="url(#ts)"/>
<path d="M1196.8,558.8C1195.4,565.6 1194.2,572.4 1192.5,579.2C1190.7,586.4 1188.3,593.5 1186.5,600.8C1184.7,607.9 1183.3,615.2 1181.7,622.4C1180.5,628.0 1178.6,633.5 1178.1,639.2C1177.7,644.0 1177.4,649.1 1179.3,653.6C1180.9,657.2 1184.1,660.3 1187.7,662.0C1192.9,664.4 1198.8,665.2 1204.5,665.6C1212.5,666.0 1220.6,665.4 1228.5,664.4C1236.6,663.4 1244.6,661.8 1252.5,659.6C1259.1,657.7 1265.9,655.9 1271.7,652.4C1275.3,650.2 1278.6,646.8 1280.1,642.8C1282.0,637.9 1281.8,632.4 1281.3,627.2C1280.6,619.8 1278.6,612.7 1276.5,605.6C1274.2,597.4 1271.0,589.6 1268.1,581.6C1265.4,574.0 1262.5,566.4 1259.7,558.8C1254.1,559.3 1248.5,560.1 1242.9,560.5C1235.7,560.9 1228.5,561.4 1221.3,561.2C1213.1,560.9 1205.0,559.6 1196.8,558.8Z" fill="url(#tgc)" filter="url(#tc)"/>
<path d="M1259.7,558.8C1258.1,551.2 1256.4,543.6 1254.9,536.0C1253.2,527.2 1251.8,518.4 1250.1,509.6C1248.7,502.4 1247.0,495.2 1245.8,488.0C1244.6,480.8 1243.6,473.6 1242.9,466.4C1242.2,459.2 1241.9,452.0 1241.7,444.8C1241.5,437.6 1242.0,430.4 1241.7,423.2C1241.6,418.8 1241.9,414.2 1240.5,410.0C1239.8,407.7 1238.0,405.4 1235.7,404.5C1233.5,403.6 1230.5,403.9 1228.5,405.2C1225.4,407.2 1223.3,410.5 1221.3,413.6C1218.0,418.9 1215.4,424.7 1212.9,430.4C1210.2,436.7 1207.8,443.1 1205.7,449.6C1203.7,455.9 1202.1,462.3 1200.9,468.8C1199.7,475.9 1199.0,483.2 1198.5,490.4C1198.0,498.4 1198.0,506.4 1197.8,514.4C1197.6,522.4 1197.5,530.4 1197.3,538.4C1197.2,545.2 1197.0,552.0 1196.8,558.8" class="olr"/>
<path d="M1196.8,558.8C1195.4,565.6 1194.2,572.4 1192.5,579.2C1190.7,586.4 1188.3,593.5 1186.5,600.8C1184.7,607.9 1183.3,615.2 1181.7,622.4C1180.5,628.0 1178.6,633.5 1178.1,639.2C1177.7,644.0 1177.4,649.1 1179.3,653.6C1180.9,657.2 1184.1,660.3 1187.7,662.0C1192.9,664.4 1198.8,665.2 1204.5,665.6C1212.5,666.0 1220.6,665.4 1228.5,664.4C1236.6,663.4 1244.6,661.8 1252.5,659.6C1259.1,657.7 1265.9,655.9 1271.7,652.4C1275.3,650.2 1278.6,646.8 1280.1,642.8C1282.0,637.9 1281.8,632.4 1281.3,627.2C1280.6,619.8 1278.6,612.7 1276.5,605.6C1274.2,597.4 1271.0,589.6 1268.1,581.6C1265.4,574.0 1262.5,566.4 1259.7,558.8" class="olc"/>
<path d="M1259.7,558.8C1254.1,559.3 1248.5,560.1 1242.9,560.5C1235.7,560.9 1228.5,561.4 1221.3,561.2C1213.1,560.9 1205.0,559.6 1196.8,558.8" class="sh"/>
<path d="M1259.7,558.8C1254.1,559.3 1248.5,560.1 1242.9,560.5C1235.7,560.9 1228.5,561.4 1221.3,561.2C1213.1,560.9 1205.0,559.6 1196.8,558.8" class="il"/></g></g>
<g id="teethP" filter="url(#soft)"><g id="p18"><path d="M463.6,777.5C462.9,783.8 461.9,790.2 461.4,796.5C460.8,802.5 460.7,808.5 460.2,814.5C459.8,820.4 459.5,826.4 458.7,832.4C457.7,839.2 456.4,845.9 454.6,852.5C452.8,859.4 450.6,866.2 447.9,872.7C445.4,878.9 442.4,884.9 438.9,890.6C435.6,896.2 431.7,901.3 427.7,906.3C424.6,910.3 421.2,914.0 417.7,917.5C415.6,919.6 413.6,922.0 410.9,923.1C408.9,924.0 406.3,924.1 404.2,923.1C401.8,922.0 400.0,919.8 398.6,917.5C396.4,914.1 394.8,910.2 393.7,906.3C392.0,900.5 390.9,894.4 390.1,888.4C389.1,881.0 388.9,873.5 388.5,866.0C388.0,856.3 387.8,846.6 387.4,836.9C387.1,829.4 386.7,821.9 386.3,814.5C385.8,807.0 385.4,799.5 384.7,792.0C384.3,787.2 383.5,782.3 382.9,777.5C409.8,777.5 436.7,777.5 463.6,777.5Z" fill="url(#tg)" filter="url(#ts)"/>
<path d="M463.6,777.5C462.9,783.8 461.9,790.2 461.4,796.5C460.8,802.5 460.7,808.5 460.2,814.5C459.8,820.4 459.5,826.4 458.7,832.4C457.7,839.2 456.4,845.9 454.6,852.5C452.8,859.4 450.6,866.2 447.9,872.7C445.4,878.9 442.4,884.9 438.9,890.6C435.6,896.2 431.7,901.3 427.7,906.3C424.6,910.3 421.2,914.0 417.7,917.5C415.6,919.6 413.6,922.0 410.9,923.1C408.9,924.0 406.3,924.1 404.2,923.1C401.8,922.0 400.0,919.8 398.6,917.5C396.4,914.1 394.8,910.2 393.7,906.3C392.0,900.5 390.9,894.4 390.1,888.4C389.1,881.0 388.9,873.5 388.5,866.0C388.0,856.3 387.8,846.6 387.4,836.9C387.1,829.4 386.7,821.9 386.3,814.5C385.8,807.0 385.4,799.5 384.7,792.0C384.3,787.2 383.5,782.3 382.9,777.5C409.8,777.5 436.7,777.5 463.6,777.5Z" class="olr"/>
<path d="M382.9,777.5C381.6,772.6 379.9,767.9 378.9,762.9C378.0,758.5 377.0,754.0 377.3,749.5C377.6,744.9 378.3,740.0 380.7,736.0C383.3,731.8 387.8,728.8 391.9,725.9C397.5,722.0 403.9,719.2 409.8,715.9C415.1,712.9 420.1,709.5 425.5,706.9C427.6,705.9 429.9,705.0 432.2,705.1C434.6,705.2 436.9,706.2 438.9,707.3C444.4,710.2 449.4,713.8 454.6,717.0C459.1,719.6 464.2,721.4 468.1,724.8C471.1,727.5 473.6,731.1 474.8,734.9C476.1,738.8 475.9,743.2 475.3,747.2C474.4,752.6 472.3,757.8 470.3,762.9C468.4,767.9 465.8,772.6 463.6,777.5C456.9,778.2 450.2,779.2 443.4,779.7C436.7,780.2 430.0,780.6 423.3,780.4C415.0,780.2 406.8,779.2 398.6,778.6C393.4,778.2 388.2,777.9 382.9,777.5Z" fill="url(#tgc)" filter="url(#tc)"/>
<path d="M382.9,777.5C381.6,772.6 379.9,767.9 378.9,762.9C378.0,758.5 377.0,754.0 377.3,749.5C377.6,744.9 378.3,740.0 380.7,736.0C383.3,731.8 387.8,728.8 391.9,725.9C397.5,722.0 403.9,719.2 409.8,715.9C415.1,712.9 420.1,709.5 425.5,706.9C427.6,705.9 429.9,705.0 432.2,705.1C434.6,705.2 436.9,706.2 438.9,707.3C444.4,710.2 449.4,713.8 454.6,717.0C459.1,719.6 464.2,721.4 468.1,724.8C471.1,727.5 473.6,731.1 474.8,734.9C476.1,738.8 475.9,743.2 475.3,747.2C474.4,752.6 472.3,757.8 470.3,762.9C468.4,767.9 465.8,772.6 463.6,777.5C456.9,778.2 450.2,779.2 443.4,779.7C436.7,780.2 430.0,780.6 423.3,780.4C415.0,780.2 406.8,779.2 398.6,778.6C393.4,778.2 388.2,777.9 382.9,777.5Z" class="olc"/>
<path d="M396.4,850.3C409.8,842.8 429.8,843.7 442.3,852.5C449.4,857.5 437.6,869.2 434.5,877.2C431.2,885.6 427.3,893.8 423.3,901.8C420.2,908.0 418.0,914.9 413.2,919.8C411.1,921.9 406.2,923.2 404.2,920.9C400.4,916.5 400.5,909.8 399.7,904.1C398.5,895.2 398.7,886.2 398.2,877.2C397.6,868.2 388.5,854.7 396.4,850.3Z" fill="#f0f0f0" filter="url(#gb)"/>
<path d="M395.3,816.7C395.6,827.2 395.8,837.6 396.4,848.1C397.0,859.3 397.6,870.5 398.6,881.7C399.5,892.2 400.9,902.6 402.0,913.1" class="sh"/>
<path d="M395.3,816.7C395.6,827.2 395.8,837.6 396.4,848.1C397.0,859.3 397.6,870.5 398.6,881.7C399.5,892.2 400.9,902.6 402.0,913.1" class="il"/>
<path d="M449.0,827.9C447.2,835.4 445.6,842.9 443.4,850.3C440.8,859.4 437.9,868.4 434.5,877.2C431.2,885.6 427.1,893.7 423.3,901.8C421.1,906.4 418.8,910.8 416.5,915.3" class="sh"/>
<path d="M449.0,827.9C447.2,835.4 445.6,842.9 443.4,850.3C440.8,859.4 437.9,868.4 434.5,877.2C431.2,885.6 427.1,893.7 423.3,901.8C421.1,906.4 418.8,910.8 416.5,915.3" class="il"/></g>
<g id="p17"><path d="M567.8,779.7C567.1,785.3 566.3,790.9 565.6,796.5C564.8,802.5 564.1,808.5 563.3,814.5C562.3,821.9 561.3,829.4 560.0,836.9C558.6,844.4 557.5,851.9 555.5,859.3C553.4,866.9 550.7,874.4 547.6,881.7C544.7,888.6 541.2,895.3 537.5,901.8C534.1,908.0 530.3,913.9 526.3,919.8C524.0,923.3 521.5,926.8 518.5,929.9C517.0,931.4 515.1,933.0 512.9,933.2C510.9,933.4 508.8,932.3 507.3,931.0C504.5,928.5 502.1,925.4 500.6,922.0C498.0,916.3 496.2,910.2 495.0,904.1C493.5,896.7 493.3,889.2 492.7,881.7C492.2,874.2 492.0,866.7 491.6,859.3C491.2,851.8 490.9,844.3 490.5,836.9C490.1,829.4 489.7,821.9 489.4,814.5C489.0,807.0 488.7,799.5 488.2,792.0C488.0,787.6 487.5,783.1 487.1,778.6C514.0,779.0 540.9,779.3 567.8,779.7Z" fill="url(#tg)" filter="url(#ts)"/>
<path d="M567.8,779.7C567.1,785.3 566.3,790.9 565.6,796.5C564.8,802.5 564.1,808.5 563.3,814.5C562.3,821.9 561.3,829.4 560.0,836.9C558.6,844.4 557.5,851.9 555.5,859.3C553.4,866.9 550.7,874.4 547.6,881.7C544.7,888.6 541.2,895.3 537.5,901.8C534.1,908.0 530.3,913.9 526.3,919.8C524.0,923.3 521.5,926.8 518.5,929.9C517.0,931.4 515.1,933.0 512.9,933.2C510.9,933.4 508.8,932.3 507.3,931.0C504.5,928.5 502.1,925.4 500.6,922.0C498.0,916.3 496.2,910.2 495.0,904.1C493.5,896.7 493.3,889.2 492.7,881.7C492.2,874.2 492.0,866.7 491.6,859.3C491.2,851.8 490.9,844.3 490.5,836.9C490.1,829.4 489.7,821.9 489.4,814.5C489.0,807.0 488.7,799.5 488.2,792.0C488.0,787.6 487.5,783.1 487.1,778.6C514.0,779.0 540.9,779.3 567.8,779.7Z" class="olr"/>
<path d="M487.1,778.6C485.3,772.6 483.0,766.7 481.5,760.7C480.1,754.8 478.6,748.8 478.2,742.7C477.8,737.9 477.2,732.6 479.3,728.2C481.6,723.4 486.5,720.4 490.5,717.0C494.0,713.9 497.6,710.9 501.7,708.7C503.7,707.6 506.1,707.1 508.4,707.3C511.5,707.7 514.5,709.0 517.4,710.3C521.2,711.9 524.8,714.2 528.6,715.9C531.1,717.0 533.8,717.6 536.4,718.5C539.0,716.9 541.6,715.2 544.3,713.6C548.0,711.4 551.4,708.7 555.5,707.3C558.3,706.4 561.5,706.4 564.4,706.9C567.6,707.4 570.9,708.3 573.4,710.3C576.7,712.9 579.3,716.6 581.2,720.3C583.4,724.5 585.0,729.1 585.7,733.8C586.5,738.2 586.6,742.8 585.7,747.2C584.7,752.0 582.3,756.3 580.1,760.7C577.8,765.3 575.1,769.8 572.3,774.1C571.0,776.1 569.3,777.9 567.8,779.7C562.2,780.2 556.6,781.0 551.0,781.3C543.5,781.7 536.1,782.0 528.6,782.0C520.4,781.9 512.1,781.5 503.9,780.8C498.3,780.4 492.7,779.3 487.1,778.6Z" fill="url(#tgc)" filter="url(#tc)"/>
<path d="M487.1,778.6C485.3,772.6 483.0,766.7 481.5,760.7C480.1,754.8 478.6,748.8 478.2,742.7C477.8,737.9 477.2,732.6 479.3,728.2C481.6,723.4 486.5,720.4 490.5,717.0C494.0,713.9 497.6,710.9 501.7,708.7C503.7,707.6 506.1,707.1 508.4,707.3C511.5,707.7 514.5,709.0 517.4,710.3C521.2,711.9 524.8,714.2 528.6,715.9C531.1,717.0 533.8,717.6 536.4,718.5C539.0,716.9 541.6,715.2 544.3,713.6C548.0,711.4 551.4,708.7 555.5,707.3C558.3,706.4 561.5,706.4 564.4,706.9C567.6,707.4 570.9,708.3 573.4,710.3C576.7,712.9 579.3,716.6 581.2,720.3C583.4,724.5 585.0,729.1 585.7,733.8C586.5,738.2 586.6,742.8 585.7,747.2C584.7,752.0 582.3,756.3 580.1,760.7C577.8,765.3 575.1,769.8 572.3,774.1C571.0,776.1 569.3,777.9 567.8,779.7C562.2,780.2 556.6,781.0 551.0,781.3C543.5,781.7 536.1,782.0 528.6,782.0C520.4,781.9 512.1,781.5 503.9,780.8C498.3,780.4 492.7,779.3 487.1,778.6Z" class="olc"/>
<path d="M498.3,866.0C511.0,859.6 528.4,861.4 540.9,868.2C546.4,871.2 537.5,880.3 535.3,886.2C532.7,893.0 529.5,899.7 526.3,906.3C522.8,913.9 520.2,922.1 515.1,928.7C514.0,930.2 510.7,930.2 509.5,928.7C506.7,925.0 506.1,919.9 505.1,915.3C503.1,906.4 501.8,897.4 500.6,888.4C499.6,881.0 491.6,869.4 498.3,866.0Z" fill="#f0f0f0" filter="url(#gb)"/>
<path d="M496.8,840.2C497.3,848.1 497.7,855.9 498.3,863.8C499.0,872.0 499.5,880.2 500.6,888.4C501.7,897.4 503.3,906.4 505.1,915.3C505.9,919.8 507.3,924.3 508.4,928.7" class="sh"/>
<path d="M496.8,840.2C497.3,848.1 497.7,855.9 498.3,863.8C499.0,872.0 499.5,880.2 500.6,888.4C501.7,897.4 503.3,906.4 505.1,915.3C505.9,919.8 507.3,924.3 508.4,928.7" class="il"/>
<path d="M546.1,845.8C544.7,852.5 543.8,859.4 542.0,866.0C540.2,872.8 537.9,879.6 535.3,886.2C532.6,893.0 529.5,899.7 526.3,906.3C523.5,912.4 520.4,918.3 517.4,924.3" class="sh"/>
<path d="M546.1,845.8C544.7,852.5 543.8,859.4 542.0,866.0C540.2,872.8 537.9,879.6 535.3,886.2C532.6,893.0 529.5,899.7 526.3,906.3C523.5,912.4 520.4,918.3 517.4,924.3" class="il"/>
<path d="M536.4,718.5C536.8,721.4 537.4,724.2 537.5,727.1C537.7,730.0 537.3,733.0 537.1,736.0" class="sh"/>
<path d="M536.4,718.5C536.8,721.4 537.4,724.2 537.5,727.1C537.7,730.0 537.3,733.0 537.1,736.0" class="il"/></g>
<g id="p16"><path d="M695.4,778.6C694.3,784.5 692.8,790.5 692.0,796.5C691.3,802.4 691.2,808.4 690.9,814.4C690.5,821.9 690.2,829.4 689.8,836.8C689.4,844.3 689.2,851.8 688.7,859.2C688.3,865.2 687.7,871.2 687.1,877.2C686.6,882.4 686.3,887.7 685.3,892.8C684.2,898.2 682.6,903.4 680.8,908.5C678.9,913.9 676.7,919.2 674.1,924.2C672.6,927.0 671.0,930.0 668.5,932.0C667.0,933.2 664.7,933.7 662.9,933.2C660.6,932.5 658.9,930.5 657.3,928.7C655.8,927.1 655.1,924.9 653.9,923.1C652.8,925.3 652.0,927.8 650.6,929.8C649.0,931.9 647.3,934.2 645.0,935.4C643.0,936.4 640.4,936.6 638.2,935.8C635.6,935.0 633.4,933.0 631.5,930.9C629.2,928.3 627.8,924.9 625.9,922.0C624.8,923.5 623.8,925.0 622.6,926.4C621.2,928.0 620.1,930.2 618.1,930.9C616.6,931.5 614.8,930.8 613.6,929.8C611.6,928.0 610.0,925.6 609.1,923.1C607.5,918.4 607.0,913.4 606.4,908.5C605.5,899.6 605.3,890.6 604.6,881.6C603.9,871.2 603.2,860.7 602.4,850.3C601.8,842.1 601.2,833.8 600.6,825.6C600.1,817.4 599.4,809.2 599.0,801.0C598.7,793.5 598.6,786.0 598.4,778.6C630.7,778.6 663.0,778.6 695.4,778.6Z" fill="url(#tg)" filter="url(#ts)"/>
<path d="M695.4,778.6C694.3,784.5 692.8,790.5 692.0,796.5C691.3,802.4 691.2,808.4 690.9,814.4C690.5,821.9 690.2,829.4 689.8,836.8C689.4,844.3 689.2,851.8 688.7,859.2C688.3,865.2 687.7,871.2 687.1,877.2C686.6,882.4 686.3,887.7 685.3,892.8C684.2,898.2 682.6,903.4 680.8,908.5C678.9,913.9 676.7,919.2 674.1,924.2C672.6,927.0 671.0,930.0 668.5,932.0C667.0,933.2 664.7,933.7 662.9,933.2C660.6,932.5 658.9,930.5 657.3,928.7C655.8,927.1 655.1,924.9 653.9,923.1C652.8,925.3 652.0,927.8 650.6,929.8C649.0,931.9 647.3,934.2 645.0,935.4C643.0,936.4 640.4,936.6 638.2,935.8C635.6,935.0 633.4,933.0 631.5,930.9C629.2,928.3 627.8,924.9 625.9,922.0C624.8,923.5 623.8,925.0 622.6,926.4C621.2,928.0 620.1,930.2 618.1,930.9C616.6,931.5 614.8,930.8 613.6,929.8C611.6,928.0 610.0,925.6 609.1,923.1C607.5,918.4 607.0,913.4 606.4,908.5C605.5,899.6 605.3,890.6 604.6,881.6C603.9,871.2 603.2,860.7 602.4,850.3C601.8,842.1 601.2,833.8 600.6,825.6C600.1,817.4 599.4,809.2 599.0,801.0C598.7,793.5 598.6,786.0 598.4,778.6C630.7,778.6 663.0,778.6 695.4,778.6Z" class="olr"/>
<path d="M598.4,778.6C596.7,774.1 594.7,769.7 593.4,765.1C592.0,760.0 590.8,754.8 590.1,749.5C589.4,744.3 589.0,739.0 589.4,733.8C589.8,729.2 590.3,724.5 592.3,720.3C594.0,716.7 596.9,713.6 600.2,711.4C603.4,709.1 607.4,707.8 611.4,707.3C614.7,706.9 618.3,707.4 621.4,708.7C624.8,710.0 627.4,712.7 630.4,714.7C633.8,712.5 637.0,710.0 640.5,708.0C644.1,705.9 647.7,703.5 651.7,702.4C655.3,701.4 659.2,701.5 662.9,702.0C667.5,702.6 672.0,704.0 676.3,705.8C681.8,707.9 687.0,710.6 692.0,713.6C696.4,716.2 700.6,719.1 704.3,722.6C706.7,724.8 709.0,727.3 709.9,730.4C711.1,734.3 711.0,738.7 710.4,742.7C709.5,748.1 707.5,753.3 705.5,758.4C703.3,763.8 700.2,768.9 697.6,774.1C696.9,775.6 696.1,777.1 695.4,778.6C688.3,779.2 681.2,779.9 674.1,780.4C663.6,781.0 653.2,782.1 642.7,781.9C633.0,781.8 623.3,780.4 613.6,779.7C608.5,779.3 603.4,778.9 598.4,778.6Z" fill="url(#tgc)" filter="url(#tc)"/>
<path d="M598.4,778.6C596.7,774.1 594.7,769.7 593.4,765.1C592.0,760.0 590.8,754.8 590.1,749.5C589.4,744.3 589.0,739.0 589.4,733.8C589.8,729.2 590.3,724.5 592.3,720.3C594.0,716.7 596.9,713.6 600.2,711.4C603.4,709.1 607.4,707.8 611.4,707.3C614.7,706.9 618.3,707.4 621.4,708.7C624.8,710.0 627.4,712.7 630.4,714.7C633.8,712.5 637.0,710.0 640.5,708.0C644.1,705.9 647.7,703.5 651.7,702.4C655.3,701.4 659.2,701.5 662.9,702.0C667.5,702.6 672.0,704.0 676.3,705.8C681.8,707.9 687.0,710.6 692.0,713.6C696.4,716.2 700.6,719.1 704.3,722.6C706.7,724.8 709.0,727.3 709.9,730.4C711.1,734.3 711.0,738.7 710.4,742.7C709.5,748.1 707.5,753.3 705.5,758.4C703.3,763.8 700.2,768.9 697.6,774.1C696.9,775.6 696.1,777.1 695.4,778.6C688.3,779.2 681.2,779.9 674.1,780.4C663.6,781.0 653.2,782.1 642.7,781.9C633.0,781.8 623.3,780.4 613.6,779.7C608.5,779.3 603.4,778.9 598.4,778.6Z" class="olc"/>
<path d="M611.4,852.5C627.3,836.9 653.5,827.1 675.2,832.3C686.4,835.0 670.0,854.7 667.4,865.9C665.5,874.2 663.7,882.4 661.8,890.6C659.2,901.4 657.9,912.7 653.9,923.1C652.2,927.5 648.8,931.4 645.0,934.3C643.2,935.6 640.4,935.4 638.2,934.7C635.6,933.8 633.5,931.8 631.5,929.8C629.3,927.5 626.9,925.0 625.9,922.0C622.4,911.0 620.4,899.6 618.1,888.4C615.6,876.5 602.7,861.0 611.4,852.5Z" fill="#f0f0f0" filter="url(#gb)"/>
<path d="M610.2,848.0C611.4,854.0 612.4,860.0 613.6,865.9C615.1,873.4 616.5,880.9 618.1,888.4C619.5,895.1 621.0,901.8 622.6,908.5C623.6,913.0 624.8,917.5 625.9,922.0" class="sh"/>
<path d="M610.2,848.0C611.4,854.0 612.4,860.0 613.6,865.9C615.1,873.4 616.5,880.9 618.1,888.4C619.5,895.1 621.0,901.8 622.6,908.5C623.6,913.0 624.8,917.5 625.9,922.0" class="il"/>
<path d="M677.5,821.1C676.0,827.9 674.5,834.6 673.0,841.3C671.1,849.5 669.2,857.7 667.4,865.9C665.5,874.2 663.6,882.4 661.8,890.6C660.3,897.3 658.9,904.1 657.3,910.8C656.3,914.9 655.1,919.0 653.9,923.1" class="sh"/>
<path d="M677.5,821.1C676.0,827.9 674.5,834.6 673.0,841.3C671.1,849.5 669.2,857.7 667.4,865.9C665.5,874.2 663.6,882.4 661.8,890.6C660.3,897.3 658.9,904.1 657.3,910.8C656.3,914.9 655.1,919.0 653.9,923.1" class="il"/>
<path d="M630.4,714.7C630.9,718.1 631.9,721.4 632.0,724.8C632.1,728.6 632.0,732.4 631.1,736.0C630.5,738.3 628.7,740.2 627.5,742.3" class="sh"/>
<path d="M630.4,714.7C630.9,718.1 631.9,721.4 632.0,724.8C632.1,728.6 632.0,732.4 631.1,736.0C630.5,738.3 628.7,740.2 627.5,742.3" class="il"/>
<path d="M665.1,733.8C666.6,732.4 667.8,730.6 669.6,729.7C671.7,728.7 674.0,728.1 676.3,728.2C679.1,728.3 681.8,729.1 684.2,730.4C686.0,731.4 687.2,733.4 688.7,734.9" class="sh"/>
<path d="M665.1,733.8C666.6,732.4 667.8,730.6 669.6,729.7C671.7,728.7 674.0,728.1 676.3,728.2C679.1,728.3 681.8,729.1 684.2,730.4C686.0,731.4 687.2,733.4 688.7,734.9" class="il"/></g>
<g id="p15"><path d="M778.3,778.6C777.2,784.5 775.9,790.5 774.9,796.5C773.7,803.9 772.7,811.4 771.5,818.9C770.4,826.4 769.4,833.9 768.2,841.3C766.8,849.5 765.4,857.8 763.7,865.9C762.0,874.2 760.1,882.4 758.1,890.6C756.3,898.1 754.8,905.6 752.5,913.0C751.1,917.6 749.5,922.3 746.9,926.4C745.6,928.5 743.7,930.9 741.3,930.9C739.2,930.9 737.6,928.4 736.8,926.4C734.9,921.5 734.2,916.1 733.5,910.8C732.3,902.6 731.9,894.3 731.2,886.1C730.4,877.2 729.7,868.2 729.0,859.2C728.2,850.3 727.5,841.3 726.7,832.3C726.0,823.4 725.3,814.4 724.5,805.5C723.8,796.9 723.0,788.3 722.3,779.7C740.9,779.3 759.6,778.9 778.3,778.6Z" fill="url(#tg)" filter="url(#ts)"/>
<path d="M778.3,778.6C777.2,784.5 775.9,790.5 774.9,796.5C773.7,803.9 772.7,811.4 771.5,818.9C770.4,826.4 769.4,833.9 768.2,841.3C766.8,849.5 765.4,857.8 763.7,865.9C762.0,874.2 760.1,882.4 758.1,890.6C756.3,898.1 754.8,905.6 752.5,913.0C751.1,917.6 749.5,922.3 746.9,926.4C745.6,928.5 743.7,930.9 741.3,930.9C739.2,930.9 737.6,928.4 736.8,926.4C734.9,921.5 734.2,916.1 733.5,910.8C732.3,902.6 731.9,894.3 731.2,886.1C730.4,877.2 729.7,868.2 729.0,859.2C728.2,850.3 727.5,841.3 726.7,832.3C726.0,823.4 725.3,814.4 724.5,805.5C723.8,796.9 723.0,788.3 722.3,779.7C740.9,779.3 759.6,778.9 778.3,778.6Z" class="olr"/>
<path d="M722.3,779.7C720.4,774.1 718.2,768.6 716.7,762.9C715.2,757.7 713.9,752.5 713.3,747.2C712.8,742.8 712.7,738.2 713.3,733.8C713.9,729.5 714.5,725.1 716.7,721.4C719.5,716.7 723.6,712.7 727.9,709.1C732.6,705.1 738.0,701.9 743.5,699.0C747.4,697.0 751.5,695.1 755.9,694.6C757.9,694.3 759.8,695.7 761.5,696.8C766.2,699.8 770.7,703.2 774.9,706.9C778.9,710.3 783.0,713.8 786.1,718.1C788.7,721.8 791.0,726.0 791.7,730.4C792.5,735.2 791.6,740.2 790.6,745.0C789.4,750.4 786.9,755.4 785.0,760.7C782.8,766.6 780.5,772.6 778.3,778.6C769.7,780.4 761.2,783.2 752.5,784.2C747.3,784.7 742.0,783.8 736.8,783.1C731.9,782.3 727.1,780.8 722.3,779.7Z" fill="url(#tgc)" filter="url(#tc)"/>
<path d="M722.3,779.7C720.4,774.1 718.2,768.6 716.7,762.9C715.2,757.7 713.9,752.5 713.3,747.2C712.8,742.8 712.7,738.2 713.3,733.8C713.9,729.5 714.5,725.1 716.7,721.4C719.5,716.7 723.6,712.7 727.9,709.1C732.6,705.1 738.0,701.9 743.5,699.0C747.4,697.0 751.5,695.1 755.9,694.6C757.9,694.3 759.8,695.7 761.5,696.8C766.2,699.8 770.7,703.2 774.9,706.9C778.9,710.3 783.0,713.8 786.1,718.1C788.7,721.8 791.0,726.0 791.7,730.4C792.5,735.2 791.6,740.2 790.6,745.0C789.4,750.4 786.9,755.4 785.0,760.7C782.8,766.6 780.5,772.6 778.3,778.6C769.7,780.4 761.2,783.2 752.5,784.2C747.3,784.7 742.0,783.8 736.8,783.1C731.9,782.3 727.1,780.8 722.3,779.7Z" class="olc"/>
<path d="M741.3,720.3C745.0,720.6 748.8,721.0 752.5,721.0C755.9,721.0 759.2,720.6 762.6,720.3" class="sh"/>
<path d="M741.3,720.3C745.0,720.6 748.8,721.0 752.5,721.0C755.9,721.0 759.2,720.6 762.6,720.3" class="il"/>
<path d="M736.8,717.2C738.3,718.2 739.8,719.3 741.3,720.3" class="il"/>
<path d="M735.0,723.9C737.1,722.7 739.2,721.5 741.3,720.3" class="il"/>
<path d="M762.6,720.3C764.1,719.2 765.6,718.1 767.1,717.0" class="il"/>
<path d="M762.6,720.3C764.8,721.2 767.1,722.1 769.3,723.0" class="il"/></g>
<g id="p14"><path d="M858.0,777.9C857.2,785.2 856.3,792.6 855.6,800.0C854.7,808.0 854.0,816.0 853.2,824.0C852.4,832.0 851.6,839.9 850.8,847.9C850.0,855.9 849.1,863.9 848.4,871.9C847.9,877.5 846.9,883.1 847.2,888.7C847.3,892.8 849.4,896.7 849.6,900.7C849.8,906.3 849.4,912.0 848.4,917.5C847.4,922.5 845.9,927.4 843.6,931.9C842.3,934.4 840.3,937.2 837.6,937.9C836.1,938.3 836.2,934.0 834.7,934.3C832.8,934.7 833.2,938.1 831.6,939.1C829.9,940.2 827.4,941.1 825.6,940.3C823.2,939.3 821.5,936.8 820.8,934.3C819.0,928.1 818.8,921.6 818.4,915.1C817.9,907.1 818.1,899.1 817.9,891.1C817.7,883.1 817.5,875.1 817.2,867.1C816.9,859.1 816.5,851.1 816.0,843.1C815.3,833.5 814.5,823.9 813.6,814.4C812.9,807.1 812.1,799.9 811.2,792.8C810.5,787.8 809.6,782.8 808.8,777.9C825.2,777.9 841.6,777.9 858.0,777.9Z" fill="url(#tg)" filter="url(#ts)"/>
<path d="M858.0,777.9C857.2,785.2 856.3,792.6 855.6,800.0C854.7,808.0 854.0,816.0 853.2,824.0C852.4,832.0 851.6,839.9 850.8,847.9C850.0,855.9 849.1,863.9 848.4,871.9C847.9,877.5 846.9,883.1 847.2,888.7C847.3,892.8 849.4,896.7 849.6,900.7C849.8,906.3 849.4,912.0 848.4,917.5C847.4,922.5 845.9,927.4 843.6,931.9C842.3,934.4 840.3,937.2 837.6,937.9C836.1,938.3 836.2,934.0 834.7,934.3C832.8,934.7 833.2,938.1 831.6,939.1C829.9,940.2 827.4,941.1 825.6,940.3C823.2,939.3 821.5,936.8 820.8,934.3C819.0,928.1 818.8,921.6 818.4,915.1C817.9,907.1 818.1,899.1 817.9,891.1C817.7,883.1 817.5,875.1 817.2,867.1C816.9,859.1 816.5,851.1 816.0,843.1C815.3,833.5 814.5,823.9 813.6,814.4C812.9,807.1 812.1,799.9 811.2,792.8C810.5,787.8 809.6,782.8 808.8,777.9C825.2,777.9 841.6,777.9 858.0,777.9Z" class="olr"/>
<path d="M808.8,777.9C806.4,771.7 804.0,765.4 801.6,759.2C799.2,753.2 796.4,747.3 794.4,741.2C793.2,737.7 791.4,734.0 792.0,730.4C792.7,726.0 795.4,722.0 798.0,718.4C801.8,713.1 806.3,708.3 811.2,704.0C815.5,700.2 820.5,697.1 825.6,694.4C828.2,693.0 831.1,691.9 834.0,692.0C836.9,692.1 839.9,693.3 842.4,694.9C847.6,698.2 852.3,702.2 856.8,706.4C861.1,710.5 865.2,714.8 868.8,719.6C871.2,722.9 874.2,726.3 874.8,730.4C875.5,735.2 873.8,740.1 872.4,744.8C870.6,750.6 867.6,756.0 865.2,761.6C862.8,767.0 860.4,772.5 858.0,777.9C850.4,779.2 842.9,781.4 835.2,782.0C830.4,782.3 825.5,781.5 820.8,780.8C816.7,780.1 812.8,778.8 808.8,777.9Z" fill="url(#tgc)" filter="url(#tc)"/>
<path d="M808.8,777.9C806.4,771.7 804.0,765.4 801.6,759.2C799.2,753.2 796.4,747.3 794.4,741.2C793.2,737.7 791.4,734.0 792.0,730.4C792.7,726.0 795.4,722.0 798.0,718.4C801.8,713.1 806.3,708.3 811.2,704.0C815.5,700.2 820.5,697.1 825.6,694.4C828.2,693.0 831.1,691.9 834.0,692.0C836.9,692.1 839.9,693.3 842.4,694.9C847.6,698.2 852.3,702.2 856.8,706.4C861.1,710.5 865.2,714.8 868.8,719.6C871.2,722.9 874.2,726.3 874.8,730.4C875.5,735.2 873.8,740.1 872.4,744.8C870.6,750.6 867.6,756.0 865.2,761.6C862.8,767.0 860.4,772.5 858.0,777.9C850.4,779.2 842.9,781.4 835.2,782.0C830.4,782.3 825.5,781.5 820.8,780.8C816.7,780.1 812.8,778.8 808.8,777.9Z" class="olc"/>
<path d="M846.7,888.7C845.7,895.1 844.9,901.6 843.6,907.9C842.2,914.4 840.7,920.8 838.8,927.1C837.9,929.8 836.4,932.2 835.2,934.8" class="sh"/>
<path d="M846.7,888.7C845.7,895.1 844.9,901.6 843.6,907.9C842.2,914.4 840.7,920.8 838.8,927.1C837.9,929.8 836.4,932.2 835.2,934.8" class="il"/>
<path d="M824.4,720.3C828.0,720.5 831.6,720.9 835.2,720.8C837.8,720.7 840.3,720.1 842.9,719.8" class="sh"/>
<path d="M824.4,720.3C828.0,720.5 831.6,720.9 835.2,720.8C837.8,720.7 840.3,720.1 842.9,719.8" class="il"/>
<path d="M819.6,716.0C821.2,717.4 822.8,718.9 824.4,720.3" class="il"/>
<path d="M816.0,723.9C818.8,722.7 821.6,721.5 824.4,720.3" class="il"/>
<path d="M842.9,719.8C845.1,718.5 847.3,717.3 849.6,716.0" class="il"/>
<path d="M842.9,719.8C845.7,720.9 848.5,722.1 851.3,723.2" class="il"/></g>
<g id="p13"><path d="M945.5,779.6C944.7,786.4 944.0,793.2 943.1,800.0C942.2,808.0 941.3,816.0 940.3,824.0C939.0,833.6 937.7,843.2 936.4,852.7C935.1,862.3 933.8,872.0 932.4,881.5C930.9,891.2 929.1,900.7 927.6,910.3C926.1,919.1 925.1,928.0 923.5,936.7C922.3,943.2 921.1,949.6 919.2,955.9C918.0,959.7 916.9,963.7 914.4,966.7C913.0,968.4 910.4,969.8 908.4,969.1C905.9,968.3 904.3,965.6 903.6,963.1C901.8,956.9 901.6,950.3 901.2,943.9C900.4,934.3 900.3,924.7 900.0,915.1C899.6,905.5 899.6,895.9 899.2,886.3C898.9,876.7 898.4,867.1 898.0,857.5C897.6,847.9 897.3,838.3 896.8,828.8C896.4,819.2 896.0,809.5 895.2,800.0C894.6,793.1 893.6,786.4 892.8,779.6C910.4,779.6 928.0,779.6 945.5,779.6Z" fill="url(#tg)" filter="url(#ts)"/>
<path d="M945.5,779.6C944.7,786.4 944.0,793.2 943.1,800.0C942.2,808.0 941.3,816.0 940.3,824.0C939.0,833.6 937.7,843.2 936.4,852.7C935.1,862.3 933.8,872.0 932.4,881.5C930.9,891.2 929.1,900.7 927.6,910.3C926.1,919.1 925.1,928.0 923.5,936.7C922.3,943.2 921.1,949.6 919.2,955.9C918.0,959.7 916.9,963.7 914.4,966.7C913.0,968.4 910.4,969.8 908.4,969.1C905.9,968.3 904.3,965.6 903.6,963.1C901.8,956.9 901.6,950.3 901.2,943.9C900.4,934.3 900.3,924.7 900.0,915.1C899.6,905.5 899.6,895.9 899.2,886.3C898.9,876.7 898.4,867.1 898.0,857.5C897.6,847.9 897.3,838.3 896.8,828.8C896.4,819.2 896.0,809.5 895.2,800.0C894.6,793.1 893.6,786.4 892.8,779.6C910.4,779.6 928.0,779.6 945.5,779.6Z" class="olr"/>
<path d="M892.8,779.6C890.4,772.8 888.2,765.9 885.6,759.2C883.4,753.5 880.5,748.1 878.4,742.4C877.1,738.9 875.1,735.3 875.5,731.6C875.9,727.6 878.3,723.9 880.8,720.8C884.9,715.4 890.2,711.0 895.2,706.4C899.8,702.2 904.3,697.7 909.6,694.4C913.2,692.1 917.3,690.1 921.6,689.6C924.4,689.3 927.6,690.2 930.0,692.0C934.3,695.2 937.1,700.0 940.7,704.0C944.3,708.0 948.2,711.7 951.5,716.0C953.9,719.0 956.7,721.9 957.5,725.6C958.6,730.3 957.8,735.2 957.1,740.0C956.2,745.7 954.4,751.2 952.7,756.8C951.3,761.6 949.5,766.3 947.9,771.2C947.1,773.9 946.3,776.8 945.5,779.6C938.3,780.8 931.2,782.6 924.0,783.2C918.4,783.6 912.7,783.3 907.2,782.7C902.3,782.1 897.6,780.6 892.8,779.6Z" fill="url(#tgc)" filter="url(#tc)"/>
<path d="M892.8,779.6C890.4,772.8 888.2,765.9 885.6,759.2C883.4,753.5 880.5,748.1 878.4,742.4C877.1,738.9 875.1,735.3 875.5,731.6C875.9,727.6 878.3,723.9 880.8,720.8C884.9,715.4 890.2,711.0 895.2,706.4C899.8,702.2 904.3,697.7 909.6,694.4C913.2,692.1 917.3,690.1 921.6,689.6C924.4,689.3 927.6,690.2 930.0,692.0C934.3,695.2 937.1,700.0 940.7,704.0C944.3,708.0 948.2,711.7 951.5,716.0C953.9,719.0 956.7,721.9 957.5,725.6C958.6,730.3 957.8,735.2 957.1,740.0C956.2,745.7 954.4,751.2 952.7,756.8C951.3,761.6 949.5,766.3 947.9,771.2C947.1,773.9 946.3,776.8 945.5,779.6C938.3,780.8 931.2,782.6 924.0,783.2C918.4,783.6 912.7,783.3 907.2,782.7C902.3,782.1 897.6,780.6 892.8,779.6Z" class="olc"/>
<path d="M906.4,759.7C907.9,758.5 909.1,757.1 910.8,756.3C912.6,755.3 914.7,754.5 916.8,754.4C919.0,754.2 921.4,754.7 923.5,755.6C925.3,756.3 926.5,758.0 928.0,759.2" class="sh"/>
<path d="M906.4,759.7C907.9,758.5 909.1,757.1 910.8,756.3C912.6,755.3 914.7,754.5 916.8,754.4C919.0,754.2 921.4,754.7 923.5,755.6C925.3,756.3 926.5,758.0 928.0,759.2" class="il"/></g>
<g id="p12"><path d="M1027.6,778.4C1026.4,786.3 1025.2,794.1 1024.0,802.0C1022.8,810.0 1021.7,818.0 1020.4,826.0C1018.9,834.8 1017.4,843.6 1015.6,852.3C1013.8,860.4 1011.7,868.4 1009.6,876.3C1007.7,883.6 1005.7,890.8 1003.6,897.9C1001.7,904.4 1000.1,910.9 997.6,917.1C996.1,920.9 994.3,924.8 991.6,927.9C990.1,929.6 987.8,931.3 985.6,931.0C983.4,930.8 981.5,928.8 980.8,926.7C979.0,921.4 978.8,915.6 978.4,909.9C977.8,901.9 978.0,893.9 977.9,885.9C977.8,877.9 978.0,869.9 977.9,861.9C977.8,853.9 977.5,845.9 977.2,837.9C976.9,829.9 976.6,821.9 976.0,814.0C975.5,807.5 974.7,801.2 974.1,794.8C973.5,789.3 972.9,783.9 972.4,778.4C990.8,778.4 1009.2,778.4 1027.6,778.4Z" fill="url(#tg)" filter="url(#ts)"/>
<path d="M1027.6,778.4C1026.4,786.3 1025.2,794.1 1024.0,802.0C1022.8,810.0 1021.7,818.0 1020.4,826.0C1018.9,834.8 1017.4,843.6 1015.6,852.3C1013.8,860.4 1011.7,868.4 1009.6,876.3C1007.7,883.6 1005.7,890.8 1003.6,897.9C1001.7,904.4 1000.1,910.9 997.6,917.1C996.1,920.9 994.3,924.8 991.6,927.9C990.1,929.6 987.8,931.3 985.6,931.0C983.4,930.8 981.5,928.8 980.8,926.7C979.0,921.4 978.8,915.6 978.4,909.9C977.8,901.9 978.0,893.9 977.9,885.9C977.8,877.9 978.0,869.9 977.9,861.9C977.8,853.9 977.5,845.9 977.2,837.9C976.9,829.9 976.6,821.9 976.0,814.0C975.5,807.5 974.7,801.2 974.1,794.8C973.5,789.3 972.9,783.9 972.4,778.4C990.8,778.4 1009.2,778.4 1027.6,778.4Z" class="olr"/>
<path d="M972.4,778.4C969.8,772.3 966.8,766.3 964.7,760.0C963.0,754.8 962.0,749.3 961.1,743.9C960.3,739.1 959.7,734.3 959.7,729.5C959.7,725.8 960.0,722.0 961.1,718.5C962.1,715.5 963.7,712.5 965.9,710.3C968.6,707.6 972.0,705.6 975.5,704.1C980.1,702.1 985.0,701.1 989.9,700.0C995.2,698.8 1000.6,698.0 1006.0,697.1C1010.8,696.4 1015.5,695.4 1020.4,695.2C1023.6,695.0 1026.9,695.0 1030.0,695.9C1032.6,696.7 1035.2,698.0 1037.2,700.0C1039.1,701.9 1040.4,704.6 1041.2,707.2C1042.3,710.3 1042.6,713.6 1042.7,716.8C1042.8,721.0 1042.6,725.3 1042.0,729.5C1041.3,734.4 1040.2,739.2 1038.8,743.9C1037.5,748.5 1035.9,753.1 1034.0,757.6C1032.4,761.7 1029.6,765.3 1028.3,769.6C1027.4,772.4 1027.8,775.5 1027.6,778.4C1020.8,779.7 1014.1,781.7 1007.2,782.3C1000.8,782.8 994.3,782.3 988.0,781.6C982.7,781.0 977.6,779.5 972.4,778.4Z" fill="url(#tgc)" filter="url(#tc)"/>
<path d="M972.4,778.4C969.8,772.3 966.8,766.3 964.7,760.0C963.0,754.8 962.0,749.3 961.1,743.9C960.3,739.1 959.7,734.3 959.7,729.5C959.7,725.8 960.0,722.0 961.1,718.5C962.1,715.5 963.7,712.5 965.9,710.3C968.6,707.6 972.0,705.6 975.5,704.1C980.1,702.1 985.0,701.1 989.9,700.0C995.2,698.8 1000.6,698.0 1006.0,697.1C1010.8,696.4 1015.5,695.4 1020.4,695.2C1023.6,695.0 1026.9,695.0 1030.0,695.9C1032.6,696.7 1035.2,698.0 1037.2,700.0C1039.1,701.9 1040.4,704.6 1041.2,707.2C1042.3,710.3 1042.6,713.6 1042.7,716.8C1042.8,721.0 1042.6,725.3 1042.0,729.5C1041.3,734.4 1040.2,739.2 1038.8,743.9C1037.5,748.5 1035.9,753.1 1034.0,757.6C1032.4,761.7 1029.6,765.3 1028.3,769.6C1027.4,772.4 1027.8,775.5 1027.6,778.4C1020.8,779.7 1014.1,781.7 1007.2,782.3C1000.8,782.8 994.3,782.3 988.0,781.6C982.7,781.0 977.6,779.5 972.4,778.4Z" class="olc"/>
<path d="M979.6,738.4C981.2,742.8 982.3,747.4 984.4,751.6C986.3,755.4 988.4,759.4 991.6,762.4C993.8,764.4 996.9,766.0 1000.0,766.0C1003.4,766.0 1007.0,764.6 1009.6,762.4C1012.9,759.6 1014.8,755.4 1016.8,751.6C1018.8,747.8 1020.4,743.7 1021.6,739.6C1022.4,736.9 1022.4,734.0 1022.8,731.2" class="sh"/>
<path d="M979.6,738.4C981.2,742.8 982.3,747.4 984.4,751.6C986.3,755.4 988.4,759.4 991.6,762.4C993.8,764.4 996.9,766.0 1000.0,766.0C1003.4,766.0 1007.0,764.6 1009.6,762.4C1012.9,759.6 1014.8,755.4 1016.8,751.6C1018.8,747.8 1020.4,743.7 1021.6,739.6C1022.4,736.9 1022.4,734.0 1022.8,731.2" class="il"/></g>
<g id="p11"><path d="M1118.7,778.0C1117.1,786.8 1115.7,795.6 1113.9,804.4C1112.1,813.2 1110.1,822.0 1107.9,830.7C1105.7,839.6 1103.3,848.4 1100.7,857.1C1098.5,865.2 1096.1,873.2 1093.6,881.1C1091.3,888.4 1088.7,895.5 1086.4,902.7C1084.3,909.1 1082.6,915.6 1080.4,921.9C1079.0,925.6 1077.7,929.4 1075.6,932.7C1074.4,934.4 1072.7,936.6 1070.8,936.3C1068.5,936.0 1066.7,933.7 1066.0,931.5C1064.2,926.2 1064.1,920.4 1063.6,914.7C1062.9,906.7 1062.8,898.7 1062.4,890.7C1062.0,882.7 1061.6,874.7 1061.2,866.7C1060.8,858.7 1060.4,850.7 1060.0,842.7C1059.6,834.7 1059.3,826.7 1058.8,818.8C1058.3,811.5 1057.7,804.4 1057.1,797.2C1056.5,790.8 1055.8,784.4 1055.2,778.0C1076.4,778.0 1097.5,778.0 1118.7,778.0Z" fill="url(#tg)" filter="url(#ts)"/>
<path d="M1118.7,778.0C1117.1,786.8 1115.7,795.6 1113.9,804.4C1112.1,813.2 1110.1,822.0 1107.9,830.7C1105.7,839.6 1103.3,848.4 1100.7,857.1C1098.5,865.2 1096.1,873.2 1093.6,881.1C1091.3,888.4 1088.7,895.5 1086.4,902.7C1084.3,909.1 1082.6,915.6 1080.4,921.9C1079.0,925.6 1077.7,929.4 1075.6,932.7C1074.4,934.4 1072.7,936.6 1070.8,936.3C1068.5,936.0 1066.7,933.7 1066.0,931.5C1064.2,926.2 1064.1,920.4 1063.6,914.7C1062.9,906.7 1062.8,898.7 1062.4,890.7C1062.0,882.7 1061.6,874.7 1061.2,866.7C1060.8,858.7 1060.4,850.7 1060.0,842.7C1059.6,834.7 1059.3,826.7 1058.8,818.8C1058.3,811.5 1057.7,804.4 1057.1,797.2C1056.5,790.8 1055.8,784.4 1055.2,778.0C1076.4,778.0 1097.5,778.0 1118.7,778.0Z" class="olr"/>
<path d="M1055.2,778.0C1053.2,774.0 1050.4,770.3 1049.2,766.0C1047.7,760.8 1047.5,755.3 1047.2,749.9C1046.8,741.9 1046.9,733.9 1047.0,725.9C1047.1,720.5 1047.1,715.0 1047.7,709.6C1048.0,706.9 1048.0,703.8 1049.9,701.9C1053.1,698.8 1057.7,697.4 1061.9,695.7C1067.1,693.4 1072.5,691.6 1078.0,689.9C1083.3,688.3 1088.6,686.7 1094.0,685.6C1099.3,684.5 1104.7,683.6 1110.1,683.2C1114.1,682.9 1118.1,683.1 1122.1,683.7C1124.9,684.1 1127.7,684.8 1130.0,686.3C1132.3,687.8 1134.3,689.9 1135.5,692.3C1137.0,695.3 1137.7,698.6 1137.9,701.9C1138.3,706.2 1137.8,710.6 1137.2,714.9C1136.5,720.2 1135.4,725.5 1134.1,730.7C1132.8,736.1 1131.1,741.5 1129.3,746.8C1127.6,752.0 1125.3,757.0 1123.5,762.1C1121.8,767.4 1120.3,772.7 1118.7,778.0C1111.1,779.2 1103.6,781.1 1096.0,781.6C1088.0,782.1 1079.9,781.5 1072.0,780.8C1066.3,780.3 1060.8,778.9 1055.2,778.0Z" fill="url(#tgc)" filter="url(#tc)"/>
<path d="M1055.2,778.0C1053.2,774.0 1050.4,770.3 1049.2,766.0C1047.7,760.8 1047.5,755.3 1047.2,749.9C1046.8,741.9 1046.9,733.9 1047.0,725.9C1047.1,720.5 1047.1,715.0 1047.7,709.6C1048.0,706.9 1048.0,703.8 1049.9,701.9C1053.1,698.8 1057.7,697.4 1061.9,695.7C1067.1,693.4 1072.5,691.6 1078.0,689.9C1083.3,688.3 1088.6,686.7 1094.0,685.6C1099.3,684.5 1104.7,683.6 1110.1,683.2C1114.1,682.9 1118.1,683.1 1122.1,683.7C1124.9,684.1 1127.7,684.8 1130.0,686.3C1132.3,687.8 1134.3,689.9 1135.5,692.3C1137.0,695.3 1137.7,698.6 1137.9,701.9C1138.3,706.2 1137.8,710.6 1137.2,714.9C1136.5,720.2 1135.4,725.5 1134.1,730.7C1132.8,736.1 1131.1,741.5 1129.3,746.8C1127.6,752.0 1125.3,757.0 1123.5,762.1C1121.8,767.4 1120.3,772.7 1118.7,778.0C1111.1,779.2 1103.6,781.1 1096.0,781.6C1088.0,782.1 1079.9,781.5 1072.0,780.8C1066.3,780.3 1060.8,778.9 1055.2,778.0Z" class="olc"/>
<path d="M1058.8,734.3C1060.1,738.5 1061.2,742.7 1062.8,746.8C1064.4,750.5 1066.2,754.2 1068.4,757.6C1070.0,760.2 1072.4,762.4 1074.4,764.8" class="sh"/>
<path d="M1058.8,734.3C1060.1,738.5 1061.2,742.7 1062.8,746.8C1064.4,750.5 1066.2,754.2 1068.4,757.6C1070.0,760.2 1072.4,762.4 1074.4,764.8" class="il"/>
<path d="M1111.5,734.3C1110.7,738.5 1110.5,742.7 1109.1,746.8C1108.0,750.2 1106.3,753.4 1104.3,756.4C1102.7,759.0 1100.3,761.2 1098.3,763.6" class="sh"/>
<path d="M1111.5,734.3C1110.7,738.5 1110.5,742.7 1109.1,746.8C1108.0,750.2 1106.3,753.4 1104.3,756.4C1102.7,759.0 1100.3,761.2 1098.3,763.6" class="il"/></g>
<g id="p18m"><path d="M1855.0,777.5C1855.7,783.8 1856.7,790.2 1857.2,796.5C1857.8,802.5 1857.9,808.5 1858.4,814.5C1858.8,820.4 1859.1,826.4 1859.9,832.4C1860.9,839.2 1862.2,845.9 1864.0,852.5C1865.8,859.4 1868.0,866.2 1870.7,872.7C1873.2,878.9 1876.2,884.9 1879.7,890.6C1883.0,896.2 1886.9,901.3 1890.9,906.3C1894.0,910.3 1897.4,914.0 1900.9,917.5C1903.0,919.6 1905.0,922.0 1907.7,923.1C1909.7,924.0 1912.3,924.1 1914.4,923.1C1916.8,922.0 1918.6,919.8 1920.0,917.5C1922.2,914.1 1923.8,910.2 1924.9,906.3C1926.6,900.5 1927.7,894.4 1928.5,888.4C1929.5,881.0 1929.7,873.5 1930.1,866.0C1930.6,856.3 1930.8,846.6 1931.2,836.9C1931.5,829.4 1931.9,821.9 1932.3,814.5C1932.8,807.0 1933.2,799.5 1933.9,792.0C1934.3,787.2 1935.1,782.3 1935.7,777.5C1908.8,777.5 1881.9,777.5 1855.0,777.5Z" fill="url(#tg)" filter="url(#ts)"/>
<path d="M1855.0,777.5C1855.7,783.8 1856.7,790.2 1857.2,796.5C1857.8,802.5 1857.9,808.5 1858.4,814.5C1858.8,820.4 1859.1,826.4 1859.9,832.4C1860.9,839.2 1862.2,845.9 1864.0,852.5C1865.8,859.4 1868.0,866.2 1870.7,872.7C1873.2,878.9 1876.2,884.9 1879.7,890.6C1883.0,896.2 1886.9,901.3 1890.9,906.3C1894.0,910.3 1897.4,914.0 1900.9,917.5C1903.0,919.6 1905.0,922.0 1907.7,923.1C1909.7,924.0 1912.3,924.1 1914.4,923.1C1916.8,922.0 1918.6,919.8 1920.0,917.5C1922.2,914.1 1923.8,910.2 1924.9,906.3C1926.6,900.5 1927.7,894.4 1928.5,888.4C1929.5,881.0 1929.7,873.5 1930.1,866.0C1930.6,856.3 1930.8,846.6 1931.2,836.9C1931.5,829.4 1931.9,821.9 1932.3,814.5C1932.8,807.0 1933.2,799.5 1933.9,792.0C1934.3,787.2 1935.1,782.3 1935.7,777.5C1908.8,777.5 1881.9,777.5 1855.0,777.5Z" class="olr"/>
<path d="M1935.7,777.5C1937.0,772.6 1938.7,767.9 1939.7,762.9C1940.6,758.5 1941.6,754.0 1941.3,749.5C1941.0,744.9 1940.3,740.0 1937.9,736.0C1935.3,731.8 1930.8,728.8 1926.7,725.9C1921.1,722.0 1914.7,719.2 1908.8,715.9C1903.5,712.9 1898.5,709.5 1893.1,706.9C1891.0,705.9 1888.7,705.0 1886.4,705.1C1884.0,705.2 1881.7,706.2 1879.7,707.3C1874.2,710.2 1869.2,713.8 1864.0,717.0C1859.5,719.6 1854.4,721.4 1850.5,724.8C1847.5,727.5 1845.0,731.1 1843.8,734.9C1842.5,738.8 1842.7,743.2 1843.3,747.2C1844.2,752.6 1846.3,757.8 1848.3,762.9C1850.2,767.9 1852.8,772.6 1855.0,777.5C1861.7,778.2 1868.4,779.2 1875.2,779.7C1881.9,780.2 1888.6,780.6 1895.3,780.4C1903.6,780.2 1911.8,779.2 1920.0,778.6C1925.2,778.2 1930.4,777.9 1935.7,777.5Z" fill="url(#tgc)" filter="url(#tc)"/>
<path d="M1935.7,777.5C1937.0,772.6 1938.7,767.9 1939.7,762.9C1940.6,758.5 1941.6,754.0 1941.3,749.5C1941.0,744.9 1940.3,740.0 1937.9,736.0C1935.3,731.8 1930.8,728.8 1926.7,725.9C1921.1,722.0 1914.7,719.2 1908.8,715.9C1903.5,712.9 1898.5,709.5 1893.1,706.9C1891.0,705.9 1888.7,705.0 1886.4,705.1C1884.0,705.2 1881.7,706.2 1879.7,707.3C1874.2,710.2 1869.2,713.8 1864.0,717.0C1859.5,719.6 1854.4,721.4 1850.5,724.8C1847.5,727.5 1845.0,731.1 1843.8,734.9C1842.5,738.8 1842.7,743.2 1843.3,747.2C1844.2,752.6 1846.3,757.8 1848.3,762.9C1850.2,767.9 1852.8,772.6 1855.0,777.5C1861.7,778.2 1868.4,779.2 1875.2,779.7C1881.9,780.2 1888.6,780.6 1895.3,780.4C1903.6,780.2 1911.8,779.2 1920.0,778.6C1925.2,778.2 1930.4,777.9 1935.7,777.5Z" class="olc"/>
<path d="M1922.2,850.3C1908.8,842.8 1888.8,843.7 1876.3,852.5C1869.2,857.5 1881.0,869.2 1884.1,877.2C1887.4,885.6 1891.3,893.8 1895.3,901.8C1898.4,908.0 1900.6,914.9 1905.4,919.8C1907.5,921.9 1912.4,923.2 1914.4,920.9C1918.2,916.5 1918.1,909.8 1918.9,904.1C1920.1,895.2 1919.9,886.2 1920.4,877.2C1921.0,868.2 1930.1,854.7 1922.2,850.3Z" fill="#f0f0f0" filter="url(#gb)"/>
<path d="M1923.3,816.7C1923.0,827.2 1922.8,837.6 1922.2,848.1C1921.6,859.3 1921.0,870.5 1920.0,881.7C1919.1,892.2 1917.7,902.6 1916.6,913.1" class="sh"/>
<path d="M1923.3,816.7C1923.0,827.2 1922.8,837.6 1922.2,848.1C1921.6,859.3 1921.0,870.5 1920.0,881.7C1919.1,892.2 1917.7,902.6 1916.6,913.1" class="il"/>
<path d="M1869.6,827.9C1871.4,835.4 1873.0,842.9 1875.2,850.3C1877.8,859.4 1880.7,868.4 1884.1,877.2C1887.4,885.6 1891.5,893.7 1895.3,901.8C1897.5,906.4 1899.8,910.8 1902.1,915.3" class="sh"/>
<path d="M1869.6,827.9C1871.4,835.4 1873.0,842.9 1875.2,850.3C1877.8,859.4 1880.7,868.4 1884.1,877.2C1887.4,885.6 1891.5,893.7 1895.3,901.8C1897.5,906.4 1899.8,910.8 1902.1,915.3" class="il"/></g>
<g id="p17m"><path d="M1750.8,779.7C1751.5,785.3 1752.3,790.9 1753.0,796.5C1753.8,802.5 1754.5,808.5 1755.3,814.5C1756.3,821.9 1757.3,829.4 1758.6,836.9C1760.0,844.4 1761.1,851.9 1763.1,859.3C1765.2,866.9 1767.9,874.4 1771.0,881.7C1773.9,888.6 1777.4,895.3 1781.1,901.8C1784.5,908.0 1788.3,913.9 1792.3,919.8C1794.6,923.3 1797.1,926.8 1800.1,929.9C1801.6,931.4 1803.5,933.0 1805.7,933.2C1807.7,933.4 1809.8,932.3 1811.3,931.0C1814.1,928.5 1816.5,925.4 1818.0,922.0C1820.6,916.3 1822.4,910.2 1823.6,904.1C1825.1,896.7 1825.3,889.2 1825.9,881.7C1826.4,874.2 1826.6,866.7 1827.0,859.3C1827.4,851.8 1827.7,844.3 1828.1,836.9C1828.5,829.4 1828.9,821.9 1829.2,814.5C1829.6,807.0 1829.9,799.5 1830.4,792.0C1830.6,787.6 1831.1,783.1 1831.5,778.6C1804.6,779.0 1777.7,779.3 1750.8,779.7Z" fill="url(#tg)" filter="url(#ts)"/>
<path d="M1750.8,779.7C1751.5,785.3 1752.3,790.9 1753.0,796.5C1753.8,802.5 1754.5,808.5 1755.3,814.5C1756.3,821.9 1757.3,829.4 1758.6,836.9C1760.0,844.4 1761.1,851.9 1763.1,859.3C1765.2,866.9 1767.9,874.4 1771.0,881.7C1773.9,888.6 1777.4,895.3 1781.1,901.8C1784.5,908.0 1788.3,913.9 1792.3,919.8C1794.6,923.3 1797.1,926.8 1800.1,929.9C1801.6,931.4 1803.5,933.0 1805.7,933.2C1807.7,933.4 1809.8,932.3 1811.3,931.0C1814.1,928.5 1816.5,925.4 1818.0,922.0C1820.6,916.3 1822.4,910.2 1823.6,904.1C1825.1,896.7 1825.3,889.2 1825.9,881.7C1826.4,874.2 1826.6,866.7 1827.0,859.3C1827.4,851.8 1827.7,844.3 1828.1,836.9C1828.5,829.4 1828.9,821.9 1829.2,814.5C1829.6,807.0 1829.9,799.5 1830.4,792.0C1830.6,787.6 1831.1,783.1 1831.5,778.6C1804.6,779.0 1777.7,779.3 1750.8,779.7Z" class="olr"/>
<path d="M1831.5,778.6C1833.3,772.6 1835.6,766.7 1837.1,760.7C1838.5,754.8 1840.0,748.8 1840.4,742.7C1840.8,737.9 1841.4,732.6 1839.3,728.2C1837.0,723.4 1832.1,720.4 1828.1,717.0C1824.6,713.9 1821.0,710.9 1816.9,708.7C1814.9,707.6 1812.5,707.1 1810.2,707.3C1807.1,707.7 1804.1,709.0 1801.2,710.3C1797.4,711.9 1793.8,714.2 1790.0,715.9C1787.5,717.0 1784.8,717.6 1782.2,718.5C1779.6,716.9 1777.0,715.2 1774.3,713.6C1770.6,711.4 1767.2,708.7 1763.1,707.3C1760.3,706.4 1757.1,706.4 1754.2,706.9C1751.0,707.4 1747.7,708.3 1745.2,710.3C1741.9,712.9 1739.3,716.6 1737.4,720.3C1735.2,724.5 1733.6,729.1 1732.9,733.8C1732.1,738.2 1732.0,742.8 1732.9,747.2C1733.9,752.0 1736.3,756.3 1738.5,760.7C1740.8,765.3 1743.5,769.8 1746.3,774.1C1747.6,776.1 1749.3,777.9 1750.8,779.7C1756.4,780.2 1762.0,781.0 1767.6,781.3C1775.1,781.7 1782.5,782.0 1790.0,782.0C1798.2,781.9 1806.5,781.5 1814.7,780.8C1820.3,780.4 1825.9,779.3 1831.5,778.6Z" fill="url(#tgc)" filter="url(#tc)"/>
<path d="M1831.5,778.6C1833.3,772.6 1835.6,766.7 1837.1,760.7C1838.5,754.8 1840.0,748.8 1840.4,742.7C1840.8,737.9 1841.4,732.6 1839.3,728.2C1837.0,723.4 1832.1,720.4 1828.1,717.0C1824.6,713.9 1821.0,710.9 1816.9,708.7C1814.9,707.6 1812.5,707.1 1810.2,707.3C1807.1,707.7 1804.1,709.0 1801.2,710.3C1797.4,711.9 1793.8,714.2 1790.0,715.9C1787.5,717.0 1784.8,717.6 1782.2,718.5C1779.6,716.9 1777.0,715.2 1774.3,713.6C1770.6,711.4 1767.2,708.7 1763.1,707.3C1760.3,706.4 1757.1,706.4 1754.2,706.9C1751.0,707.4 1747.7,708.3 1745.2,710.3C1741.9,712.9 1739.3,716.6 1737.4,720.3C1735.2,724.5 1733.6,729.1 1732.9,733.8C1732.1,738.2 1732.0,742.8 1732.9,747.2C1733.9,752.0 1736.3,756.3 1738.5,760.7C1740.8,765.3 1743.5,769.8 1746.3,774.1C1747.6,776.1 1749.3,777.9 1750.8,779.7C1756.4,780.2 1762.0,781.0 1767.6,781.3C1775.1,781.7 1782.5,782.0 1790.0,782.0C1798.2,781.9 1806.5,781.5 1814.7,780.8C1820.3,780.4 1825.9,779.3 1831.5,778.6Z" class="olc"/>
<path d="M1820.3,866.0C1807.6,859.6 1790.2,861.4 1777.7,868.2C1772.2,871.2 1781.1,880.3 1783.3,886.2C1785.9,893.0 1789.1,899.7 1792.3,906.3C1795.8,913.9 1798.4,922.1 1803.5,928.7C1804.6,930.2 1807.9,930.2 1809.1,928.7C1811.9,925.0 1812.5,919.9 1813.5,915.3C1815.5,906.4 1816.8,897.4 1818.0,888.4C1819.0,881.0 1827.0,869.4 1820.3,866.0Z" fill="#f0f0f0" filter="url(#gb)"/>
<path d="M1821.8,840.2C1821.3,848.1 1820.9,855.9 1820.3,863.8C1819.6,872.0 1819.1,880.2 1818.0,888.4C1816.9,897.4 1815.3,906.4 1813.5,915.3C1812.7,919.8 1811.3,924.3 1810.2,928.7" class="sh"/>
<path d="M1821.8,840.2C1821.3,848.1 1820.9,855.9 1820.3,863.8C1819.6,872.0 1819.1,880.2 1818.0,888.4C1816.9,897.4 1815.3,906.4 1813.5,915.3C1812.7,919.8 1811.3,924.3 1810.2,928.7" class="il"/>
<path d="M1772.5,845.8C1773.9,852.5 1774.8,859.4 1776.6,866.0C1778.4,872.8 1780.7,879.6 1783.3,886.2C1786.0,893.0 1789.1,899.7 1792.3,906.3C1795.1,912.4 1798.2,918.3 1801.2,924.3" class="sh"/>
<path d="M1772.5,845.8C1773.9,852.5 1774.8,859.4 1776.6,866.0C1778.4,872.8 1780.7,879.6 1783.3,886.2C1786.0,893.0 1789.1,899.7 1792.3,906.3C1795.1,912.4 1798.2,918.3 1801.2,924.3" class="il"/>
<path d="M1782.2,718.5C1781.8,721.4 1781.2,724.2 1781.1,727.1C1780.9,730.0 1781.3,733.0 1781.5,736.0" class="sh"/>
<path d="M1782.2,718.5C1781.8,721.4 1781.2,724.2 1781.1,727.1C1780.9,730.0 1781.3,733.0 1781.5,736.0" class="il"/></g>
<g id="p16m"><path d="M1623.1,778.6C1624.2,784.5 1625.7,790.5 1626.5,796.5C1627.2,802.4 1627.3,808.4 1627.6,814.4C1628.0,821.9 1628.3,829.4 1628.7,836.8C1629.1,844.3 1629.3,851.8 1629.8,859.2C1630.2,865.2 1630.8,871.2 1631.4,877.2C1631.9,882.4 1632.2,887.7 1633.2,892.8C1634.3,898.2 1635.9,903.4 1637.7,908.5C1639.6,913.9 1641.8,919.2 1644.4,924.2C1645.9,927.0 1647.5,930.0 1650.0,932.0C1651.5,933.2 1653.8,933.7 1655.6,933.2C1657.9,932.5 1659.6,930.5 1661.2,928.7C1662.7,927.1 1663.4,924.9 1664.6,923.1C1665.7,925.3 1666.5,927.8 1667.9,929.8C1669.5,931.9 1671.2,934.2 1673.5,935.4C1675.5,936.4 1678.1,936.6 1680.3,935.8C1682.9,935.0 1685.1,933.0 1687.0,930.9C1689.3,928.3 1690.7,924.9 1692.6,922.0C1693.7,923.5 1694.7,925.0 1695.9,926.4C1697.3,928.0 1698.4,930.2 1700.4,930.9C1701.9,931.5 1703.7,930.8 1704.9,929.8C1706.9,928.0 1708.5,925.6 1709.4,923.1C1711.0,918.4 1711.5,913.4 1712.1,908.5C1713.0,899.6 1713.2,890.6 1713.9,881.6C1714.6,871.2 1715.3,860.7 1716.1,850.3C1716.7,842.1 1717.3,833.8 1717.9,825.6C1718.4,817.4 1719.1,809.2 1719.5,801.0C1719.8,793.5 1719.9,786.0 1720.1,778.6C1687.8,778.6 1655.5,778.6 1623.1,778.6Z" fill="url(#tg)" filter="url(#ts)"/>
<path d="M1623.1,778.6C1624.2,784.5 1625.7,790.5 1626.5,796.5C1627.2,802.4 1627.3,808.4 1627.6,814.4C1628.0,821.9 1628.3,829.4 1628.7,836.8C1629.1,844.3 1629.3,851.8 1629.8,859.2C1630.2,865.2 1630.8,871.2 1631.4,877.2C1631.9,882.4 1632.2,887.7 1633.2,892.8C1634.3,898.2 1635.9,903.4 1637.7,908.5C1639.6,913.9 1641.8,919.2 1644.4,924.2C1645.9,927.0 1647.5,930.0 1650.0,932.0C1651.5,933.2 1653.8,933.7 1655.6,933.2C1657.9,932.5 1659.6,930.5 1661.2,928.7C1662.7,927.1 1663.4,924.9 1664.6,923.1C1665.7,925.3 1666.5,927.8 1667.9,929.8C1669.5,931.9 1671.2,934.2 1673.5,935.4C1675.5,936.4 1678.1,936.6 1680.3,935.8C1682.9,935.0 1685.1,933.0 1687.0,930.9C1689.3,928.3 1690.7,924.9 1692.6,922.0C1693.7,923.5 1694.7,925.0 1695.9,926.4C1697.3,928.0 1698.4,930.2 1700.4,930.9C1701.9,931.5 1703.7,930.8 1704.9,929.8C1706.9,928.0 1708.5,925.6 1709.4,923.1C1711.0,918.4 1711.5,913.4 1712.1,908.5C1713.0,899.6 1713.2,890.6 1713.9,881.6C1714.6,871.2 1715.3,860.7 1716.1,850.3C1716.7,842.1 1717.3,833.8 1717.9,825.6C1718.4,817.4 1719.1,809.2 1719.5,801.0C1719.8,793.5 1719.9,786.0 1720.1,778.6C1687.8,778.6 1655.5,778.6 1623.1,778.6Z" class="olr"/>
<path d="M1720.1,778.6C1721.8,774.1 1723.8,769.7 1725.1,765.1C1726.5,760.0 1727.7,754.8 1728.4,749.5C1729.1,744.3 1729.5,739.0 1729.1,733.8C1728.7,729.2 1728.2,724.5 1726.2,720.3C1724.5,716.7 1721.6,713.6 1718.3,711.4C1715.1,709.1 1711.1,707.8 1707.1,707.3C1703.8,706.9 1700.2,707.4 1697.1,708.7C1693.7,710.0 1691.1,712.7 1688.1,714.7C1684.7,712.5 1681.5,710.0 1678.0,708.0C1674.4,705.9 1670.8,703.5 1666.8,702.4C1663.2,701.4 1659.3,701.5 1655.6,702.0C1651.0,702.6 1646.5,704.0 1642.2,705.8C1636.7,707.9 1631.5,710.6 1626.5,713.6C1622.1,716.2 1617.9,719.1 1614.2,722.6C1611.8,724.8 1609.5,727.3 1608.6,730.4C1607.4,734.3 1607.5,738.7 1608.1,742.7C1609.0,748.1 1611.0,753.3 1613.0,758.4C1615.2,763.8 1618.3,768.9 1620.9,774.1C1621.6,775.6 1622.4,777.1 1623.1,778.6C1630.2,779.2 1637.3,779.9 1644.4,780.4C1654.9,781.0 1665.3,782.1 1675.8,781.9C1685.5,781.8 1695.2,780.4 1704.9,779.7C1710.0,779.3 1715.1,778.9 1720.1,778.6Z" fill="url(#tgc)" filter="url(#tc)"/>
<path d="M1720.1,778.6C1721.8,774.1 1723.8,769.7 1725.1,765.1C1726.5,760.0 1727.7,754.8 1728.4,749.5C1729.1,744.3 1729.5,739.0 1729.1,733.8C1728.7,729.2 1728.2,724.5 1726.2,720.3C1724.5,716.7 1721.6,713.6 1718.3,711.4C1715.1,709.1 1711.1,707.8 1707.1,707.3C1703.8,706.9 1700.2,707.4 1697.1,708.7C1693.7,710.0 1691.1,712.7 1688.1,714.7C1684.7,712.5 1681.5,710.0 1678.0,708.0C1674.4,705.9 1670.8,703.5 1666.8,702.4C1663.2,701.4 1659.3,701.5 1655.6,702.0C1651.0,702.6 1646.5,704.0 1642.2,705.8C1636.7,707.9 1631.5,710.6 1626.5,713.6C1622.1,716.2 1617.9,719.1 1614.2,722.6C1611.8,724.8 1609.5,727.3 1608.6,730.4C1607.4,734.3 1607.5,738.7 1608.1,742.7C1609.0,748.1 1611.0,753.3 1613.0,758.4C1615.2,763.8 1618.3,768.9 1620.9,774.1C1621.6,775.6 1622.4,777.1 1623.1,778.6C1630.2,779.2 1637.3,779.9 1644.4,780.4C1654.9,781.0 1665.3,782.1 1675.8,781.9C1685.5,781.8 1695.2,780.4 1704.9,779.7C1710.0,779.3 1715.1,778.9 1720.1,778.6Z" class="olc"/>
<path d="M1707.1,852.5C1691.2,836.9 1665.0,827.1 1643.3,832.3C1632.1,835.0 1648.5,854.7 1651.1,865.9C1653.0,874.2 1654.8,882.4 1656.7,890.6C1659.3,901.4 1660.6,912.7 1664.6,923.1C1666.3,927.5 1669.7,931.4 1673.5,934.3C1675.3,935.6 1678.1,935.4 1680.3,934.7C1682.9,933.8 1685.0,931.8 1687.0,929.8C1689.2,927.5 1691.6,925.0 1692.6,922.0C1696.1,911.0 1698.1,899.6 1700.4,888.4C1702.9,876.5 1715.8,861.0 1707.1,852.5Z" fill="#f0f0f0" filter="url(#gb)"/>
<path d="M1708.3,848.0C1707.1,854.0 1706.1,860.0 1704.9,865.9C1703.4,873.4 1702.0,880.9 1700.4,888.4C1699.0,895.1 1697.5,901.8 1695.9,908.5C1694.9,913.0 1693.7,917.5 1692.6,922.0" class="sh"/>
<path d="M1708.3,848.0C1707.1,854.0 1706.1,860.0 1704.9,865.9C1703.4,873.4 1702.0,880.9 1700.4,888.4C1699.0,895.1 1697.5,901.8 1695.9,908.5C1694.9,913.0 1693.7,917.5 1692.6,922.0" class="il"/>
<path d="M1641.0,821.1C1642.5,827.9 1644.0,834.6 1645.5,841.3C1647.4,849.5 1649.3,857.7 1651.1,865.9C1653.0,874.2 1654.9,882.4 1656.7,890.6C1658.2,897.3 1659.6,904.1 1661.2,910.8C1662.2,914.9 1663.4,919.0 1664.6,923.1" class="sh"/>
<path d="M1641.0,821.1C1642.5,827.9 1644.0,834.6 1645.5,841.3C1647.4,849.5 1649.3,857.7 1651.1,865.9C1653.0,874.2 1654.9,882.4 1656.7,890.6C1658.2,897.3 1659.6,904.1 1661.2,910.8C1662.2,914.9 1663.4,919.0 1664.6,923.1" class="il"/>
<path d="M1688.1,714.7C1687.6,718.1 1686.6,721.4 1686.5,724.8C1686.4,728.6 1686.5,732.4 1687.4,736.0C1688.0,738.3 1689.8,740.2 1691.0,742.3" class="sh"/>
<path d="M1688.1,714.7C1687.6,718.1 1686.6,721.4 1686.5,724.8C1686.4,728.6 1686.5,732.4 1687.4,736.0C1688.0,738.3 1689.8,740.2 1691.0,742.3" class="il"/>
<path d="M1653.4,733.8C1651.9,732.4 1650.7,730.6 1648.9,729.7C1646.8,728.7 1644.5,728.1 1642.2,728.2C1639.4,728.3 1636.7,729.1 1634.3,730.4C1632.5,731.4 1631.3,733.4 1629.8,734.9" class="sh"/>
<path d="M1653.4,733.8C1651.9,732.4 1650.7,730.6 1648.9,729.7C1646.8,728.7 1644.5,728.1 1642.2,728.2C1639.4,728.3 1636.7,729.1 1634.3,730.4C1632.5,731.4 1631.3,733.4 1629.8,734.9" class="il"/></g>
<g id="p15m"><path d="M1539.9,778.6C1541.0,784.5 1542.3,790.5 1543.3,796.5C1544.5,803.9 1545.5,811.4 1546.7,818.9C1547.8,826.4 1548.8,833.9 1550.0,841.3C1551.4,849.5 1552.8,857.8 1554.5,865.9C1556.2,874.2 1558.1,882.4 1560.1,890.6C1561.9,898.1 1563.4,905.6 1565.7,913.0C1567.1,917.6 1568.7,922.3 1571.3,926.4C1572.6,928.5 1574.5,930.9 1576.9,930.9C1579.0,930.9 1580.6,928.4 1581.4,926.4C1583.3,921.5 1584.0,916.1 1584.7,910.8C1585.9,902.6 1586.3,894.3 1587.0,886.1C1587.8,877.2 1588.5,868.2 1589.2,859.2C1590.0,850.3 1590.7,841.3 1591.5,832.3C1592.2,823.4 1592.9,814.4 1593.7,805.5C1594.4,796.9 1595.2,788.3 1595.9,779.7C1577.3,779.3 1558.6,778.9 1539.9,778.6Z" fill="url(#tg)" filter="url(#ts)"/>
<path d="M1539.9,778.6C1541.0,784.5 1542.3,790.5 1543.3,796.5C1544.5,803.9 1545.5,811.4 1546.7,818.9C1547.8,826.4 1548.8,833.9 1550.0,841.3C1551.4,849.5 1552.8,857.8 1554.5,865.9C1556.2,874.2 1558.1,882.4 1560.1,890.6C1561.9,898.1 1563.4,905.6 1565.7,913.0C1567.1,917.6 1568.7,922.3 1571.3,926.4C1572.6,928.5 1574.5,930.9 1576.9,930.9C1579.0,930.9 1580.6,928.4 1581.4,926.4C1583.3,921.5 1584.0,916.1 1584.7,910.8C1585.9,902.6 1586.3,894.3 1587.0,886.1C1587.8,877.2 1588.5,868.2 1589.2,859.2C1590.0,850.3 1590.7,841.3 1591.5,832.3C1592.2,823.4 1592.9,814.4 1593.7,805.5C1594.4,796.9 1595.2,788.3 1595.9,779.7C1577.3,779.3 1558.6,778.9 1539.9,778.6Z" class="olr"/>
<path d="M1595.9,779.7C1597.8,774.1 1600.0,768.6 1601.5,762.9C1603.0,757.7 1604.3,752.5 1604.9,747.2C1605.4,742.8 1605.5,738.2 1604.9,733.8C1604.3,729.5 1603.7,725.1 1601.5,721.4C1598.7,716.7 1594.6,712.7 1590.3,709.1C1585.6,705.1 1580.2,701.9 1574.7,699.0C1570.8,697.0 1566.7,695.1 1562.3,694.6C1560.3,694.3 1558.4,695.7 1556.7,696.8C1552.0,699.8 1547.5,703.2 1543.3,706.9C1539.3,710.3 1535.2,713.8 1532.1,718.1C1529.5,721.8 1527.2,726.0 1526.5,730.4C1525.7,735.2 1526.6,740.2 1527.6,745.0C1528.8,750.4 1531.3,755.4 1533.2,760.7C1535.4,766.6 1537.7,772.6 1539.9,778.6C1548.5,780.4 1557.0,783.2 1565.7,784.2C1570.9,784.7 1576.2,783.8 1581.4,783.1C1586.3,782.3 1591.1,780.8 1595.9,779.7Z" fill="url(#tgc)" filter="url(#tc)"/>
<path d="M1595.9,779.7C1597.8,774.1 1600.0,768.6 1601.5,762.9C1603.0,757.7 1604.3,752.5 1604.9,747.2C1605.4,742.8 1605.5,738.2 1604.9,733.8C1604.3,729.5 1603.7,725.1 1601.5,721.4C1598.7,716.7 1594.6,712.7 1590.3,709.1C1585.6,705.1 1580.2,701.9 1574.7,699.0C1570.8,697.0 1566.7,695.1 1562.3,694.6C1560.3,694.3 1558.4,695.7 1556.7,696.8C1552.0,699.8 1547.5,703.2 1543.3,706.9C1539.3,710.3 1535.2,713.8 1532.1,718.1C1529.5,721.8 1527.2,726.0 1526.5,730.4C1525.7,735.2 1526.6,740.2 1527.6,745.0C1528.8,750.4 1531.3,755.4 1533.2,760.7C1535.4,766.6 1537.7,772.6 1539.9,778.6C1548.5,780.4 1557.0,783.2 1565.7,784.2C1570.9,784.7 1576.2,783.8 1581.4,783.1C1586.3,782.3 1591.1,780.8 1595.9,779.7Z" class="olc"/>
<path d="M1576.9,720.3C1573.2,720.6 1569.4,721.0 1565.7,721.0C1562.3,721.0 1559.0,720.6 1555.6,720.3" class="sh"/>
<path d="M1576.9,720.3C1573.2,720.6 1569.4,721.0 1565.7,721.0C1562.3,721.0 1559.0,720.6 1555.6,720.3" class="il"/>
<path d="M1581.4,717.2C1579.9,718.2 1578.4,719.3 1576.9,720.3" class="il"/>
<path d="M1583.2,723.9C1581.1,722.7 1579.0,721.5 1576.9,720.3" class="il"/>
<path d="M1555.6,720.3C1554.1,719.2 1552.6,718.1 1551.1,717.0" class="il"/>
<path d="M1555.6,720.3C1553.4,721.2 1551.1,722.1 1548.9,723.0" class="il"/></g>
<g id="p14m"><path d="M1460.0,777.9C1460.8,785.2 1461.7,792.6 1462.4,800.0C1463.3,808.0 1464.0,816.0 1464.8,824.0C1465.6,832.0 1466.4,839.9 1467.2,847.9C1468.0,855.9 1468.9,863.9 1469.6,871.9C1470.1,877.5 1471.1,883.1 1470.8,888.7C1470.7,892.8 1468.6,896.7 1468.4,900.7C1468.2,906.3 1468.6,912.0 1469.6,917.5C1470.6,922.5 1472.1,927.4 1474.4,931.9C1475.7,934.4 1477.7,937.2 1480.4,937.9C1481.9,938.3 1481.8,934.0 1483.3,934.3C1485.2,934.7 1484.8,938.1 1486.4,939.1C1488.1,940.2 1490.6,941.1 1492.4,940.3C1494.8,939.3 1496.5,936.8 1497.2,934.3C1499.0,928.1 1499.2,921.6 1499.6,915.1C1500.1,907.1 1499.9,899.1 1500.1,891.1C1500.3,883.1 1500.5,875.1 1500.8,867.1C1501.1,859.1 1501.5,851.1 1502.0,843.1C1502.7,833.5 1503.5,823.9 1504.4,814.4C1505.1,807.1 1505.9,799.9 1506.8,792.8C1507.5,787.8 1508.4,782.8 1509.2,777.9C1492.8,777.9 1476.4,777.9 1460.0,777.9Z" fill="url(#tg)" filter="url(#ts)"/>
<path d="M1460.0,777.9C1460.8,785.2 1461.7,792.6 1462.4,800.0C1463.3,808.0 1464.0,816.0 1464.8,824.0C1465.6,832.0 1466.4,839.9 1467.2,847.9C1468.0,855.9 1468.9,863.9 1469.6,871.9C1470.1,877.5 1471.1,883.1 1470.8,888.7C1470.7,892.8 1468.6,896.7 1468.4,900.7C1468.2,906.3 1468.6,912.0 1469.6,917.5C1470.6,922.5 1472.1,927.4 1474.4,931.9C1475.7,934.4 1477.7,937.2 1480.4,937.9C1481.9,938.3 1481.8,934.0 1483.3,934.3C1485.2,934.7 1484.8,938.1 1486.4,939.1C1488.1,940.2 1490.6,941.1 1492.4,940.3C1494.8,939.3 1496.5,936.8 1497.2,934.3C1499.0,928.1 1499.2,921.6 1499.6,915.1C1500.1,907.1 1499.9,899.1 1500.1,891.1C1500.3,883.1 1500.5,875.1 1500.8,867.1C1501.1,859.1 1501.5,851.1 1502.0,843.1C1502.7,833.5 1503.5,823.9 1504.4,814.4C1505.1,807.1 1505.9,799.9 1506.8,792.8C1507.5,787.8 1508.4,782.8 1509.2,777.9C1492.8,777.9 1476.4,777.9 1460.0,777.9Z" class="olr"/>
<path d="M1509.2,777.9C1511.6,771.7 1514.0,765.4 1516.4,759.2C1518.8,753.2 1521.6,747.3 1523.6,741.2C1524.8,737.7 1526.6,734.0 1526.0,730.4C1525.3,726.0 1522.6,722.0 1520.0,718.4C1516.2,713.1 1511.7,708.3 1506.8,704.0C1502.5,700.2 1497.5,697.1 1492.4,694.4C1489.8,693.0 1486.9,691.9 1484.0,692.0C1481.1,692.1 1478.1,693.3 1475.6,694.9C1470.4,698.2 1465.7,702.2 1461.2,706.4C1456.9,710.5 1452.8,714.8 1449.2,719.6C1446.8,722.9 1443.8,726.3 1443.2,730.4C1442.5,735.2 1444.2,740.1 1445.6,744.8C1447.4,750.6 1450.4,756.0 1452.8,761.6C1455.2,767.0 1457.6,772.5 1460.0,777.9C1467.6,779.2 1475.1,781.4 1482.8,782.0C1487.6,782.3 1492.5,781.5 1497.2,780.8C1501.3,780.1 1505.2,778.8 1509.2,777.9Z" fill="url(#tgc)" filter="url(#tc)"/>
<path d="M1509.2,777.9C1511.6,771.7 1514.0,765.4 1516.4,759.2C1518.8,753.2 1521.6,747.3 1523.6,741.2C1524.8,737.7 1526.6,734.0 1526.0,730.4C1525.3,726.0 1522.6,722.0 1520.0,718.4C1516.2,713.1 1511.7,708.3 1506.8,704.0C1502.5,700.2 1497.5,697.1 1492.4,694.4C1489.8,693.0 1486.9,691.9 1484.0,692.0C1481.1,692.1 1478.1,693.3 1475.6,694.9C1470.4,698.2 1465.7,702.2 1461.2,706.4C1456.9,710.5 1452.8,714.8 1449.2,719.6C1446.8,722.9 1443.8,726.3 1443.2,730.4C1442.5,735.2 1444.2,740.1 1445.6,744.8C1447.4,750.6 1450.4,756.0 1452.8,761.6C1455.2,767.0 1457.6,772.5 1460.0,777.9C1467.6,779.2 1475.1,781.4 1482.8,782.0C1487.6,782.3 1492.5,781.5 1497.2,780.8C1501.3,780.1 1505.2,778.8 1509.2,777.9Z" class="olc"/>
<path d="M1471.3,888.7C1472.3,895.1 1473.1,901.6 1474.4,907.9C1475.8,914.4 1477.3,920.8 1479.2,927.1C1480.1,929.8 1481.6,932.2 1482.8,934.8" class="sh"/>
<path d="M1471.3,888.7C1472.3,895.1 1473.1,901.6 1474.4,907.9C1475.8,914.4 1477.3,920.8 1479.2,927.1C1480.1,929.8 1481.6,932.2 1482.8,934.8" class="il"/>
<path d="M1493.6,720.3C1490.0,720.5 1486.4,720.9 1482.8,720.8C1480.2,720.7 1477.7,720.1 1475.1,719.8" class="sh"/>
<path d="M1493.6,720.3C1490.0,720.5 1486.4,720.9 1482.8,720.8C1480.2,720.7 1477.7,720.1 1475.1,719.8" class="il"/>
<path d="M1498.4,716.0C1496.8,717.4 1495.2,718.9 1493.6,720.3" class="il"/>
<path d="M1502.0,723.9C1499.2,722.7 1496.4,721.5 1493.6,720.3" class="il"/>
<path d="M1475.1,719.8C1472.9,718.5 1470.7,717.3 1468.4,716.0" class="il"/>
<path d="M1475.1,719.8C1472.3,720.9 1469.5,722.1 1466.7,723.2" class="il"/></g>
<g id="p13m"><path d="M1372.0,779.6C1372.8,786.4 1373.5,793.2 1374.4,800.0C1375.3,808.0 1376.2,816.0 1377.2,824.0C1378.5,833.6 1379.8,843.2 1381.1,852.7C1382.4,862.3 1383.7,872.0 1385.1,881.5C1386.6,891.2 1388.4,900.7 1389.9,910.3C1391.4,919.1 1392.4,928.0 1394.0,936.7C1395.2,943.2 1396.4,949.6 1398.3,955.9C1399.5,959.7 1400.6,963.7 1403.1,966.7C1404.5,968.4 1407.1,969.8 1409.1,969.1C1411.6,968.3 1413.2,965.6 1413.9,963.1C1415.7,956.9 1415.9,950.3 1416.3,943.9C1417.1,934.3 1417.2,924.7 1417.5,915.1C1417.9,905.5 1417.9,895.9 1418.3,886.3C1418.6,876.7 1419.1,867.1 1419.5,857.5C1419.9,847.9 1420.2,838.3 1420.7,828.8C1421.1,819.2 1421.5,809.5 1422.3,800.0C1422.9,793.1 1423.9,786.4 1424.7,779.6C1407.1,779.6 1389.5,779.6 1372.0,779.6Z" fill="url(#tg)" filter="url(#ts)"/>
<path d="M1372.0,779.6C1372.8,786.4 1373.5,793.2 1374.4,800.0C1375.3,808.0 1376.2,816.0 1377.2,824.0C1378.5,833.6 1379.8,843.2 1381.1,852.7C1382.4,862.3 1383.7,872.0 1385.1,881.5C1386.6,891.2 1388.4,900.7 1389.9,910.3C1391.4,919.1 1392.4,928.0 1394.0,936.7C1395.2,943.2 1396.4,949.6 1398.3,955.9C1399.5,959.7 1400.6,963.7 1403.1,966.7C1404.5,968.4 1407.1,969.8 1409.1,969.1C1411.6,968.3 1413.2,965.6 1413.9,963.1C1415.7,956.9 1415.9,950.3 1416.3,943.9C1417.1,934.3 1417.2,924.7 1417.5,915.1C1417.9,905.5 1417.9,895.9 1418.3,886.3C1418.6,876.7 1419.1,867.1 1419.5,857.5C1419.9,847.9 1420.2,838.3 1420.7,828.8C1421.1,819.2 1421.5,809.5 1422.3,800.0C1422.9,793.1 1423.9,786.4 1424.7,779.6C1407.1,779.6 1389.5,779.6 1372.0,779.6Z" class="olr"/>
<path d="M1424.7,779.6C1427.1,772.8 1429.3,765.9 1431.9,759.2C1434.1,753.5 1437.0,748.1 1439.1,742.4C1440.4,738.9 1442.4,735.3 1442.0,731.6C1441.6,727.6 1439.2,723.9 1436.7,720.8C1432.6,715.4 1427.3,711.0 1422.3,706.4C1417.7,702.2 1413.2,697.7 1407.9,694.4C1404.3,692.1 1400.2,690.1 1395.9,689.6C1393.1,689.3 1389.9,690.2 1387.5,692.0C1383.2,695.2 1380.4,700.0 1376.8,704.0C1373.2,708.0 1369.3,711.7 1366.0,716.0C1363.6,719.0 1360.8,721.9 1360.0,725.6C1358.9,730.3 1359.7,735.2 1360.4,740.0C1361.3,745.7 1363.1,751.2 1364.8,756.8C1366.2,761.6 1368.0,766.3 1369.6,771.2C1370.4,773.9 1371.2,776.8 1372.0,779.6C1379.2,780.8 1386.3,782.6 1393.5,783.2C1399.1,783.6 1404.8,783.3 1410.3,782.7C1415.2,782.1 1419.9,780.6 1424.7,779.6Z" fill="url(#tgc)" filter="url(#tc)"/>
<path d="M1424.7,779.6C1427.1,772.8 1429.3,765.9 1431.9,759.2C1434.1,753.5 1437.0,748.1 1439.1,742.4C1440.4,738.9 1442.4,735.3 1442.0,731.6C1441.6,727.6 1439.2,723.9 1436.7,720.8C1432.6,715.4 1427.3,711.0 1422.3,706.4C1417.7,702.2 1413.2,697.7 1407.9,694.4C1404.3,692.1 1400.2,690.1 1395.9,689.6C1393.1,689.3 1389.9,690.2 1387.5,692.0C1383.2,695.2 1380.4,700.0 1376.8,704.0C1373.2,708.0 1369.3,711.7 1366.0,716.0C1363.6,719.0 1360.8,721.9 1360.0,725.6C1358.9,730.3 1359.7,735.2 1360.4,740.0C1361.3,745.7 1363.1,751.2 1364.8,756.8C1366.2,761.6 1368.0,766.3 1369.6,771.2C1370.4,773.9 1371.2,776.8 1372.0,779.6C1379.2,780.8 1386.3,782.6 1393.5,783.2C1399.1,783.6 1404.8,783.3 1410.3,782.7C1415.2,782.1 1419.9,780.6 1424.7,779.6Z" class="olc"/>
<path d="M1411.1,759.7C1409.6,758.5 1408.4,757.1 1406.7,756.3C1404.9,755.3 1402.8,754.5 1400.7,754.4C1398.5,754.2 1396.1,754.7 1394.0,755.6C1392.2,756.3 1391.0,758.0 1389.5,759.2" class="sh"/>
<path d="M1411.1,759.7C1409.6,758.5 1408.4,757.1 1406.7,756.3C1404.9,755.3 1402.8,754.5 1400.7,754.4C1398.5,754.2 1396.1,754.7 1394.0,755.6C1392.2,756.3 1391.0,758.0 1389.5,759.2" class="il"/></g>
<g id="p12m"><path d="M1289.7,778.4C1290.9,786.3 1292.1,794.1 1293.3,802.0C1294.5,810.0 1295.6,818.0 1296.9,826.0C1298.4,834.8 1299.9,843.6 1301.7,852.3C1303.5,860.4 1305.6,868.4 1307.7,876.3C1309.6,883.6 1311.6,890.8 1313.7,897.9C1315.6,904.4 1317.2,910.9 1319.7,917.1C1321.2,920.9 1323.0,924.8 1325.7,927.9C1327.2,929.6 1329.5,931.3 1331.7,931.0C1333.9,930.8 1335.8,928.8 1336.5,926.7C1338.3,921.4 1338.5,915.6 1338.9,909.9C1339.5,901.9 1339.3,893.9 1339.4,885.9C1339.5,877.9 1339.3,869.9 1339.4,861.9C1339.5,853.9 1339.8,845.9 1340.1,837.9C1340.4,829.9 1340.7,821.9 1341.3,814.0C1341.8,807.5 1342.6,801.2 1343.2,794.8C1343.8,789.3 1344.4,783.9 1344.9,778.4C1326.5,778.4 1308.1,778.4 1289.7,778.4Z" fill="url(#tg)" filter="url(#ts)"/>
<path d="M1289.7,778.4C1290.9,786.3 1292.1,794.1 1293.3,802.0C1294.5,810.0 1295.6,818.0 1296.9,826.0C1298.4,834.8 1299.9,843.6 1301.7,852.3C1303.5,860.4 1305.6,868.4 1307.7,876.3C1309.6,883.6 1311.6,890.8 1313.7,897.9C1315.6,904.4 1317.2,910.9 1319.7,917.1C1321.2,920.9 1323.0,924.8 1325.7,927.9C1327.2,929.6 1329.5,931.3 1331.7,931.0C1333.9,930.8 1335.8,928.8 1336.5,926.7C1338.3,921.4 1338.5,915.6 1338.9,909.9C1339.5,901.9 1339.3,893.9 1339.4,885.9C1339.5,877.9 1339.3,869.9 1339.4,861.9C1339.5,853.9 1339.8,845.9 1340.1,837.9C1340.4,829.9 1340.7,821.9 1341.3,814.0C1341.8,807.5 1342.6,801.2 1343.2,794.8C1343.8,789.3 1344.4,783.9 1344.9,778.4C1326.5,778.4 1308.1,778.4 1289.7,778.4Z" class="olr"/>
<path d="M1344.9,778.4C1347.5,772.3 1350.5,766.3 1352.6,760.0C1354.3,754.8 1355.3,749.3 1356.2,743.9C1357.0,739.1 1357.6,734.3 1357.6,729.5C1357.6,725.8 1357.3,722.0 1356.2,718.5C1355.2,715.5 1353.6,712.5 1351.4,710.3C1348.7,707.6 1345.3,705.6 1341.8,704.1C1337.2,702.1 1332.3,701.1 1327.4,700.0C1322.1,698.8 1316.7,698.0 1311.3,697.1C1306.5,696.4 1301.8,695.4 1296.9,695.2C1293.7,695.0 1290.4,695.0 1287.3,695.9C1284.7,696.7 1282.1,698.0 1280.1,700.0C1278.2,701.9 1276.9,704.6 1276.1,707.2C1275.0,710.3 1274.7,713.6 1274.6,716.8C1274.5,721.0 1274.7,725.3 1275.3,729.5C1276.0,734.4 1277.1,739.2 1278.5,743.9C1279.8,748.5 1281.4,753.1 1283.3,757.6C1284.9,761.7 1287.7,765.3 1289.0,769.6C1289.9,772.4 1289.5,775.5 1289.7,778.4C1296.5,779.7 1303.2,781.7 1310.1,782.3C1316.5,782.8 1323.0,782.3 1329.3,781.6C1334.6,781.0 1339.7,779.5 1344.9,778.4Z" fill="url(#tgc)" filter="url(#tc)"/>
<path d="M1344.9,778.4C1347.5,772.3 1350.5,766.3 1352.6,760.0C1354.3,754.8 1355.3,749.3 1356.2,743.9C1357.0,739.1 1357.6,734.3 1357.6,729.5C1357.6,725.8 1357.3,722.0 1356.2,718.5C1355.2,715.5 1353.6,712.5 1351.4,710.3C1348.7,707.6 1345.3,705.6 1341.8,704.1C1337.2,702.1 1332.3,701.1 1327.4,700.0C1322.1,698.8 1316.7,698.0 1311.3,697.1C1306.5,696.4 1301.8,695.4 1296.9,695.2C1293.7,695.0 1290.4,695.0 1287.3,695.9C1284.7,696.7 1282.1,698.0 1280.1,700.0C1278.2,701.9 1276.9,704.6 1276.1,707.2C1275.0,710.3 1274.7,713.6 1274.6,716.8C1274.5,721.0 1274.7,725.3 1275.3,729.5C1276.0,734.4 1277.1,739.2 1278.5,743.9C1279.8,748.5 1281.4,753.1 1283.3,757.6C1284.9,761.7 1287.7,765.3 1289.0,769.6C1289.9,772.4 1289.5,775.5 1289.7,778.4C1296.5,779.7 1303.2,781.7 1310.1,782.3C1316.5,782.8 1323.0,782.3 1329.3,781.6C1334.6,781.0 1339.7,779.5 1344.9,778.4Z" class="olc"/>
<path d="M1337.7,738.4C1336.1,742.8 1335.0,747.4 1332.9,751.6C1331.0,755.4 1328.9,759.4 1325.7,762.4C1323.5,764.4 1320.4,766.0 1317.3,766.0C1313.9,766.0 1310.3,764.6 1307.7,762.4C1304.4,759.6 1302.5,755.4 1300.5,751.6C1298.5,747.8 1296.9,743.7 1295.7,739.6C1294.9,736.9 1294.9,734.0 1294.5,731.2" class="sh"/>
<path d="M1337.7,738.4C1336.1,742.8 1335.0,747.4 1332.9,751.6C1331.0,755.4 1328.9,759.4 1325.7,762.4C1323.5,764.4 1320.4,766.0 1317.3,766.0C1313.9,766.0 1310.3,764.6 1307.7,762.4C1304.4,759.6 1302.5,755.4 1300.5,751.6C1298.5,747.8 1296.9,743.7 1295.7,739.6C1294.9,736.9 1294.9,734.0 1294.5,731.2" class="il"/></g>
<g id="p11m"><path d="M1198.6,778.0C1200.2,786.8 1201.6,795.6 1203.4,804.4C1205.2,813.2 1207.2,822.0 1209.4,830.7C1211.6,839.6 1214.0,848.4 1216.6,857.1C1218.8,865.2 1221.2,873.2 1223.7,881.1C1226.0,888.4 1228.6,895.5 1230.9,902.7C1233.0,909.1 1234.7,915.6 1236.9,921.9C1238.3,925.6 1239.6,929.4 1241.7,932.7C1242.9,934.4 1244.6,936.6 1246.5,936.3C1248.8,936.0 1250.6,933.7 1251.3,931.5C1253.1,926.2 1253.2,920.4 1253.7,914.7C1254.4,906.7 1254.5,898.7 1254.9,890.7C1255.3,882.7 1255.7,874.7 1256.1,866.7C1256.5,858.7 1256.9,850.7 1257.3,842.7C1257.7,834.7 1258.0,826.7 1258.5,818.8C1259.0,811.5 1259.6,804.4 1260.2,797.2C1260.8,790.8 1261.5,784.4 1262.1,778.0C1240.9,778.0 1219.8,778.0 1198.6,778.0Z" fill="url(#tg)" filter="url(#ts)"/>
<path d="M1198.6,778.0C1200.2,786.8 1201.6,795.6 1203.4,804.4C1205.2,813.2 1207.2,822.0 1209.4,830.7C1211.6,839.6 1214.0,848.4 1216.6,857.1C1218.8,865.2 1221.2,873.2 1223.7,881.1C1226.0,888.4 1228.6,895.5 1230.9,902.7C1233.0,909.1 1234.7,915.6 1236.9,921.9C1238.3,925.6 1239.6,929.4 1241.7,932.7C1242.9,934.4 1244.6,936.6 1246.5,936.3C1248.8,936.0 1250.6,933.7 1251.3,931.5C1253.1,926.2 1253.2,920.4 1253.7,914.7C1254.4,906.7 1254.5,898.7 1254.9,890.7C1255.3,882.7 1255.7,874.7 1256.1,866.7C1256.5,858.7 1256.9,850.7 1257.3,842.7C1257.7,834.7 1258.0,826.7 1258.5,818.8C1259.0,811.5 1259.6,804.4 1260.2,797.2C1260.8,790.8 1261.5,784.4 1262.1,778.0C1240.9,778.0 1219.8,778.0 1198.6,778.0Z" class="olr"/>
<path d="M1262.1,778.0C1264.1,774.0 1266.9,770.3 1268.1,766.0C1269.6,760.8 1269.8,755.3 1270.1,749.9C1270.5,741.9 1270.4,733.9 1270.3,725.9C1270.2,720.5 1270.2,715.0 1269.6,709.6C1269.3,706.9 1269.3,703.8 1267.4,701.9C1264.2,698.8 1259.6,697.4 1255.4,695.7C1250.2,693.4 1244.8,691.6 1239.3,689.9C1234.0,688.3 1228.7,686.7 1223.3,685.6C1218.0,684.5 1212.6,683.6 1207.2,683.2C1203.2,682.9 1199.2,683.1 1195.2,683.7C1192.4,684.1 1189.6,684.8 1187.3,686.3C1185.0,687.8 1183.0,689.9 1181.8,692.3C1180.3,695.3 1179.6,698.6 1179.4,701.9C1179.0,706.2 1179.5,710.6 1180.1,714.9C1180.8,720.2 1181.9,725.5 1183.2,730.7C1184.5,736.1 1186.2,741.5 1188.0,746.8C1189.7,752.0 1192.0,757.0 1193.8,762.1C1195.5,767.4 1197.0,772.7 1198.6,778.0C1206.2,779.2 1213.7,781.1 1221.3,781.6C1229.3,782.1 1237.4,781.5 1245.3,780.8C1251.0,780.3 1256.5,778.9 1262.1,778.0Z" fill="url(#tgc)" filter="url(#tc)"/>
<path d="M1262.1,778.0C1264.1,774.0 1266.9,770.3 1268.1,766.0C1269.6,760.8 1269.8,755.3 1270.1,749.9C1270.5,741.9 1270.4,733.9 1270.3,725.9C1270.2,720.5 1270.2,715.0 1269.6,709.6C1269.3,706.9 1269.3,703.8 1267.4,701.9C1264.2,698.8 1259.6,697.4 1255.4,695.7C1250.2,693.4 1244.8,691.6 1239.3,689.9C1234.0,688.3 1228.7,686.7 1223.3,685.6C1218.0,684.5 1212.6,683.6 1207.2,683.2C1203.2,682.9 1199.2,683.1 1195.2,683.7C1192.4,684.1 1189.6,684.8 1187.3,686.3C1185.0,687.8 1183.0,689.9 1181.8,692.3C1180.3,695.3 1179.6,698.6 1179.4,701.9C1179.0,706.2 1179.5,710.6 1180.1,714.9C1180.8,720.2 1181.9,725.5 1183.2,730.7C1184.5,736.1 1186.2,741.5 1188.0,746.8C1189.7,752.0 1192.0,757.0 1193.8,762.1C1195.5,767.4 1197.0,772.7 1198.6,778.0C1206.2,779.2 1213.7,781.1 1221.3,781.6C1229.3,782.1 1237.4,781.5 1245.3,780.8C1251.0,780.3 1256.5,778.9 1262.1,778.0Z" class="olc"/>
<path d="M1258.5,734.3C1257.2,738.5 1256.1,742.7 1254.5,746.8C1252.9,750.5 1251.1,754.2 1248.9,757.6C1247.3,760.2 1244.9,762.4 1242.9,764.8" class="sh"/>
<path d="M1258.5,734.3C1257.2,738.5 1256.1,742.7 1254.5,746.8C1252.9,750.5 1251.1,754.2 1248.9,757.6C1247.3,760.2 1244.9,762.4 1242.9,764.8" class="il"/>
<path d="M1205.8,734.3C1206.6,738.5 1206.8,742.7 1208.2,746.8C1209.3,750.2 1211.0,753.4 1213.0,756.4C1214.6,759.0 1217.0,761.2 1219.0,763.6" class="sh"/>
<path d="M1205.8,734.3C1206.6,738.5 1206.8,742.7 1208.2,746.8C1209.3,750.2 1211.0,753.4 1213.0,756.4C1214.6,759.0 1217.0,761.2 1219.0,763.6" class="il"/></g></g>
<path d="M366,354.26H1948M366,367.12H1948M366,379.99H1948M366,392.86H1948M366,405.72H1948M366,418.59H1948M366,431.45H1948M366,444.32H1948M366,457.18H1948M366,470.05H1948M366,482.91H1948M366,495.78H1948M366,508.64H1948M366,521.50H1948M366,534.37H1948M366,547.24H1948M366,560.10H1948M366,778.40H1948M366,791.26H1948M366,804.13H1948M366,817.00H1948M366,829.86H1948M366,842.73H1948M366,855.59H1948M366,868.45H1948M366,881.32H1948M366,894.18H1948M366,907.05H1948M366,919.91H1948M366,932.78H1948M366,945.64H1948M366,958.51H1948M366,971.38H1948M366,984.24H1948" stroke="#000" stroke-width="2.55" stroke-linecap="round" fill="none"/>
<polygon points="594.3,482.9 648.2,521.5 702.2,521.5 726.0,482.9 752.5,534.4 778.0,521.5 808.0,508.6 832.0,521.5 856.0,508.6 887.5,482.9 914.0,521.5 940.2,534.4 976.2,521.5 999.8,482.9 1024.2,534.4 1055.8,482.9 1088.0,547.2 1119.5,482.9 1119.5,560.1 1088.0,585.8 1055.8,560.1 1024.2,573.0 999.8,585.8 976.2,573.0 940.2,573.0 914.0,560.1 887.5,573.0 856.0,573.0 832.0,560.1 808.0,560.1 778.0,560.1 752.5,560.1 726.0,547.2 702.2,560.1 648.2,560.1 594.3,547.2" fill="#00b000" fill-opacity=".2"/>
<polyline points="594.3,482.9 648.2,521.5 702.2,521.5 726.0,482.9 752.5,534.4 778.0,521.5 808.0,508.6 832.0,521.5 856.0,508.6 887.5,482.9 914.0,521.5 940.2,534.4 976.2,521.5 999.8,482.9 1024.2,534.4 1055.8,482.9 1088.0,547.2 1119.5,482.9" class="gl"/><polyline points="594.3,547.2 648.2,560.1 702.2,560.1 726.0,547.2 752.5,560.1 778.0,560.1 808.0,560.1 832.0,560.1 856.0,573.0 887.5,573.0 914.0,560.1 940.2,573.0 976.2,573.0 999.8,585.8 1024.2,573.0 1055.8,560.1 1088.0,585.8 1119.5,560.1" class="gl"/>
<polygon points="594.3,508.6 648.2,508.6 702.2,508.6 726.0,508.6 752.5,534.4 778.0,534.4 808.0,521.5 832.0,521.5 856.0,521.5 887.5,495.8 914.0,534.4 940.2,521.5 976.2,521.5 999.8,508.6 1024.2,521.5 1055.8,495.8 1088.0,521.5 1119.5,508.6 1119.5,547.2 1088.0,547.2 1055.8,547.2 1024.2,560.1 999.8,560.1 976.2,560.1 940.2,560.1 914.0,560.1 887.5,547.2 856.0,560.1 832.0,547.2 808.0,560.1 778.0,560.1 752.5,560.1 726.0,547.2 702.2,534.4 648.2,547.2 594.3,547.2" class="bf"/>
<polyline points="594.3,508.6 648.2,508.6 702.2,508.6 726.0,508.6 752.5,534.4 778.0,534.4 808.0,521.5 832.0,521.5 856.0,521.5 887.5,495.8 914.0,534.4 940.2,521.5 976.2,521.5 999.8,508.6 1024.2,521.5 1055.8,495.8 1088.0,521.5 1119.5,508.6" class="bl"/><polyline points="594.3,547.2 648.2,547.2 702.2,534.4 726.0,547.2 752.5,560.1 778.0,560.1 808.0,560.1 832.0,547.2 856.0,560.1 887.5,547.2 914.0,560.1 940.2,560.1 976.2,560.1 999.8,560.1 1024.2,560.1 1055.8,547.2 1088.0,547.2 1119.5,547.2" class="rl"/>
<polygon points="598.8,778.4 643.8,791.3 690.2,778.4 722.5,778.4 748.0,778.4 774.2,778.4 808.0,778.4 832.8,778.4 858.2,778.4 891.5,778.4 919.2,778.4 945.8,765.5 971.8,752.7 998.0,739.8 1024.2,739.8 1054.2,778.4 1085.0,765.5 1115.8,765.5 1115.8,855.6 1085.0,842.7 1054.2,868.5 1024.2,817.0 998.0,817.0 971.8,829.9 945.8,817.0 919.2,817.0 891.5,868.5 858.2,855.6 832.8,817.0 808.0,842.7 774.2,829.9 748.0,817.0 722.5,842.7 690.2,842.7 643.8,829.9 598.8,829.9" fill="#00b000" fill-opacity=".2"/>
<polyline points="598.8,778.4 643.8,791.3 690.2,778.4 722.5,778.4 748.0,778.4 774.2,778.4 808.0,778.4 832.8,778.4 858.2,778.4 891.5,778.4 919.2,778.4 945.8,765.5 971.8,752.7 998.0,739.8 1024.2,739.8 1054.2,778.4 1085.0,765.5 1115.8,765.5" class="gl"/><polyline points="598.8,829.9 643.8,829.9 690.2,842.7 722.5,842.7 748.0,817.0 774.2,829.9 808.0,842.7 832.8,817.0 858.2,855.6 891.5,868.5 919.2,817.0 945.8,817.0 971.8,829.9 998.0,817.0 1024.2,817.0 1054.2,868.5 1085.0,842.7 1115.8,855.6" class="gl"/>
<polygon points="598.8,842.7 643.8,829.9 690.2,829.9 722.5,829.9 748.0,817.0 774.2,817.0 808.0,817.0 832.8,804.1 858.2,817.0 891.5,829.9 919.2,804.1 945.8,817.0 971.8,817.0 998.0,804.1 1024.2,804.1 1054.2,842.7 1085.0,817.0 1115.8,829.9 1115.8,791.3 1085.0,778.4 1054.2,791.3 1024.2,778.4 998.0,778.4 971.8,778.4 945.8,791.3 919.2,778.4 891.5,791.3 858.2,778.4 832.8,778.4 808.0,778.4 774.2,791.3 748.0,791.3 722.5,791.3 690.2,791.3 643.8,804.1 598.8,791.3" class="bf"/>
<polyline points="598.8,842.7 643.8,829.9 690.2,829.9 722.5,829.9 748.0,817.0 774.2,817.0 808.0,817.0 832.8,804.1 858.2,817.0 891.5,829.9 919.2,804.1 945.8,817.0 971.8,817.0 998.0,804.1 1024.2,804.1 1054.2,842.7 1085.0,817.0 1115.8,829.9" class="bl"/><polyline points="598.8,791.3 643.8,804.1 690.2,791.3 722.5,791.3 748.0,791.3 774.2,791.3 808.0,778.4 832.8,778.4 858.2,778.4 891.5,791.3 919.2,778.4 945.8,791.3 971.8,778.4 998.0,778.4 1024.2,778.4 1054.2,791.3 1085.0,778.4 1115.8,791.3" class="rl"/>
<polygon points="1196.4,508.6 1227.0,534.4 1258.2,534.4 1291.7,521.5 1316.0,534.4 1339.2,521.5 1374.5,521.5 1401.5,534.4 1430.4,457.2 1458.2,482.9 1483.8,521.5 1510.0,444.3 1538.5,521.5 1564.0,470.0 1590.2,482.9 1614.2,482.9 1668.2,521.5 1721.5,495.8 1744.8,508.6 1783.0,521.5 1821.7,495.8 1821.7,560.1 1783.0,560.1 1744.8,560.1 1721.5,547.2 1668.2,560.1 1614.2,560.1 1590.2,560.1 1564.0,560.1 1538.5,560.1 1510.0,560.1 1483.8,560.1 1458.2,573.0 1430.4,560.1 1401.5,560.1 1374.5,560.1 1339.2,560.1 1316.0,560.1 1291.7,560.1 1258.2,573.0 1227.0,573.0 1196.4,573.0" fill="#00b000" fill-opacity=".2"/>
<polyline points="1196.4,508.6 1227.0,534.4 1258.2,534.4 1291.7,521.5 1316.0,534.4 1339.2,521.5 1374.5,521.5 1401.5,534.4 1430.4,457.2 1458.2,482.9 1483.8,521.5 1510.0,444.3 1538.5,521.5 1564.0,470.0 1590.2,482.9 1614.2,482.9 1668.2,521.5 1721.5,495.8 1744.8,508.6 1783.0,521.5 1821.7,495.8" class="gl"/><polyline points="1196.4,573.0 1227.0,573.0 1258.2,573.0 1291.7,560.1 1316.0,560.1 1339.2,560.1 1374.5,560.1 1401.5,560.1 1430.4,560.1 1458.2,573.0 1483.8,560.1 1510.0,560.1 1538.5,560.1 1564.0,560.1 1590.2,560.1 1614.2,560.1 1668.2,560.1 1721.5,547.2 1744.8,560.1 1783.0,560.1 1821.7,560.1" class="gl"/>
<polygon points="1196.4,508.6 1227.0,534.4 1258.2,508.6 1291.7,521.5 1316.0,547.2 1339.2,521.5 1374.5,521.5 1401.5,521.5 1430.4,482.9 1458.2,508.6 1483.8,547.2 1510.0,508.6 1538.5,521.5 1564.0,521.5 1590.2,470.0 1614.2,508.6 1668.2,508.6 1721.5,508.6 1721.5,547.2 1668.2,560.1 1614.2,547.2 1590.2,547.2 1564.0,560.1 1538.5,547.2 1510.0,547.2 1483.8,560.1 1458.2,547.2 1430.4,534.4 1401.5,547.2 1374.5,547.2 1339.2,560.1 1316.0,573.0 1291.7,560.1 1258.2,547.2 1227.0,573.0 1196.4,547.2" class="bf"/>
<polyline points="1196.4,508.6 1227.0,534.4 1258.2,508.6 1291.7,521.5 1316.0,547.2 1339.2,521.5 1374.5,521.5 1401.5,521.5 1430.4,482.9 1458.2,508.6 1483.8,547.2 1510.0,508.6 1538.5,521.5 1564.0,521.5 1590.2,470.0 1614.2,508.6 1668.2,508.6 1721.5,508.6" class="bl"/><polyline points="1196.4,547.2 1227.0,573.0 1258.2,547.2 1291.7,560.1 1316.0,573.0 1339.2,560.1 1374.5,547.2 1401.5,547.2 1430.4,534.4 1458.2,547.2 1483.8,560.1 1510.0,547.2 1538.5,547.2 1564.0,560.1 1590.2,547.2 1614.2,547.2 1668.2,560.1 1721.5,547.2" class="rl"/>
<polygon points="1200.5,778.4 1230.8,765.5 1262.0,778.4 1292.0,765.5 1317.5,765.5 1344.2,778.4 1370.8,778.4 1397.8,791.3 1426.5,778.4 1457.5,778.4 1482.7,791.3 1507.8,778.4 1542.2,778.4 1567.8,791.3 1594.0,778.4 1623.7,778.4 1672.0,817.0 1720.0,778.4 1751.7,791.3 1790.0,791.3 1829.5,778.4 1829.5,907.0 1790.0,907.0 1751.7,842.7 1720.0,855.6 1672.0,932.8 1623.7,855.6 1594.0,868.5 1567.8,829.9 1542.2,842.7 1507.8,855.6 1482.7,842.7 1457.5,868.5 1426.5,881.3 1397.8,894.2 1370.8,817.0 1344.2,829.9 1317.5,817.0 1292.0,804.1 1262.0,817.0 1230.8,804.1 1200.5,842.7" fill="#00b000" fill-opacity=".2"/>
<polyline points="1200.5,778.4 1230.8,765.5 1262.0,778.4 1292.0,765.5 1317.5,765.5 1344.2,778.4 1370.8,778.4 1397.8,791.3 1426.5,778.4 1457.5,778.4 1482.7,791.3 1507.8,778.4 1542.2,778.4 1567.8,791.3 1594.0,778.4 1623.7,778.4 1672.0,817.0 1720.0,778.4 1751.7,791.3 1790.0,791.3 1829.5,778.4" class="gl"/><polyline points="1200.5,842.7 1230.8,804.1 1262.0,817.0 1292.0,804.1 1317.5,817.0 1344.2,829.9 1370.8,817.0 1397.8,894.2 1426.5,881.3 1457.5,868.5 1482.7,842.7 1507.8,855.6 1542.2,842.7 1567.8,829.9 1594.0,868.5 1623.7,855.6 1672.0,932.8 1720.0,855.6 1751.7,842.7 1790.0,907.0 1829.5,907.0" class="gl"/>
<polygon points="1200.5,842.7 1230.8,804.1 1262.0,817.0 1292.0,829.9 1317.5,829.9 1344.2,842.7 1370.8,829.9 1397.8,817.0 1426.5,842.7 1457.5,829.9 1482.7,829.9 1507.8,855.6 1542.2,817.0 1567.8,829.9 1594.0,881.3 1623.7,881.3 1672.0,919.9 1720.0,855.6 1720.0,804.1 1672.0,829.9 1623.7,791.3 1594.0,817.0 1567.8,804.1 1542.2,791.3 1507.8,817.0 1482.7,804.1 1457.5,791.3 1426.5,791.3 1397.8,791.3 1370.8,804.1 1344.2,804.1 1317.5,804.1 1292.0,791.3 1262.0,791.3 1230.8,778.4 1200.5,791.3" class="bf"/>
<polyline points="1200.5,842.7 1230.8,804.1 1262.0,817.0 1292.0,829.9 1317.5,829.9 1344.2,842.7 1370.8,829.9 1397.8,817.0 1426.5,842.7 1457.5,829.9 1482.7,829.9 1507.8,855.6 1542.2,817.0 1567.8,829.9 1594.0,881.3 1623.7,881.3 1672.0,919.9 1720.0,855.6" class="bl"/><polyline points="1200.5,791.3 1230.8,778.4 1262.0,791.3 1292.0,791.3 1317.5,804.1 1344.2,804.1 1370.8,804.1 1397.8,791.3 1426.5,791.3 1457.5,791.3 1482.7,804.1 1507.8,817.0 1542.2,791.3 1567.8,804.1 1594.0,817.0 1623.7,791.3 1672.0,829.9 1720.0,804.1" class="rl"/>
<circle cx="647" cy="516.8" r="13.5" fill="none" stroke="#000" stroke-width="4"/>
<circle cx="1670.8" cy="516.8" r="13.5" fill="none" stroke="#000" stroke-width="4"/>
<circle cx="611" cy="847" r="13.5" fill="none" stroke="#000" stroke-width="4"/>
<circle cx="679" cy="820.8" r="13.5" fill="none" stroke="#000" stroke-width="4"/>
<path d="M1640.7,807.5A13.5,13.5 0 0 0 1640.7,834.5Z" fill="#000"/><circle cx="1640.7" cy="821" r="13.5" fill="none" stroke="#000" stroke-width="4"/>
<path d="M1710.8,833.5A13.5,13.5 0 0 0 1710.8,860.5Z" fill="#000"/><circle cx="1710.8" cy="847" r="13.5" fill="none" stroke="#000" stroke-width="4"/>
<line x1="445" y1="349.5" x2="412" y2="651.5" stroke="#000" stroke-width="4" stroke-linecap="round"/>
<line x1="558" y1="349.5" x2="524.5" y2="651.5" stroke="#000" stroke-width="4" stroke-linecap="round"/>
<line x1="1810.5" y1="349.5" x2="1777.5" y2="651.5" stroke="#000" stroke-width="4" stroke-linecap="round"/>
<line x1="1923.8" y1="349.5" x2="1890.5" y2="651.5" stroke="#000" stroke-width="4" stroke-linecap="round"/>
<line x1="426" y1="684" x2="392" y2="984" stroke="#000" stroke-width="4" stroke-linecap="round"/>
<line x1="538.5" y1="684" x2="504.5" y2="984" stroke="#000" stroke-width="4" stroke-linecap="round"/>
<line x1="1801.5" y1="684" x2="1769" y2="984" stroke="#000" stroke-width="4" stroke-linecap="round"/>
<line x1="1915" y1="684" x2="1882" y2="984" stroke="#000" stroke-width="4" stroke-linecap="round"/>
</svg>
</body></html>
